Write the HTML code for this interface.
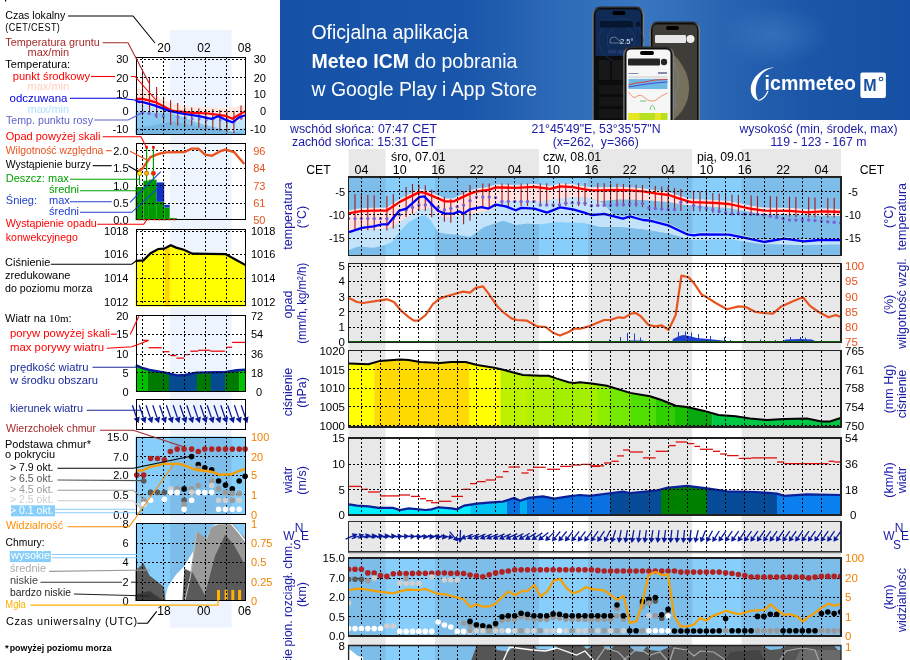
<!DOCTYPE html>
<html><head><meta charset="utf-8"><title>Meteogram</title>
<style>html,body{margin:0;padding:0;background:#fff;}body{width:910px;height:660px;overflow:hidden;position:relative;}</style>
</head><body>
<svg width="910" height="660" viewBox="0 0 910 660" style="position:absolute;left:0;top:0;will-change:transform">
<g font-family='"Liberation Sans", sans-serif'>
<rect x="348.6" y="149" width="36.9" height="511" fill="#e8e8e8"/>
<rect x="435.0" y="149" width="103.9" height="511" fill="#e8e8e8"/>
<rect x="588.3" y="149" width="103.9" height="511" fill="#e8e8e8"/>
<rect x="741.6" y="149" width="99.4" height="511" fill="#e8e8e8"/>
<text x="361.4" y="174" font-size="12.5" fill="#000" text-anchor="middle">04</text>
<text x="399.7" y="174" font-size="12.5" fill="#000" text-anchor="middle">10</text>
<text x="438.1" y="174" font-size="12.5" fill="#000" text-anchor="middle">16</text>
<text x="476.4" y="174" font-size="12.5" fill="#000" text-anchor="middle">22</text>
<text x="514.8" y="174" font-size="12.5" fill="#000" text-anchor="middle">04</text>
<text x="553.1" y="174" font-size="12.5" fill="#000" text-anchor="middle">10</text>
<text x="591.4" y="174" font-size="12.5" fill="#000" text-anchor="middle">16</text>
<text x="629.8" y="174" font-size="12.5" fill="#000" text-anchor="middle">22</text>
<text x="668.1" y="174" font-size="12.5" fill="#000" text-anchor="middle">04</text>
<text x="706.5" y="174" font-size="12.5" fill="#000" text-anchor="middle">10</text>
<text x="744.8" y="174" font-size="12.5" fill="#000" text-anchor="middle">16</text>
<text x="783.1" y="174" font-size="12.5" fill="#000" text-anchor="middle">22</text>
<text x="821.5" y="174" font-size="12.5" fill="#000" text-anchor="middle">04</text>
<text x="391" y="161" font-size="12.3" fill="#000">śro, 07.01</text>
<text x="543" y="161" font-size="12.3" fill="#000">czw, 08.01</text>
<text x="697" y="161" font-size="12.3" fill="#000">pią, 09.01</text>
<text x="318.5" y="174" font-size="12.2" fill="#000" text-anchor="middle">CET</text>
<text x="872" y="174" font-size="12.2" fill="#000" text-anchor="middle">CET</text>
<clipPath id="ct"><rect x="348.6" y="177" width="492.4" height="78.5"/></clipPath>
<g clip-path="url(#ct)">
<rect x="348.6" y="177" width="492.4" height="78.5" fill="#87cefa"/>
<rect x="348.6" y="177" width="36.9" height="78.5" fill="#7cbdea"/>
<rect x="435.0" y="177" width="103.9" height="78.5" fill="#7cbdea"/>
<rect x="588.3" y="177" width="103.9" height="78.5" fill="#7cbdea"/>
<rect x="741.6" y="177" width="99.4" height="78.5" fill="#7cbdea"/>
<path d="M349.0,232.9 L351.0,232.3 L353.0,231.7 L355.0,231.2 L357.0,230.6 L359.0,230.0 L361.0,229.9 L363.0,229.8 L365.0,229.7 L367.0,229.6 L369.0,229.5 L371.0,229.4 L373.0,229.3 L375.0,229.2 L377.0,229.1 L379.0,229.0 L381.0,228.9 L383.0,228.8 L385.0,228.7 L387.0,228.6 L389.0,228.1 L391.0,227.0 L393.0,226.0 L395.0,225.0 L397.0,223.9 L399.0,222.9 L401.0,221.6 L403.0,220.3 L405.0,219.0 L407.0,217.7 L409.0,216.4 L411.0,215.2 L413.0,213.9 L415.0,212.6 L417.0,211.3 L419.0,210.0 L421.0,209.7 L423.0,209.3 L425.0,208.9 L427.0,208.6 L429.0,208.2 L431.0,207.9 L433.0,210.1 L435.0,212.4 L437.0,214.6 L439.0,216.0 L441.0,216.6 L443.0,217.3 L445.0,217.9 L447.0,217.6 L449.0,217.3 L451.0,217.0 L453.0,216.7 L455.0,216.4 L457.0,216.1 L459.0,215.8 L461.0,215.5 L463.0,215.2 L465.0,214.9 L467.0,214.7 L469.0,214.4 L471.0,214.1 L473.0,213.8 L475.0,213.4 L477.0,213.1 L479.0,212.8 L481.0,212.4 L483.0,212.1 L485.0,211.7 L487.0,211.4 L489.0,211.0 L491.0,210.7 L493.0,208.3 L495.0,205.8 L497.0,203.4 L499.0,201.4 L501.0,201.4 L503.0,201.3 L505.0,201.3 L507.0,201.3 L509.0,201.3 L511.0,201.2 L513.0,201.2 L515.0,201.2 L517.0,201.1 L519.0,201.1 L521.0,201.1 L523.0,201.1 L525.0,201.2 L527.0,201.2 L529.0,201.2 L531.0,201.3 L533.0,201.3 L535.0,201.3 L537.0,201.3 L539.0,201.4 L541.0,201.4 L543.0,201.1 L545.0,200.8 L547.0,200.4 L549.0,200.1 L551.0,199.8 L553.0,199.5 L555.0,199.2 L557.0,198.9 L559.0,198.5 L561.0,198.2 L563.0,197.9 L565.0,197.8 L567.0,197.7 L569.0,197.6 L571.0,197.5 L573.0,197.4 L575.0,197.3 L577.0,197.2 L579.0,197.1 L581.0,197.0 L583.0,196.9 L585.0,197.2 L587.0,197.7 L589.0,198.2 L591.0,198.7 L593.0,199.2 L595.0,199.7 L597.0,200.2 L599.0,200.7 L601.0,201.9 L603.0,203.6 L605.0,205.4 L607.0,207.6 L609.0,209.9 L611.0,212.5 L613.0,214.1 L615.0,214.6 L617.0,215.1 L619.0,215.6 L621.0,216.1 L623.0,216.6 L625.0,216.0 L627.0,215.3 L629.0,214.7 L631.0,214.7 L633.0,215.2 L635.0,215.8 L637.0,216.3 L639.0,216.9 L641.0,217.4 L643.0,218.0 L645.0,218.2 L647.0,218.4 L649.0,218.6 L651.0,219.0 L653.0,219.5 L655.0,220.0 L657.0,220.5 L659.0,221.1 L661.0,221.6 L663.0,222.1 L665.0,222.6 L667.0,223.2 L669.0,223.7 L671.0,224.7 L673.0,225.6 L675.0,226.6 L677.0,227.5 L679.0,228.5 L681.0,229.4 L683.0,230.4 L685.0,231.3 L687.0,232.3 L689.0,232.6 L691.0,232.9 L693.0,233.2 L695.0,233.2 L697.0,232.9 L699.0,232.5 L701.0,232.3 L703.0,232.3 L705.0,232.4 L707.0,232.4 L709.0,232.4 L711.0,232.4 L713.0,232.4 L715.0,232.5 L717.0,232.5 L719.0,232.5 L721.0,232.5 L723.0,232.5 L725.0,232.6 L727.0,232.6 L729.0,232.6 L731.0,233.0 L733.0,233.4 L735.0,233.8 L737.0,234.3 L739.0,234.7 L741.0,235.1 L743.0,235.5 L745.0,235.9 L747.0,236.3 L749.0,236.8 L751.0,237.2 L753.0,237.6 L755.0,238.1 L757.0,238.5 L759.0,238.9 L761.0,239.4 L763.0,239.8 L765.0,239.8 L767.0,239.5 L769.0,239.2 L771.0,238.8 L773.0,238.5 L775.0,238.1 L777.0,237.8 L779.0,237.4 L781.0,237.1 L783.0,236.8 L785.0,236.7 L787.0,237.0 L789.0,237.3 L791.0,237.6 L793.0,237.9 L795.0,238.1 L797.0,238.4 L799.0,238.7 L801.0,239.0 L803.0,239.3 L805.0,239.3 L807.0,239.1 L809.0,238.9 L811.0,238.7 L813.0,238.6 L815.0,238.4 L817.0,238.2 L819.0,238.0 L821.0,238.0 L823.0,238.0 L825.0,238.0 L827.0,238.0 L829.0,238.0 L831.0,238.0 L833.0,238.0 L835.0,238.0 L837.0,238.0 L839.0,238.0 L841.0,238.0 L841.0,244.5 L839.0,244.5 L837.0,244.5 L835.0,244.6 L833.0,244.6 L831.0,244.6 L829.0,244.6 L827.0,244.7 L825.0,244.7 L823.0,244.7 L821.0,244.7 L819.0,244.8 L817.0,244.8 L815.0,244.8 L813.0,244.8 L811.0,244.9 L809.0,244.9 L807.0,244.9 L805.0,244.9 L803.0,245.0 L801.0,245.0 L799.0,245.0 L797.0,244.9 L795.0,244.9 L793.0,244.8 L791.0,244.8 L789.0,244.7 L787.0,244.7 L785.0,244.6 L783.0,244.6 L781.0,244.5 L779.0,244.5 L777.0,244.4 L775.0,244.4 L773.0,244.3 L771.0,244.3 L769.0,244.2 L767.0,244.2 L765.0,244.1 L763.0,244.1 L761.0,244.0 L759.0,243.8 L757.0,243.5 L755.0,243.2 L753.0,242.8 L751.0,242.5 L749.0,242.2 L747.0,241.9 L745.0,241.5 L743.0,241.2 L741.0,240.9 L739.0,240.5 L737.0,240.2 L735.0,239.9 L733.0,239.6 L731.0,239.2 L729.0,238.9 L727.0,239.0 L725.0,239.0 L723.0,239.1 L721.0,239.2 L719.0,239.2 L717.0,239.3 L715.0,239.3 L713.0,239.4 L711.0,239.5 L709.0,239.5 L707.0,239.6 L705.0,239.7 L703.0,239.7 L701.0,239.8 L699.0,239.8 L697.0,239.9 L695.0,240.0 L693.0,239.8 L691.0,239.4 L689.0,239.0 L687.0,238.6 L685.0,238.0 L683.0,237.5 L681.0,236.9 L679.0,236.4 L677.0,235.8 L675.0,235.3 L673.0,234.7 L671.0,234.2 L669.0,233.6 L667.0,233.3 L665.0,232.9 L663.0,232.6 L661.0,232.3 L659.0,231.9 L657.0,231.6 L655.0,231.3 L653.0,231.0 L651.0,230.6 L649.0,230.3 L647.0,230.0 L645.0,229.6 L643.0,229.3 L641.0,229.1 L639.0,228.9 L637.0,228.7 L635.0,228.5 L633.0,228.3 L631.0,228.0 L629.0,227.8 L627.0,227.6 L625.0,227.4 L623.0,227.2 L621.0,227.0 L619.0,227.0 L617.0,227.0 L615.0,227.0 L613.0,227.0 L611.0,227.0 L609.0,227.0 L607.0,227.0 L605.0,227.0 L603.0,227.0 L601.0,227.0 L599.0,226.7 L597.0,226.2 L595.0,225.7 L593.0,225.2 L591.0,224.7 L589.0,224.2 L587.0,223.7 L585.0,223.2 L583.0,222.9 L581.0,222.8 L579.0,222.8 L577.0,222.7 L575.0,222.6 L573.0,222.6 L571.0,222.5 L569.0,222.5 L567.0,222.4 L565.0,222.4 L563.0,222.3 L561.0,222.2 L559.0,222.2 L557.0,222.1 L555.0,222.2 L553.0,222.5 L551.0,222.8 L549.0,223.1 L547.0,223.4 L545.0,223.7 L543.0,224.0 L541.0,224.3 L539.0,224.2 L537.0,224.1 L535.0,224.0 L533.0,223.9 L531.0,223.8 L529.0,223.7 L527.0,223.6 L525.0,223.9 L523.0,224.1 L521.0,224.4 L519.0,224.6 L517.0,224.9 L515.0,224.7 L513.0,224.0 L511.0,223.3 L509.0,222.7 L507.0,222.0 L505.0,221.4 L503.0,220.7 L501.0,221.4 L499.0,222.0 L497.0,222.7 L495.0,223.4 L493.0,224.1 L491.0,224.7 L489.0,225.4 L487.0,226.1 L485.0,226.8 L483.0,227.8 L481.0,229.2 L479.0,230.7 L477.0,232.1 L475.0,233.5 L473.0,235.0 L471.0,236.4 L469.0,236.9 L467.0,236.5 L465.0,236.1 L463.0,235.8 L461.0,235.4 L459.0,235.0 L457.0,234.8 L455.0,234.6 L453.0,234.4 L451.0,234.2 L449.0,234.0 L447.0,233.8 L445.0,233.6 L443.0,233.2 L441.0,232.7 L439.0,232.3 L437.0,230.5 L435.0,227.2 L433.0,224.0 L431.0,220.7 L429.0,218.8 L427.0,216.9 L425.0,215.0 L423.0,215.5 L421.0,215.9 L419.0,216.4 L417.0,217.5 L415.0,218.7 L413.0,219.8 L411.0,221.0 L409.0,222.1 L407.0,224.1 L405.0,226.1 L403.0,228.1 L401.0,230.1 L399.0,232.1 L397.0,235.0 L395.0,237.8 L393.0,240.7 L391.0,242.5 L389.0,243.3 L387.0,244.2 L385.0,245.0 L383.0,245.5 L381.0,246.0 L379.0,246.5 L377.0,247.0 L375.0,247.5 L373.0,247.8 L371.0,247.6 L369.0,247.4 L367.0,247.2 L365.0,247.0 L363.0,246.8 L361.0,246.6 L359.0,246.4 L357.0,247.1 L355.0,247.8 L353.0,248.6 L351.0,249.3 L349.0,250.0 Z" fill="#c2e3fa"/>
<path d="M349.0,210.3 L351.0,209.9 L353.0,209.5 L355.0,209.2 L357.0,208.8 L359.0,208.4 L361.0,208.3 L363.0,208.2 L365.0,208.1 L367.0,208.0 L369.0,207.9 L371.0,207.8 L373.0,207.7 L375.0,207.7 L377.0,207.7 L379.0,207.7 L381.0,207.7 L383.0,207.7 L385.0,207.7 L387.0,207.3 L389.0,206.0 L391.0,204.7 L393.0,203.4 L395.0,202.1 L397.0,200.8 L399.0,199.5 L401.0,198.2 L403.0,197.2 L405.0,196.2 L407.0,195.2 L409.0,194.2 L411.0,193.2 L413.0,192.2 L415.0,191.2 L417.0,190.2 L419.0,189.2 L421.0,189.3 L423.0,189.6 L425.0,189.9 L427.0,190.8 L429.0,191.6 L431.0,192.5 L433.0,193.3 L435.0,194.2 L437.0,195.0 L439.0,195.8 L441.0,196.7 L443.0,197.6 L445.0,198.4 L447.0,198.4 L449.0,198.4 L451.0,198.4 L453.0,198.4 L455.0,197.7 L457.0,196.8 L459.0,195.8 L461.0,194.9 L463.0,193.9 L465.0,193.0 L467.0,192.0 L469.0,191.1 L471.0,190.3 L473.0,189.7 L475.0,189.0 L477.0,188.4 L479.0,188.2 L481.0,187.9 L483.0,187.7 L485.0,187.4 L487.0,187.2 L489.0,186.9 L491.0,186.1 L493.0,185.4 L495.0,184.7 L497.0,184.4 L499.0,184.5 L501.0,184.5 L503.0,184.6 L505.0,184.6 L507.0,184.7 L509.0,184.7 L511.0,184.8 L513.0,184.8 L515.0,184.9 L517.0,184.8 L519.0,184.7 L521.0,184.6 L523.0,184.5 L525.0,184.4 L527.0,184.3 L529.0,184.2 L531.0,184.1 L533.0,184.0 L535.0,184.0 L537.0,184.2 L539.0,184.5 L541.0,184.8 L543.0,185.0 L545.0,185.3 L547.0,185.5 L549.0,185.8 L551.0,185.7 L553.0,185.2 L555.0,184.7 L557.0,184.2 L559.0,183.7 L561.0,183.5 L563.0,183.6 L565.0,183.7 L567.0,183.8 L569.0,183.9 L571.0,184.0 L573.0,184.1 L575.0,184.5 L577.0,184.9 L579.0,185.3 L581.0,185.7 L583.0,186.0 L585.0,186.4 L587.0,186.7 L589.0,187.0 L591.0,187.2 L593.0,187.3 L595.0,187.3 L597.0,187.3 L599.0,187.3 L601.0,187.3 L603.0,187.2 L605.0,187.2 L607.0,187.2 L609.0,187.1 L611.0,187.1 L613.0,187.1 L615.0,187.0 L617.0,187.0 L619.0,187.0 L621.0,187.1 L623.0,187.1 L625.0,187.2 L627.0,187.2 L629.0,187.3 L631.0,187.4 L633.0,187.6 L635.0,187.7 L637.0,187.9 L639.0,188.1 L641.0,188.2 L643.0,188.4 L645.0,188.7 L647.0,189.0 L649.0,189.3 L651.0,189.7 L653.0,190.0 L655.0,190.3 L657.0,190.6 L659.0,190.8 L661.0,191.1 L663.0,191.3 L665.0,191.5 L667.0,191.8 L669.0,192.0 L671.0,192.7 L673.0,193.4 L675.0,194.2 L677.0,194.9 L679.0,195.5 L681.0,196.1 L683.0,196.7 L685.0,197.3 L687.0,197.9 L689.0,198.5 L691.0,199.1 L693.0,199.2 L695.0,199.2 L697.0,199.3 L699.0,199.4 L701.0,199.4 L703.0,199.5 L705.0,199.6 L707.0,199.7 L709.0,199.7 L711.0,199.8 L713.0,199.9 L715.0,200.0 L717.0,200.1 L719.0,200.3 L721.0,200.4 L723.0,200.6 L725.0,200.7 L727.0,200.9 L729.0,201.0 L731.0,201.4 L733.0,201.9 L735.0,202.3 L737.0,202.8 L739.0,203.2 L741.0,203.6 L743.0,204.1 L745.0,204.5 L747.0,204.9 L749.0,205.4 L751.0,205.7 L753.0,206.0 L755.0,206.3 L757.0,206.6 L759.0,206.9 L761.0,207.2 L763.0,207.5 L765.0,207.6 L767.0,207.6 L769.0,207.7 L771.0,207.7 L773.0,207.7 L775.0,207.7 L777.0,207.8 L779.0,207.8 L781.0,207.8 L783.0,207.8 L785.0,207.8 L787.0,207.9 L789.0,207.9 L791.0,208.0 L793.0,208.1 L795.0,208.3 L797.0,208.5 L799.0,208.6 L801.0,208.8 L803.0,209.0 L805.0,209.1 L807.0,209.3 L809.0,209.2 L811.0,209.1 L813.0,209.0 L815.0,208.9 L817.0,208.8 L819.0,208.7 L821.0,208.6 L823.0,208.5 L825.0,208.4 L827.0,208.5 L829.0,208.6 L831.0,208.6 L833.0,208.7 L835.0,208.8 L837.0,208.9 L839.0,208.9 L841.0,209.0 L841.0,216.0 L839.0,216.0 L837.0,215.9 L835.0,215.9 L833.0,215.8 L831.0,215.8 L829.0,215.7 L827.0,215.7 L825.0,215.6 L823.0,215.6 L821.0,215.5 L819.0,215.5 L817.0,215.4 L815.0,215.4 L813.0,215.3 L811.0,215.3 L809.0,215.2 L807.0,215.2 L805.0,215.1 L803.0,215.1 L801.0,215.0 L799.0,215.0 L797.0,214.9 L795.0,214.9 L793.0,214.8 L791.0,214.8 L789.0,214.7 L787.0,214.7 L785.0,214.6 L783.0,214.6 L781.0,214.5 L779.0,214.5 L777.0,214.4 L775.0,214.4 L773.0,214.3 L771.0,214.3 L769.0,214.2 L767.0,214.2 L765.0,214.1 L763.0,214.1 L761.0,214.0 L759.0,213.8 L757.0,213.4 L755.0,213.0 L753.0,212.6 L751.0,212.2 L749.0,211.8 L747.0,211.4 L745.0,211.0 L743.0,210.7 L741.0,210.3 L739.0,209.9 L737.0,209.5 L735.0,209.1 L733.0,208.7 L731.0,208.3 L729.0,207.9 L727.0,207.8 L725.0,207.6 L723.0,207.5 L721.0,207.4 L719.0,207.2 L717.0,207.1 L715.0,207.0 L713.0,206.8 L711.0,206.7 L709.0,206.6 L707.0,206.4 L705.0,206.3 L703.0,206.1 L701.0,206.0 L699.0,205.9 L697.0,205.7 L695.0,205.6 L693.0,205.5 L691.0,205.3 L689.0,205.2 L687.0,205.1 L685.0,204.8 L683.0,204.5 L681.0,204.1 L679.0,203.8 L677.0,203.4 L675.0,203.1 L673.0,202.7 L671.0,202.4 L669.0,202.0 L667.0,201.8 L665.0,201.7 L663.0,201.5 L661.0,201.4 L659.0,201.2 L657.0,201.1 L655.0,200.9 L653.0,200.8 L651.0,200.6 L649.0,200.5 L647.0,200.3 L645.0,200.2 L643.0,200.0 L641.0,199.9 L639.0,199.9 L637.0,199.8 L635.0,199.7 L633.0,199.7 L631.0,199.6 L629.0,199.6 L627.0,199.5 L625.0,199.4 L623.0,199.4 L621.0,199.3 L619.0,199.5 L617.0,199.6 L615.0,199.8 L613.0,199.9 L611.0,200.1 L609.0,200.3 L607.0,200.4 L605.0,200.6 L603.0,200.8 L601.0,200.9 L599.0,200.7 L597.0,200.2 L595.0,199.7 L593.0,199.2 L591.0,198.7 L589.0,198.2 L587.0,197.7 L585.0,197.2 L583.0,196.9 L581.0,197.0 L579.0,197.1 L577.0,197.2 L575.0,197.3 L573.0,197.4 L571.0,197.5 L569.0,197.6 L567.0,197.7 L565.0,197.8 L563.0,197.9 L561.0,198.2 L559.0,198.5 L557.0,198.9 L555.0,199.2 L553.0,199.5 L551.0,199.8 L549.0,200.1 L547.0,200.4 L545.0,200.8 L543.0,201.1 L541.0,201.4 L539.0,201.4 L537.0,201.3 L535.0,201.3 L533.0,201.3 L531.0,201.3 L529.0,201.2 L527.0,201.2 L525.0,201.2 L523.0,201.1 L521.0,201.1 L519.0,201.1 L517.0,201.1 L515.0,201.2 L513.0,201.2 L511.0,201.2 L509.0,201.3 L507.0,201.3 L505.0,201.3 L503.0,201.3 L501.0,201.4 L499.0,201.4 L497.0,203.4 L495.0,205.8 L493.0,208.3 L491.0,210.7 L489.0,211.0 L487.0,211.4 L485.0,211.7 L483.0,212.1 L481.0,212.4 L479.0,212.8 L477.0,213.1 L475.0,213.4 L473.0,213.8 L471.0,214.1 L469.0,214.4 L467.0,214.7 L465.0,214.9 L463.0,215.2 L461.0,215.5 L459.0,215.8 L457.0,216.1 L455.0,216.4 L453.0,216.7 L451.0,217.0 L449.0,217.3 L447.0,217.6 L445.0,217.9 L443.0,217.3 L441.0,216.6 L439.0,216.0 L437.0,214.6 L435.0,212.4 L433.0,210.1 L431.0,207.9 L429.0,208.2 L427.0,208.6 L425.0,208.9 L423.0,209.3 L421.0,209.7 L419.0,210.0 L417.0,211.3 L415.0,212.6 L413.0,213.9 L411.0,215.2 L409.0,216.4 L407.0,217.7 L405.0,219.0 L403.0,220.3 L401.0,221.6 L399.0,222.9 L397.0,223.9 L395.0,225.0 L393.0,226.0 L391.0,227.0 L389.0,228.1 L387.0,228.6 L385.0,228.7 L383.0,228.8 L381.0,228.9 L379.0,229.0 L377.0,229.1 L375.0,229.2 L373.0,229.3 L371.0,229.4 L369.0,229.5 L367.0,229.6 L365.0,229.7 L363.0,229.8 L361.0,229.9 L359.0,230.0 L357.0,230.6 L355.0,231.2 L353.0,231.7 L351.0,232.3 L349.0,232.9 Z" fill="#ffe1e1"/>
<line x1="355.0" y1="194.3" x2="355.0" y2="230.1" stroke="#a21b1b" stroke-width="1.1"/>
<line x1="361.4" y1="194.6" x2="361.4" y2="230.2" stroke="#a21b1b" stroke-width="1.1"/>
<line x1="367.8" y1="194.9" x2="367.8" y2="230.3" stroke="#a21b1b" stroke-width="1.1"/>
<line x1="374.2" y1="195.2" x2="374.2" y2="230.4" stroke="#a21b1b" stroke-width="1.1"/>
<line x1="386.9" y1="195.9" x2="386.9" y2="230.6" stroke="#a21b1b" stroke-width="1.1"/>
<line x1="393.3" y1="194.0" x2="393.3" y2="228.5" stroke="#a21b1b" stroke-width="1.1"/>
<line x1="406.1" y1="186.9" x2="406.1" y2="216.9" stroke="#a21b1b" stroke-width="1.1"/>
<line x1="412.5" y1="184.0" x2="412.5" y2="213.9" stroke="#a21b1b" stroke-width="1.1"/>
<line x1="418.9" y1="184.5" x2="418.9" y2="210.8" stroke="#a21b1b" stroke-width="1.1"/>
<line x1="425.3" y1="185.2" x2="425.3" y2="211.0" stroke="#a21b1b" stroke-width="1.1"/>
<line x1="431.7" y1="189.4" x2="431.7" y2="217.2" stroke="#a21b1b" stroke-width="1.1"/>
<line x1="444.4" y1="196.7" x2="444.4" y2="221.8" stroke="#a21b1b" stroke-width="1.1"/>
<line x1="450.8" y1="198.9" x2="450.8" y2="222.7" stroke="#a21b1b" stroke-width="1.1"/>
<line x1="463.6" y1="191.2" x2="463.6" y2="224.3" stroke="#a21b1b" stroke-width="1.1"/>
<line x1="470.0" y1="185.0" x2="470.0" y2="220.7" stroke="#a21b1b" stroke-width="1.1"/>
<line x1="482.8" y1="183.6" x2="482.8" y2="207.2" stroke="#a21b1b" stroke-width="1.1"/>
<line x1="489.2" y1="183.6" x2="489.2" y2="208.8" stroke="#a21b1b" stroke-width="1.1"/>
<line x1="502.0" y1="183.5" x2="502.0" y2="206.0" stroke="#a21b1b" stroke-width="1.1"/>
<line x1="508.3" y1="183.5" x2="508.3" y2="206.0" stroke="#a21b1b" stroke-width="1.1"/>
<line x1="521.1" y1="183.4" x2="521.1" y2="206.0" stroke="#a21b1b" stroke-width="1.1"/>
<line x1="527.5" y1="183.4" x2="527.5" y2="206.0" stroke="#a21b1b" stroke-width="1.1"/>
<line x1="540.3" y1="183.3" x2="540.3" y2="206.0" stroke="#a21b1b" stroke-width="1.1"/>
<line x1="546.7" y1="183.3" x2="546.7" y2="206.0" stroke="#a21b1b" stroke-width="1.1"/>
<line x1="559.5" y1="183.2" x2="559.5" y2="206.0" stroke="#a21b1b" stroke-width="1.1"/>
<line x1="565.8" y1="183.2" x2="565.8" y2="206.0" stroke="#a21b1b" stroke-width="1.1"/>
<line x1="578.6" y1="183.1" x2="578.6" y2="206.0" stroke="#a21b1b" stroke-width="1.1"/>
<line x1="585.0" y1="183.1" x2="585.0" y2="206.0" stroke="#a21b1b" stroke-width="1.1"/>
<line x1="597.8" y1="183.0" x2="597.8" y2="206.0" stroke="#a21b1b" stroke-width="1.1"/>
<line x1="604.2" y1="183.2" x2="604.2" y2="206.1" stroke="#a21b1b" stroke-width="1.1"/>
<line x1="610.6" y1="183.5" x2="610.6" y2="206.2" stroke="#a21b1b" stroke-width="1.1"/>
<line x1="617.0" y1="183.8" x2="617.0" y2="206.4" stroke="#a21b1b" stroke-width="1.1"/>
<line x1="623.4" y1="184.1" x2="623.4" y2="206.5" stroke="#a21b1b" stroke-width="1.1"/>
<line x1="629.7" y1="184.4" x2="629.7" y2="206.7" stroke="#a21b1b" stroke-width="1.1"/>
<line x1="636.1" y1="184.7" x2="636.1" y2="206.8" stroke="#a21b1b" stroke-width="1.1"/>
<line x1="642.5" y1="185.0" x2="642.5" y2="207.0" stroke="#a21b1b" stroke-width="1.1"/>
<line x1="655.3" y1="185.9" x2="655.3" y2="208.8" stroke="#a21b1b" stroke-width="1.1"/>
<line x1="661.7" y1="186.4" x2="661.7" y2="209.7" stroke="#a21b1b" stroke-width="1.1"/>
<line x1="668.1" y1="186.9" x2="668.1" y2="210.6" stroke="#a21b1b" stroke-width="1.1"/>
<line x1="674.5" y1="187.9" x2="674.5" y2="210.8" stroke="#a21b1b" stroke-width="1.1"/>
<line x1="680.9" y1="189.0" x2="680.9" y2="211.0" stroke="#a21b1b" stroke-width="1.1"/>
<line x1="693.6" y1="190.7" x2="693.6" y2="211.3" stroke="#a21b1b" stroke-width="1.1"/>
<line x1="700.0" y1="191.4" x2="700.0" y2="211.4" stroke="#a21b1b" stroke-width="1.1"/>
<line x1="706.4" y1="192.1" x2="706.4" y2="212.0" stroke="#a21b1b" stroke-width="1.1"/>
<line x1="712.8" y1="192.9" x2="712.8" y2="212.7" stroke="#a21b1b" stroke-width="1.1"/>
<line x1="719.2" y1="193.6" x2="719.2" y2="213.3" stroke="#a21b1b" stroke-width="1.1"/>
<line x1="725.6" y1="194.1" x2="725.6" y2="214.0" stroke="#a21b1b" stroke-width="1.1"/>
<line x1="732.0" y1="194.5" x2="732.0" y2="214.5" stroke="#a21b1b" stroke-width="1.1"/>
<line x1="738.4" y1="194.8" x2="738.4" y2="214.8" stroke="#a21b1b" stroke-width="1.1"/>
<line x1="751.1" y1="195.5" x2="751.1" y2="215.5" stroke="#a21b1b" stroke-width="1.1"/>
<line x1="757.5" y1="195.9" x2="757.5" y2="215.9" stroke="#a21b1b" stroke-width="1.1"/>
<line x1="770.3" y1="196.3" x2="770.3" y2="216.3" stroke="#a21b1b" stroke-width="1.1"/>
<line x1="776.7" y1="196.4" x2="776.7" y2="216.4" stroke="#a21b1b" stroke-width="1.1"/>
<line x1="789.5" y1="196.7" x2="789.5" y2="216.7" stroke="#a21b1b" stroke-width="1.1"/>
<line x1="795.9" y1="196.9" x2="795.9" y2="216.9" stroke="#a21b1b" stroke-width="1.1"/>
<line x1="808.7" y1="197.2" x2="808.7" y2="217.2" stroke="#a21b1b" stroke-width="1.1"/>
<line x1="815.0" y1="197.4" x2="815.0" y2="217.4" stroke="#a21b1b" stroke-width="1.1"/>
<line x1="827.8" y1="197.7" x2="827.8" y2="217.7" stroke="#a21b1b" stroke-width="1.1"/>
<line x1="834.2" y1="197.8" x2="834.2" y2="217.8" stroke="#a21b1b" stroke-width="1.1"/>
<circle cx="348.6" cy="218.6" r="1.7" fill="#7a5fd0"/>
<circle cx="355.0" cy="218.6" r="1.7" fill="#7a5fd0"/>
<circle cx="361.4" cy="218.6" r="1.7" fill="#7a5fd0"/>
<circle cx="367.8" cy="218.6" r="1.7" fill="#7a5fd0"/>
<circle cx="374.2" cy="218.6" r="1.7" fill="#7a5fd0"/>
<circle cx="380.5" cy="218.6" r="1.7" fill="#7a5fd0"/>
<circle cx="386.9" cy="218.6" r="1.7" fill="#7a5fd0"/>
<circle cx="393.3" cy="218.6" r="1.7" fill="#7a5fd0"/>
<circle cx="399.7" cy="214.9" r="1.7" fill="#7a5fd0"/>
<circle cx="406.1" cy="210.0" r="1.7" fill="#7a5fd0"/>
<circle cx="412.5" cy="207.5" r="1.7" fill="#7a5fd0"/>
<circle cx="418.9" cy="205.0" r="1.7" fill="#7a5fd0"/>
<circle cx="425.3" cy="205.0" r="1.7" fill="#7a5fd0"/>
<circle cx="431.7" cy="205.2" r="1.7" fill="#7a5fd0"/>
<circle cx="438.1" cy="207.5" r="1.7" fill="#7a5fd0"/>
<circle cx="444.4" cy="209.8" r="1.7" fill="#7a5fd0"/>
<circle cx="450.8" cy="208.5" r="1.7" fill="#7a5fd0"/>
<circle cx="457.2" cy="206.8" r="1.7" fill="#7a5fd0"/>
<circle cx="463.6" cy="205.1" r="1.7" fill="#7a5fd0"/>
<circle cx="470.0" cy="200.7" r="1.7" fill="#7a5fd0"/>
<circle cx="476.4" cy="197.1" r="1.7" fill="#7a5fd0"/>
<circle cx="482.8" cy="197.1" r="1.7" fill="#7a5fd0"/>
<circle cx="489.2" cy="197.1" r="1.7" fill="#7a5fd0"/>
<circle cx="495.6" cy="197.6" r="1.7" fill="#7a5fd0"/>
<circle cx="502.0" cy="201.4" r="1.7" fill="#7a5fd0"/>
<circle cx="508.3" cy="201.4" r="1.7" fill="#7a5fd0"/>
<circle cx="514.7" cy="201.4" r="1.7" fill="#7a5fd0"/>
<circle cx="521.1" cy="201.4" r="1.7" fill="#7a5fd0"/>
<circle cx="527.5" cy="201.4" r="1.7" fill="#7a5fd0"/>
<circle cx="533.9" cy="201.4" r="1.7" fill="#7a5fd0"/>
<circle cx="540.3" cy="205.0" r="1.7" fill="#7a5fd0"/>
<circle cx="546.7" cy="205.0" r="1.7" fill="#7a5fd0"/>
<circle cx="553.1" cy="205.0" r="1.7" fill="#7a5fd0"/>
<circle cx="559.5" cy="204.7" r="1.7" fill="#7a5fd0"/>
<circle cx="565.8" cy="203.2" r="1.7" fill="#7a5fd0"/>
<circle cx="572.2" cy="202.9" r="1.7" fill="#7a5fd0"/>
<circle cx="578.6" cy="202.9" r="1.7" fill="#7a5fd0"/>
<circle cx="585.0" cy="203.3" r="1.7" fill="#7a5fd0"/>
<circle cx="591.4" cy="205.7" r="1.7" fill="#7a5fd0"/>
<circle cx="597.8" cy="205.4" r="1.7" fill="#7a5fd0"/>
<circle cx="604.2" cy="205.2" r="1.7" fill="#7a5fd0"/>
<circle cx="610.6" cy="204.9" r="1.7" fill="#7a5fd0"/>
<circle cx="617.0" cy="204.7" r="1.7" fill="#7a5fd0"/>
<circle cx="623.4" cy="204.4" r="1.7" fill="#7a5fd0"/>
<circle cx="629.7" cy="204.1" r="1.7" fill="#7a5fd0"/>
<circle cx="636.1" cy="203.9" r="1.7" fill="#7a5fd0"/>
<circle cx="642.5" cy="203.6" r="1.7" fill="#7a5fd0"/>
<circle cx="648.9" cy="207.9" r="1.7" fill="#7a5fd0"/>
<circle cx="655.3" cy="208.5" r="1.7" fill="#7a5fd0"/>
<circle cx="661.7" cy="209.0" r="1.7" fill="#7a5fd0"/>
<circle cx="668.1" cy="209.5" r="1.7" fill="#7a5fd0"/>
<circle cx="674.5" cy="209.5" r="1.7" fill="#7a5fd0"/>
<circle cx="680.9" cy="202.2" r="1.7" fill="#7a5fd0"/>
<circle cx="687.2" cy="202.1" r="1.7" fill="#7a5fd0"/>
<circle cx="693.6" cy="205.5" r="1.7" fill="#7a5fd0"/>
<circle cx="700.0" cy="206.9" r="1.7" fill="#7a5fd0"/>
<circle cx="706.4" cy="208.3" r="1.7" fill="#7a5fd0"/>
<circle cx="712.8" cy="209.7" r="1.7" fill="#7a5fd0"/>
<circle cx="719.2" cy="211.2" r="1.7" fill="#7a5fd0"/>
<circle cx="725.6" cy="212.8" r="1.7" fill="#7a5fd0"/>
<circle cx="732.0" cy="213.7" r="1.7" fill="#7a5fd0"/>
<circle cx="738.4" cy="213.8" r="1.7" fill="#7a5fd0"/>
<circle cx="744.8" cy="214.0" r="1.7" fill="#7a5fd0"/>
<circle cx="751.1" cy="214.1" r="1.7" fill="#7a5fd0"/>
<circle cx="757.5" cy="214.2" r="1.7" fill="#7a5fd0"/>
<circle cx="763.9" cy="215.0" r="1.7" fill="#7a5fd0"/>
<circle cx="770.3" cy="216.3" r="1.7" fill="#7a5fd0"/>
<circle cx="776.7" cy="217.5" r="1.7" fill="#7a5fd0"/>
<circle cx="783.1" cy="218.7" r="1.7" fill="#7a5fd0"/>
<circle cx="789.5" cy="219.9" r="1.7" fill="#7a5fd0"/>
<circle cx="795.9" cy="220.0" r="1.7" fill="#7a5fd0"/>
<circle cx="802.3" cy="220.0" r="1.7" fill="#7a5fd0"/>
<circle cx="808.7" cy="220.0" r="1.7" fill="#7a5fd0"/>
<circle cx="815.0" cy="220.5" r="1.7" fill="#7a5fd0"/>
<circle cx="821.4" cy="221.1" r="1.7" fill="#7a5fd0"/>
<circle cx="827.8" cy="221.7" r="1.7" fill="#7a5fd0"/>
<circle cx="834.2" cy="222.3" r="1.7" fill="#7a5fd0"/>
<circle cx="840.6" cy="223.0" r="1.7" fill="#7a5fd0"/>
<path d="M349.0,213.3 L359.0,211.4 L373.6,210.7 L386.4,210.7 L400.7,201.4 L419.3,192.1 L425.0,192.9 L445.0,201.4 L453.6,201.4 L470.0,193.6 L477.0,191.4 L488.6,190.0 L495.7,187.4 L515.7,187.9 L534.3,186.9 L550.0,188.9 L560.0,186.4 L572.9,187.1 L584.3,189.3 L591.4,190.3 L600.0,190.3 L617.0,190.0 L630.0,190.3 L643.0,191.4 L657.0,193.6 L669.0,195.0 L677.0,197.9 L691.0,202.1 L714.0,202.9 L729.0,204.0 L750.0,208.6 L764.0,210.6 L790.0,210.9 L807.0,212.3 L824.0,211.4 L841.0,212.0" fill="none" stroke="#ff0000" stroke-width="2.3" stroke-linejoin="round"/>
<path d="M349.0,232.1 L362.0,227.9 L373.6,226.4 L382.0,224.3 L387.9,224.3 L399.3,210.7 L406.4,208.6 L419.3,197.1 L424.3,196.4 L437.9,210.7 L445.0,213.6 L453.6,213.6 L459.3,211.4 L463.6,213.6 L470.0,209.3 L481.4,207.1 L488.6,208.6 L495.7,204.6 L505.7,206.4 L515.7,210.3 L521.4,207.9 L534.3,208.6 L547.1,212.6 L560.0,207.4 L572.9,209.3 L584.3,212.6 L591.4,215.0 L600.0,214.3 L604.0,213.9 L623.0,218.6 L630.0,216.4 L643.0,220.0 L650.0,220.7 L669.0,225.7 L687.0,234.3 L694.0,235.4 L700.0,234.3 L729.0,234.6 L744.0,237.7 L764.0,242.0 L784.0,238.6 L804.0,241.4 L819.0,240.0 L841.0,240.0" fill="none" stroke="#0000ff" stroke-width="2.3" stroke-linejoin="round"/>
<line x1="361.4" y1="177" x2="361.4" y2="255.5" stroke="#000" stroke-width="1" stroke-dasharray="2,2" shape-rendering="crispEdges"/>
<line x1="380.6" y1="177" x2="380.6" y2="255.5" stroke="#000" stroke-width="1" stroke-dasharray="2,2" shape-rendering="crispEdges"/>
<line x1="399.7" y1="177" x2="399.7" y2="255.5" stroke="#000" stroke-width="1" stroke-dasharray="2,2" shape-rendering="crispEdges"/>
<line x1="418.9" y1="177" x2="418.9" y2="255.5" stroke="#000" stroke-width="1" stroke-dasharray="2,2" shape-rendering="crispEdges"/>
<line x1="438.1" y1="177" x2="438.1" y2="255.5" stroke="#000" stroke-width="1" stroke-dasharray="2,2" shape-rendering="crispEdges"/>
<line x1="457.2" y1="177" x2="457.2" y2="255.5" stroke="#000" stroke-width="1" stroke-dasharray="2,2" shape-rendering="crispEdges"/>
<line x1="476.4" y1="177" x2="476.4" y2="255.5" stroke="#000" stroke-width="1" stroke-dasharray="2,2" shape-rendering="crispEdges"/>
<line x1="495.6" y1="177" x2="495.6" y2="255.5" stroke="#000" stroke-width="1" stroke-dasharray="2,2" shape-rendering="crispEdges"/>
<line x1="514.8" y1="177" x2="514.8" y2="255.5" stroke="#000" stroke-width="1" stroke-dasharray="2,2" shape-rendering="crispEdges"/>
<line x1="533.9" y1="177" x2="533.9" y2="255.5" stroke="#000" stroke-width="1" stroke-dasharray="2,2" shape-rendering="crispEdges"/>
<line x1="553.1" y1="177" x2="553.1" y2="255.5" stroke="#000" stroke-width="1" stroke-dasharray="2,2" shape-rendering="crispEdges"/>
<line x1="572.3" y1="177" x2="572.3" y2="255.5" stroke="#000" stroke-width="1" stroke-dasharray="2,2" shape-rendering="crispEdges"/>
<line x1="591.4" y1="177" x2="591.4" y2="255.5" stroke="#000" stroke-width="1" stroke-dasharray="2,2" shape-rendering="crispEdges"/>
<line x1="610.6" y1="177" x2="610.6" y2="255.5" stroke="#000" stroke-width="1" stroke-dasharray="2,2" shape-rendering="crispEdges"/>
<line x1="629.8" y1="177" x2="629.8" y2="255.5" stroke="#000" stroke-width="1" stroke-dasharray="2,2" shape-rendering="crispEdges"/>
<line x1="649.0" y1="177" x2="649.0" y2="255.5" stroke="#000" stroke-width="1" stroke-dasharray="2,2" shape-rendering="crispEdges"/>
<line x1="668.1" y1="177" x2="668.1" y2="255.5" stroke="#000" stroke-width="1" stroke-dasharray="2,2" shape-rendering="crispEdges"/>
<line x1="687.3" y1="177" x2="687.3" y2="255.5" stroke="#000" stroke-width="1" stroke-dasharray="2,2" shape-rendering="crispEdges"/>
<line x1="706.5" y1="177" x2="706.5" y2="255.5" stroke="#000" stroke-width="1" stroke-dasharray="2,2" shape-rendering="crispEdges"/>
<line x1="725.6" y1="177" x2="725.6" y2="255.5" stroke="#000" stroke-width="1" stroke-dasharray="2,2" shape-rendering="crispEdges"/>
<line x1="744.8" y1="177" x2="744.8" y2="255.5" stroke="#000" stroke-width="1" stroke-dasharray="2,2" shape-rendering="crispEdges"/>
<line x1="764.0" y1="177" x2="764.0" y2="255.5" stroke="#000" stroke-width="1" stroke-dasharray="2,2" shape-rendering="crispEdges"/>
<line x1="783.1" y1="177" x2="783.1" y2="255.5" stroke="#000" stroke-width="1" stroke-dasharray="2,2" shape-rendering="crispEdges"/>
<line x1="802.3" y1="177" x2="802.3" y2="255.5" stroke="#000" stroke-width="1" stroke-dasharray="2,2" shape-rendering="crispEdges"/>
<line x1="821.5" y1="177" x2="821.5" y2="255.5" stroke="#000" stroke-width="1" stroke-dasharray="2,2" shape-rendering="crispEdges"/>
<line x1="348.6" y1="191.5" x2="841.0" y2="191.5" stroke="#000" stroke-width="1" stroke-dasharray="2,2" shape-rendering="crispEdges"/>
<line x1="348.6" y1="214.5" x2="841.0" y2="214.5" stroke="#000" stroke-width="1" stroke-dasharray="2,2" shape-rendering="crispEdges"/>
<line x1="348.6" y1="238.2" x2="841.0" y2="238.2" stroke="#000" stroke-width="1" stroke-dasharray="2,2" shape-rendering="crispEdges"/>
</g>
<rect x="348.6" y="177" width="492.4" height="78.5" fill="none" stroke="#222" stroke-width="1.3" shape-rendering="crispEdges"/>
<text x="345" y="195.5" font-size="11" fill="#000" text-anchor="end">-5</text>
<text x="345" y="218.5" font-size="11" fill="#000" text-anchor="end">-10</text>
<text x="345" y="242" font-size="11" fill="#000" text-anchor="end">-15</text>
<text x="848" y="195.5" font-size="11" fill="#000">-5</text>
<text x="845" y="218.5" font-size="11" fill="#000">-10</text>
<text x="845" y="242" font-size="11" fill="#000">-15</text>
<rect x="348.6" y="263.8" width="492.4" height="78.19999999999999" fill="#fff"/>
<rect x="348.6" y="263.8" width="36.9" height="78.19999999999999" fill="#e8e8e8"/>
<rect x="435.0" y="263.8" width="103.9" height="78.19999999999999" fill="#e8e8e8"/>
<rect x="588.3" y="263.8" width="103.9" height="78.19999999999999" fill="#e8e8e8"/>
<rect x="741.6" y="263.8" width="99.4" height="78.19999999999999" fill="#e8e8e8"/>
<path d="M604,342 L604,342.0 L628,342.0 L630,340.5 L643,340.5 L645,342.0 L672,342.0 L673,339.0 L678,336.5 L683,335.0 L689,336.0 L697,338.0 L708,339.0 L718,340.0 L726,341.0 L783,341.0 L786,339.5 L800,339.0 L812,339.5 L815,341.0 L841,341.0 L841,342 Z" fill="#1f3fd0"/>
<rect x="609" y="339.5" width="1" height="2.5" fill="#1f3fd0"/>
<rect x="620" y="337.0" width="1" height="5" fill="#1f3fd0"/>
<rect x="627" y="333.0" width="1" height="9" fill="#1f3fd0"/>
<rect x="634" y="333.5" width="1" height="8.5" fill="#1f3fd0"/>
<rect x="640" y="337.5" width="1" height="4.5" fill="#1f3fd0"/>
<rect x="678" y="332.0" width="1" height="10" fill="#1f3fd0"/>
<rect x="685" y="331.5" width="1" height="10.5" fill="#1f3fd0"/>
<rect x="691" y="332.5" width="1" height="9.5" fill="#1f3fd0"/>
<rect x="698" y="334.0" width="1" height="8" fill="#1f3fd0"/>
<rect x="710" y="336.0" width="1" height="6" fill="#1f3fd0"/>
<rect x="724" y="337.0" width="1" height="5" fill="#1f3fd0"/>
<rect x="730" y="340.0" width="1" height="2" fill="#1f3fd0"/>
<rect x="745" y="340.0" width="1" height="2" fill="#1f3fd0"/>
<rect x="760" y="339.5" width="1" height="2.5" fill="#1f3fd0"/>
<rect x="775" y="340.0" width="1" height="2" fill="#1f3fd0"/>
<rect x="790" y="337.0" width="1" height="5" fill="#1f3fd0"/>
<rect x="800" y="337.0" width="1" height="5" fill="#1f3fd0"/>
<rect x="805" y="337.5" width="1" height="4.5" fill="#1f3fd0"/>
<path d="M349.0,297.9 L357.0,302.0 L363.0,303.0 L387.0,299.3 L394.0,302.0 L401.0,310.7 L409.0,317.3 L414.0,320.7 L418.6,320.7 L425.7,315.0 L433.0,304.0 L440.0,298.4 L451.0,295.0 L463.0,291.6 L470.0,292.7 L475.7,287.9 L483.0,286.4 L488.6,293.6 L497.0,305.9 L503.0,312.0 L511.4,318.4 L517.0,320.0 L527.0,320.7 L537.0,326.4 L545.7,327.0 L552.9,332.7 L560.0,335.6 L568.6,332.0 L574.0,328.7 L580.0,328.7 L588.6,326.4 L595.7,323.6 L604.0,320.0 L610.0,320.0 L618.6,317.3 L624.0,317.9 L631.0,313.6 L635.7,313.0 L641.0,316.4 L648.6,325.0 L655.7,326.4 L661.4,325.3 L668.6,329.9 L675.7,315.0 L681.4,275.6 L688.6,277.3 L694.3,283.6 L701.4,294.4 L707.0,297.3 L715.7,303.0 L727.0,309.3 L738.6,306.4 L745.7,307.0 L755.7,312.0 L762.9,313.0 L772.9,313.6 L781.4,306.4 L792.9,301.3 L802.9,297.3 L810.0,305.9 L818.6,312.0 L828.6,317.3 L835.7,315.0 L841.4,317.3" fill="none" stroke="#e8531e" stroke-width="2.2" stroke-linejoin="round"/>
<line x1="361.4" y1="263.8" x2="361.4" y2="342" stroke="#000" stroke-width="1" stroke-dasharray="2,2" shape-rendering="crispEdges"/>
<line x1="380.6" y1="263.8" x2="380.6" y2="342" stroke="#000" stroke-width="1" stroke-dasharray="2,2" shape-rendering="crispEdges"/>
<line x1="399.7" y1="263.8" x2="399.7" y2="342" stroke="#000" stroke-width="1" stroke-dasharray="2,2" shape-rendering="crispEdges"/>
<line x1="418.9" y1="263.8" x2="418.9" y2="342" stroke="#000" stroke-width="1" stroke-dasharray="2,2" shape-rendering="crispEdges"/>
<line x1="438.1" y1="263.8" x2="438.1" y2="342" stroke="#000" stroke-width="1" stroke-dasharray="2,2" shape-rendering="crispEdges"/>
<line x1="457.2" y1="263.8" x2="457.2" y2="342" stroke="#000" stroke-width="1" stroke-dasharray="2,2" shape-rendering="crispEdges"/>
<line x1="476.4" y1="263.8" x2="476.4" y2="342" stroke="#000" stroke-width="1" stroke-dasharray="2,2" shape-rendering="crispEdges"/>
<line x1="495.6" y1="263.8" x2="495.6" y2="342" stroke="#000" stroke-width="1" stroke-dasharray="2,2" shape-rendering="crispEdges"/>
<line x1="514.8" y1="263.8" x2="514.8" y2="342" stroke="#000" stroke-width="1" stroke-dasharray="2,2" shape-rendering="crispEdges"/>
<line x1="533.9" y1="263.8" x2="533.9" y2="342" stroke="#000" stroke-width="1" stroke-dasharray="2,2" shape-rendering="crispEdges"/>
<line x1="553.1" y1="263.8" x2="553.1" y2="342" stroke="#000" stroke-width="1" stroke-dasharray="2,2" shape-rendering="crispEdges"/>
<line x1="572.3" y1="263.8" x2="572.3" y2="342" stroke="#000" stroke-width="1" stroke-dasharray="2,2" shape-rendering="crispEdges"/>
<line x1="591.4" y1="263.8" x2="591.4" y2="342" stroke="#000" stroke-width="1" stroke-dasharray="2,2" shape-rendering="crispEdges"/>
<line x1="610.6" y1="263.8" x2="610.6" y2="342" stroke="#000" stroke-width="1" stroke-dasharray="2,2" shape-rendering="crispEdges"/>
<line x1="629.8" y1="263.8" x2="629.8" y2="342" stroke="#000" stroke-width="1" stroke-dasharray="2,2" shape-rendering="crispEdges"/>
<line x1="649.0" y1="263.8" x2="649.0" y2="342" stroke="#000" stroke-width="1" stroke-dasharray="2,2" shape-rendering="crispEdges"/>
<line x1="668.1" y1="263.8" x2="668.1" y2="342" stroke="#000" stroke-width="1" stroke-dasharray="2,2" shape-rendering="crispEdges"/>
<line x1="687.3" y1="263.8" x2="687.3" y2="342" stroke="#000" stroke-width="1" stroke-dasharray="2,2" shape-rendering="crispEdges"/>
<line x1="706.5" y1="263.8" x2="706.5" y2="342" stroke="#000" stroke-width="1" stroke-dasharray="2,2" shape-rendering="crispEdges"/>
<line x1="725.6" y1="263.8" x2="725.6" y2="342" stroke="#000" stroke-width="1" stroke-dasharray="2,2" shape-rendering="crispEdges"/>
<line x1="744.8" y1="263.8" x2="744.8" y2="342" stroke="#000" stroke-width="1" stroke-dasharray="2,2" shape-rendering="crispEdges"/>
<line x1="764.0" y1="263.8" x2="764.0" y2="342" stroke="#000" stroke-width="1" stroke-dasharray="2,2" shape-rendering="crispEdges"/>
<line x1="783.1" y1="263.8" x2="783.1" y2="342" stroke="#000" stroke-width="1" stroke-dasharray="2,2" shape-rendering="crispEdges"/>
<line x1="802.3" y1="263.8" x2="802.3" y2="342" stroke="#000" stroke-width="1" stroke-dasharray="2,2" shape-rendering="crispEdges"/>
<line x1="821.5" y1="263.8" x2="821.5" y2="342" stroke="#000" stroke-width="1" stroke-dasharray="2,2" shape-rendering="crispEdges"/>
<line x1="348.6" y1="266.2" x2="841.0" y2="266.2" stroke="#000" stroke-width="1" stroke-dasharray="2,2" shape-rendering="crispEdges"/>
<line x1="348.6" y1="281.4" x2="841.0" y2="281.4" stroke="#000" stroke-width="1" stroke-dasharray="2,2" shape-rendering="crispEdges"/>
<line x1="348.6" y1="296.6" x2="841.0" y2="296.6" stroke="#000" stroke-width="1" stroke-dasharray="2,2" shape-rendering="crispEdges"/>
<line x1="348.6" y1="311.8" x2="841.0" y2="311.8" stroke="#000" stroke-width="1" stroke-dasharray="2,2" shape-rendering="crispEdges"/>
<line x1="348.6" y1="327.0" x2="841.0" y2="327.0" stroke="#000" stroke-width="1" stroke-dasharray="2,2" shape-rendering="crispEdges"/>
<rect x="348.6" y="263.8" width="492.4" height="78.2" fill="none" stroke="#222" stroke-width="1.3" shape-rendering="crispEdges"/>
<line x1="348.6" y1="341.5" x2="841.0" y2="341.5" stroke="#0a5a0a" stroke-width="1"/>
<text x="345" y="270.2" font-size="11.5" fill="#000" text-anchor="end">5</text>
<text x="345" y="285.4" font-size="11.5" fill="#000" text-anchor="end">4</text>
<text x="345" y="300.59999999999997" font-size="11.5" fill="#000" text-anchor="end">3</text>
<text x="345" y="315.79999999999995" font-size="11.5" fill="#000" text-anchor="end">2</text>
<text x="345" y="331.0" font-size="11.5" fill="#000" text-anchor="end">1</text>
<text x="345" y="346.2" font-size="11.5" fill="#000" text-anchor="end">0</text>
<text x="845" y="270.2" font-size="11.5" fill="#e8531e">100</text>
<text x="845" y="285.4" font-size="11.5" fill="#e8531e">95</text>
<text x="845" y="300.59999999999997" font-size="11.5" fill="#e8531e">90</text>
<text x="845" y="315.79999999999995" font-size="11.5" fill="#e8531e">85</text>
<text x="845" y="331.0" font-size="11.5" fill="#e8531e">80</text>
<text x="845" y="346.2" font-size="11.5" fill="#e8531e">75</text>
<rect x="348.6" y="350.6" width="492.4" height="76.39999999999998" fill="#fff"/>
<rect x="348.6" y="350.6" width="36.9" height="76.39999999999998" fill="#e8e8e8"/>
<rect x="435.0" y="350.6" width="103.9" height="76.39999999999998" fill="#e8e8e8"/>
<rect x="588.3" y="350.6" width="103.9" height="76.39999999999998" fill="#e8e8e8"/>
<rect x="741.6" y="350.6" width="99.4" height="76.39999999999998" fill="#e8e8e8"/>
<clipPath id="cp"><path d="M349.0,363.4 L368.6,364.3 L380.0,360.9 L400.0,359.4 L408.6,360.0 L420.0,362.0 L440.0,362.9 L451.4,362.0 L465.7,362.0 L477.0,365.0 L494.3,367.7 L504.3,370.0 L511.4,372.0 L522.9,374.9 L540.0,375.7 L548.6,375.7 L557.0,378.6 L568.6,382.3 L574.3,382.9 L580.0,382.3 L591.4,383.4 L607.0,385.7 L630.0,392.9 L650.0,396.3 L661.4,400.0 L675.7,405.7 L687.0,407.0 L704.3,410.9 L718.6,415.0 L735.7,416.3 L750.0,418.6 L767.0,420.0 L784.3,419.0 L807.0,418.6 L821.4,421.4 L830.0,421.4 L841.4,417.7 L841.4,427 L349,427 Z"/></clipPath>
<g clip-path="url(#cp)">
<rect x="349.0" y="350.6" width="25.7" height="76.39999999999998" fill="#ffff00"/>
<rect x="374.4" y="350.6" width="94.9" height="76.39999999999998" fill="#ffda00"/>
<rect x="469.0" y="350.6" width="31.8" height="76.39999999999998" fill="#ffff00"/>
<rect x="500.5" y="350.6" width="26.8" height="76.39999999999998" fill="#bcf200"/>
<rect x="527.0" y="350.6" width="27.0" height="76.39999999999998" fill="#b0f000"/>
<rect x="553.7" y="350.6" width="44.3" height="76.39999999999998" fill="#a2f000"/>
<rect x="597.7" y="350.6" width="13.4" height="76.39999999999998" fill="#8cee00"/>
<rect x="610.8" y="350.6" width="20.3" height="76.39999999999998" fill="#74ea00"/>
<rect x="630.8" y="350.6" width="24.9" height="76.39999999999998" fill="#50e000"/>
<rect x="655.4" y="350.6" width="19.5" height="76.39999999999998" fill="#30d000"/>
<rect x="674.6" y="350.6" width="13.4" height="76.39999999999998" fill="#18be00"/>
<rect x="687.7" y="350.6" width="24.9" height="76.39999999999998" fill="#0aa810"/>
<rect x="712.3" y="350.6" width="129.0" height="76.39999999999998" fill="#00c844"/>
</g>
<path d="M349.0,363.4 L368.6,364.3 L380.0,360.9 L400.0,359.4 L408.6,360.0 L420.0,362.0 L440.0,362.9 L451.4,362.0 L465.7,362.0 L477.0,365.0 L494.3,367.7 L504.3,370.0 L511.4,372.0 L522.9,374.9 L540.0,375.7 L548.6,375.7 L557.0,378.6 L568.6,382.3 L574.3,382.9 L580.0,382.3 L591.4,383.4 L607.0,385.7 L630.0,392.9 L650.0,396.3 L661.4,400.0 L675.7,405.7 L687.0,407.0 L704.3,410.9 L718.6,415.0 L735.7,416.3 L750.0,418.6 L767.0,420.0 L784.3,419.0 L807.0,418.6 L821.4,421.4 L830.0,421.4 L841.4,417.7" fill="none" stroke="#000" stroke-width="2"/>
<line x1="361.4" y1="350.6" x2="361.4" y2="427" stroke="#000" stroke-width="1" stroke-dasharray="2,2" shape-rendering="crispEdges"/>
<line x1="380.6" y1="350.6" x2="380.6" y2="427" stroke="#000" stroke-width="1" stroke-dasharray="2,2" shape-rendering="crispEdges"/>
<line x1="399.7" y1="350.6" x2="399.7" y2="427" stroke="#000" stroke-width="1" stroke-dasharray="2,2" shape-rendering="crispEdges"/>
<line x1="418.9" y1="350.6" x2="418.9" y2="427" stroke="#000" stroke-width="1" stroke-dasharray="2,2" shape-rendering="crispEdges"/>
<line x1="438.1" y1="350.6" x2="438.1" y2="427" stroke="#000" stroke-width="1" stroke-dasharray="2,2" shape-rendering="crispEdges"/>
<line x1="457.2" y1="350.6" x2="457.2" y2="427" stroke="#000" stroke-width="1" stroke-dasharray="2,2" shape-rendering="crispEdges"/>
<line x1="476.4" y1="350.6" x2="476.4" y2="427" stroke="#000" stroke-width="1" stroke-dasharray="2,2" shape-rendering="crispEdges"/>
<line x1="495.6" y1="350.6" x2="495.6" y2="427" stroke="#000" stroke-width="1" stroke-dasharray="2,2" shape-rendering="crispEdges"/>
<line x1="514.8" y1="350.6" x2="514.8" y2="427" stroke="#000" stroke-width="1" stroke-dasharray="2,2" shape-rendering="crispEdges"/>
<line x1="533.9" y1="350.6" x2="533.9" y2="427" stroke="#000" stroke-width="1" stroke-dasharray="2,2" shape-rendering="crispEdges"/>
<line x1="553.1" y1="350.6" x2="553.1" y2="427" stroke="#000" stroke-width="1" stroke-dasharray="2,2" shape-rendering="crispEdges"/>
<line x1="572.3" y1="350.6" x2="572.3" y2="427" stroke="#000" stroke-width="1" stroke-dasharray="2,2" shape-rendering="crispEdges"/>
<line x1="591.4" y1="350.6" x2="591.4" y2="427" stroke="#000" stroke-width="1" stroke-dasharray="2,2" shape-rendering="crispEdges"/>
<line x1="610.6" y1="350.6" x2="610.6" y2="427" stroke="#000" stroke-width="1" stroke-dasharray="2,2" shape-rendering="crispEdges"/>
<line x1="629.8" y1="350.6" x2="629.8" y2="427" stroke="#000" stroke-width="1" stroke-dasharray="2,2" shape-rendering="crispEdges"/>
<line x1="649.0" y1="350.6" x2="649.0" y2="427" stroke="#000" stroke-width="1" stroke-dasharray="2,2" shape-rendering="crispEdges"/>
<line x1="668.1" y1="350.6" x2="668.1" y2="427" stroke="#000" stroke-width="1" stroke-dasharray="2,2" shape-rendering="crispEdges"/>
<line x1="687.3" y1="350.6" x2="687.3" y2="427" stroke="#000" stroke-width="1" stroke-dasharray="2,2" shape-rendering="crispEdges"/>
<line x1="706.5" y1="350.6" x2="706.5" y2="427" stroke="#000" stroke-width="1" stroke-dasharray="2,2" shape-rendering="crispEdges"/>
<line x1="725.6" y1="350.6" x2="725.6" y2="427" stroke="#000" stroke-width="1" stroke-dasharray="2,2" shape-rendering="crispEdges"/>
<line x1="744.8" y1="350.6" x2="744.8" y2="427" stroke="#000" stroke-width="1" stroke-dasharray="2,2" shape-rendering="crispEdges"/>
<line x1="764.0" y1="350.6" x2="764.0" y2="427" stroke="#000" stroke-width="1" stroke-dasharray="2,2" shape-rendering="crispEdges"/>
<line x1="783.1" y1="350.6" x2="783.1" y2="427" stroke="#000" stroke-width="1" stroke-dasharray="2,2" shape-rendering="crispEdges"/>
<line x1="802.3" y1="350.6" x2="802.3" y2="427" stroke="#000" stroke-width="1" stroke-dasharray="2,2" shape-rendering="crispEdges"/>
<line x1="821.5" y1="350.6" x2="821.5" y2="427" stroke="#000" stroke-width="1" stroke-dasharray="2,2" shape-rendering="crispEdges"/>
<line x1="348.6" y1="369.4" x2="841.0" y2="369.4" stroke="#000" stroke-width="1" stroke-dasharray="2,2" shape-rendering="crispEdges"/>
<line x1="348.6" y1="388.2" x2="841.0" y2="388.2" stroke="#000" stroke-width="1" stroke-dasharray="2,2" shape-rendering="crispEdges"/>
<line x1="348.6" y1="406.9" x2="841.0" y2="406.9" stroke="#000" stroke-width="1" stroke-dasharray="2,2" shape-rendering="crispEdges"/>
<line x1="348.6" y1="425.5" x2="841.0" y2="425.5" stroke="#000" stroke-width="1" stroke-dasharray="2,2" shape-rendering="crispEdges"/>
<rect x="348.6" y="350.6" width="492.4" height="76.4" fill="none" stroke="#222" stroke-width="1.3" shape-rendering="crispEdges"/>
<text x="345" y="355.0" font-size="11.5" fill="#000" text-anchor="end">1020</text>
<text x="345" y="373.7" font-size="11.5" fill="#000" text-anchor="end">1015</text>
<text x="345" y="392.4" font-size="11.5" fill="#000" text-anchor="end">1010</text>
<text x="345" y="411.1" font-size="11.5" fill="#000" text-anchor="end">1005</text>
<text x="345" y="429.8" font-size="11.5" fill="#000" text-anchor="end">1000</text>
<text x="845" y="355.0" font-size="11.5" fill="#000">765</text>
<text x="845" y="373.7" font-size="11.5" fill="#000">761</text>
<text x="845" y="392.4" font-size="11.5" fill="#000">758</text>
<text x="845" y="411.1" font-size="11.5" fill="#000">754</text>
<text x="845" y="429.8" font-size="11.5" fill="#000">750</text>
<rect x="348.6" y="438" width="492.4" height="77" fill="#fff"/>
<rect x="348.6" y="438" width="36.9" height="77" fill="#e8e8e8"/>
<rect x="435.0" y="438" width="103.9" height="77" fill="#e8e8e8"/>
<rect x="588.3" y="438" width="103.9" height="77" fill="#e8e8e8"/>
<rect x="741.6" y="438" width="99.4" height="77" fill="#e8e8e8"/>
<clipPath id="cw"><path d="M349.0,504.4 L357.0,505.6 L368.6,506.4 L378.6,507.9 L392.9,507.9 L400.0,510.0 L408.6,508.4 L425.7,510.0 L431.4,509.3 L438.6,507.3 L451.4,508.4 L457.0,509.3 L464.3,505.6 L477.0,503.6 L488.6,502.7 L502.9,501.6 L514.3,497.9 L520.0,500.7 L528.6,497.9 L542.9,496.4 L554.3,498.7 L568.6,496.4 L580.0,495.0 L590.0,495.9 L604.0,494.0 L622.9,491.6 L630.0,493.0 L655.7,490.7 L667.0,487.9 L687.0,485.9 L707.0,488.4 L727.0,491.3 L755.7,492.0 L777.0,493.6 L784.3,495.9 L807.0,494.4 L841.0,495.0 L841,515 L349,515 Z"/></clipPath>
<g clip-path="url(#cw)">
<rect x="349.0" y="438" width="121.8" height="77" fill="#00f0ff"/>
<rect x="470.5" y="438" width="36.8" height="77" fill="#00c4f4"/>
<rect x="507.0" y="438" width="13.3" height="77" fill="#0a70e0"/>
<rect x="520.0" y="438" width="7.3" height="77" fill="#00aef0"/>
<rect x="527.0" y="438" width="83.3" height="77" fill="#0a72e0"/>
<rect x="610.0" y="438" width="51.3" height="77" fill="#064c99"/>
<rect x="661.0" y="438" width="46.3" height="77" fill="#008000"/>
<rect x="707.0" y="438" width="70.3" height="77" fill="#064c99"/>
<rect x="777.0" y="438" width="64.3" height="77" fill="#0a80f0"/>
</g>
<path d="M349.0,504.4 L357.0,505.6 L368.6,506.4 L378.6,507.9 L392.9,507.9 L400.0,510.0 L408.6,508.4 L425.7,510.0 L431.4,509.3 L438.6,507.3 L451.4,508.4 L457.0,509.3 L464.3,505.6 L477.0,503.6 L488.6,502.7 L502.9,501.6 L514.3,497.9 L520.0,500.7 L528.6,497.9 L542.9,496.4 L554.3,498.7 L568.6,496.4 L580.0,495.0 L590.0,495.9 L604.0,494.0 L622.9,491.6 L630.0,493.0 L655.7,490.7 L667.0,487.9 L687.0,485.9 L707.0,488.4 L727.0,491.3 L755.7,492.0 L777.0,493.6 L784.3,495.9 L807.0,494.4 L841.0,495.0" fill="none" stroke="#0a1f9a" stroke-width="2.2"/>
<line x1="349.0" y1="486.4" x2="361.0" y2="486.4" stroke="#e01010" stroke-width="1.3"/>
<line x1="361.0" y1="489.3" x2="368.0" y2="489.3" stroke="#e01010" stroke-width="1.3"/>
<line x1="368.0" y1="492.0" x2="380.0" y2="492.0" stroke="#e01010" stroke-width="1.3"/>
<line x1="380.0" y1="495.9" x2="400.0" y2="495.9" stroke="#e01010" stroke-width="1.3"/>
<line x1="400.0" y1="495.0" x2="410.0" y2="495.0" stroke="#e01010" stroke-width="1.3"/>
<line x1="411.0" y1="496.4" x2="420.0" y2="496.4" stroke="#e01010" stroke-width="1.3"/>
<line x1="420.0" y1="498.7" x2="426.0" y2="498.7" stroke="#e01010" stroke-width="1.3"/>
<line x1="426.0" y1="500.7" x2="433.0" y2="500.7" stroke="#e01010" stroke-width="1.3"/>
<line x1="431.0" y1="502.7" x2="438.6" y2="502.7" stroke="#e01010" stroke-width="1.3"/>
<line x1="438.6" y1="501.3" x2="451.4" y2="501.3" stroke="#e01010" stroke-width="1.3"/>
<line x1="451.4" y1="496.4" x2="463.0" y2="496.4" stroke="#e01010" stroke-width="1.3"/>
<line x1="463.0" y1="489.3" x2="470.0" y2="489.3" stroke="#e01010" stroke-width="1.3"/>
<line x1="470.0" y1="483.6" x2="477.0" y2="483.6" stroke="#e01010" stroke-width="1.3"/>
<line x1="477.0" y1="481.6" x2="485.7" y2="481.6" stroke="#e01010" stroke-width="1.3"/>
<line x1="485.7" y1="480.0" x2="495.7" y2="480.0" stroke="#e01010" stroke-width="1.3"/>
<line x1="495.7" y1="477.0" x2="503.0" y2="477.0" stroke="#e01010" stroke-width="1.3"/>
<line x1="503.0" y1="471.6" x2="508.6" y2="471.6" stroke="#e01010" stroke-width="1.3"/>
<line x1="508.6" y1="467.0" x2="520.0" y2="467.0" stroke="#e01010" stroke-width="1.3"/>
<line x1="521.4" y1="473.0" x2="528.6" y2="473.0" stroke="#e01010" stroke-width="1.3"/>
<line x1="527.0" y1="470.0" x2="534.0" y2="470.0" stroke="#e01010" stroke-width="1.3"/>
<line x1="534.0" y1="467.3" x2="545.7" y2="467.3" stroke="#e01010" stroke-width="1.3"/>
<line x1="547.0" y1="469.3" x2="560.0" y2="469.3" stroke="#e01010" stroke-width="1.3"/>
<line x1="560.0" y1="466.4" x2="571.4" y2="466.4" stroke="#e01010" stroke-width="1.3"/>
<line x1="571.4" y1="465.0" x2="581.4" y2="465.0" stroke="#e01010" stroke-width="1.3"/>
<line x1="581.4" y1="464.4" x2="591.4" y2="464.4" stroke="#e01010" stroke-width="1.3"/>
<line x1="591.4" y1="466.4" x2="600.0" y2="466.4" stroke="#e01010" stroke-width="1.3"/>
<line x1="590.0" y1="465.9" x2="604.0" y2="465.9" stroke="#e01010" stroke-width="1.3"/>
<line x1="604.0" y1="463.0" x2="611.4" y2="463.0" stroke="#e01010" stroke-width="1.3"/>
<line x1="611.4" y1="461.3" x2="618.6" y2="461.3" stroke="#e01010" stroke-width="1.3"/>
<line x1="617.0" y1="455.9" x2="624.0" y2="455.9" stroke="#e01010" stroke-width="1.3"/>
<line x1="623.0" y1="450.0" x2="630.0" y2="450.0" stroke="#e01010" stroke-width="1.3"/>
<line x1="630.0" y1="452.0" x2="643.0" y2="452.0" stroke="#e01010" stroke-width="1.3"/>
<line x1="643.0" y1="457.9" x2="655.7" y2="457.9" stroke="#e01010" stroke-width="1.3"/>
<line x1="655.7" y1="451.3" x2="668.6" y2="451.3" stroke="#e01010" stroke-width="1.3"/>
<line x1="668.6" y1="445.6" x2="675.7" y2="445.6" stroke="#e01010" stroke-width="1.3"/>
<line x1="675.7" y1="442.0" x2="687.0" y2="442.0" stroke="#e01010" stroke-width="1.3"/>
<line x1="687.0" y1="443.6" x2="694.3" y2="443.6" stroke="#e01010" stroke-width="1.3"/>
<line x1="694.3" y1="446.4" x2="700.0" y2="446.4" stroke="#e01010" stroke-width="1.3"/>
<line x1="700.0" y1="449.3" x2="712.9" y2="449.3" stroke="#e01010" stroke-width="1.3"/>
<line x1="712.9" y1="451.3" x2="720.0" y2="451.3" stroke="#e01010" stroke-width="1.3"/>
<line x1="720.0" y1="454.0" x2="727.0" y2="454.0" stroke="#e01010" stroke-width="1.3"/>
<line x1="727.0" y1="455.6" x2="738.6" y2="455.6" stroke="#e01010" stroke-width="1.3"/>
<line x1="738.6" y1="458.4" x2="751.4" y2="458.4" stroke="#e01010" stroke-width="1.3"/>
<line x1="751.4" y1="457.9" x2="777.0" y2="457.9" stroke="#e01010" stroke-width="1.3"/>
<line x1="777.0" y1="462.0" x2="784.3" y2="462.0" stroke="#e01010" stroke-width="1.3"/>
<line x1="784.3" y1="463.6" x2="828.6" y2="463.6" stroke="#e01010" stroke-width="1.3"/>
<line x1="828.6" y1="461.3" x2="834.3" y2="461.3" stroke="#e01010" stroke-width="1.3"/>
<line x1="834.3" y1="462.0" x2="841.0" y2="462.0" stroke="#e01010" stroke-width="1.3"/>
<line x1="361.4" y1="438" x2="361.4" y2="515" stroke="#000" stroke-width="1" stroke-dasharray="2,2" shape-rendering="crispEdges"/>
<line x1="380.6" y1="438" x2="380.6" y2="515" stroke="#000" stroke-width="1" stroke-dasharray="2,2" shape-rendering="crispEdges"/>
<line x1="399.7" y1="438" x2="399.7" y2="515" stroke="#000" stroke-width="1" stroke-dasharray="2,2" shape-rendering="crispEdges"/>
<line x1="418.9" y1="438" x2="418.9" y2="515" stroke="#000" stroke-width="1" stroke-dasharray="2,2" shape-rendering="crispEdges"/>
<line x1="438.1" y1="438" x2="438.1" y2="515" stroke="#000" stroke-width="1" stroke-dasharray="2,2" shape-rendering="crispEdges"/>
<line x1="457.2" y1="438" x2="457.2" y2="515" stroke="#000" stroke-width="1" stroke-dasharray="2,2" shape-rendering="crispEdges"/>
<line x1="476.4" y1="438" x2="476.4" y2="515" stroke="#000" stroke-width="1" stroke-dasharray="2,2" shape-rendering="crispEdges"/>
<line x1="495.6" y1="438" x2="495.6" y2="515" stroke="#000" stroke-width="1" stroke-dasharray="2,2" shape-rendering="crispEdges"/>
<line x1="514.8" y1="438" x2="514.8" y2="515" stroke="#000" stroke-width="1" stroke-dasharray="2,2" shape-rendering="crispEdges"/>
<line x1="533.9" y1="438" x2="533.9" y2="515" stroke="#000" stroke-width="1" stroke-dasharray="2,2" shape-rendering="crispEdges"/>
<line x1="553.1" y1="438" x2="553.1" y2="515" stroke="#000" stroke-width="1" stroke-dasharray="2,2" shape-rendering="crispEdges"/>
<line x1="572.3" y1="438" x2="572.3" y2="515" stroke="#000" stroke-width="1" stroke-dasharray="2,2" shape-rendering="crispEdges"/>
<line x1="591.4" y1="438" x2="591.4" y2="515" stroke="#000" stroke-width="1" stroke-dasharray="2,2" shape-rendering="crispEdges"/>
<line x1="610.6" y1="438" x2="610.6" y2="515" stroke="#000" stroke-width="1" stroke-dasharray="2,2" shape-rendering="crispEdges"/>
<line x1="629.8" y1="438" x2="629.8" y2="515" stroke="#000" stroke-width="1" stroke-dasharray="2,2" shape-rendering="crispEdges"/>
<line x1="649.0" y1="438" x2="649.0" y2="515" stroke="#000" stroke-width="1" stroke-dasharray="2,2" shape-rendering="crispEdges"/>
<line x1="668.1" y1="438" x2="668.1" y2="515" stroke="#000" stroke-width="1" stroke-dasharray="2,2" shape-rendering="crispEdges"/>
<line x1="687.3" y1="438" x2="687.3" y2="515" stroke="#000" stroke-width="1" stroke-dasharray="2,2" shape-rendering="crispEdges"/>
<line x1="706.5" y1="438" x2="706.5" y2="515" stroke="#000" stroke-width="1" stroke-dasharray="2,2" shape-rendering="crispEdges"/>
<line x1="725.6" y1="438" x2="725.6" y2="515" stroke="#000" stroke-width="1" stroke-dasharray="2,2" shape-rendering="crispEdges"/>
<line x1="744.8" y1="438" x2="744.8" y2="515" stroke="#000" stroke-width="1" stroke-dasharray="2,2" shape-rendering="crispEdges"/>
<line x1="764.0" y1="438" x2="764.0" y2="515" stroke="#000" stroke-width="1" stroke-dasharray="2,2" shape-rendering="crispEdges"/>
<line x1="783.1" y1="438" x2="783.1" y2="515" stroke="#000" stroke-width="1" stroke-dasharray="2,2" shape-rendering="crispEdges"/>
<line x1="802.3" y1="438" x2="802.3" y2="515" stroke="#000" stroke-width="1" stroke-dasharray="2,2" shape-rendering="crispEdges"/>
<line x1="821.5" y1="438" x2="821.5" y2="515" stroke="#000" stroke-width="1" stroke-dasharray="2,2" shape-rendering="crispEdges"/>
<line x1="348.6" y1="464.0" x2="841.0" y2="464.0" stroke="#000" stroke-width="1" stroke-dasharray="2,2" shape-rendering="crispEdges"/>
<line x1="348.6" y1="489.5" x2="841.0" y2="489.5" stroke="#000" stroke-width="1" stroke-dasharray="2,2" shape-rendering="crispEdges"/>
<rect x="348.6" y="438" width="492.4" height="77.0" fill="none" stroke="#222" stroke-width="1.3" shape-rendering="crispEdges"/>
<text x="345" y="442.2" font-size="11.5" fill="#000" text-anchor="end">15</text>
<text x="345" y="468.2" font-size="11.5" fill="#000" text-anchor="end">10</text>
<text x="345" y="493.7" font-size="11.5" fill="#000" text-anchor="end">5</text>
<text x="345" y="519.2" font-size="11.5" fill="#000" text-anchor="end">0</text>
<text x="845" y="442.2" font-size="11.5" fill="#000">54</text>
<text x="845" y="468.2" font-size="11.5" fill="#000">36</text>
<text x="845" y="493.7" font-size="11.5" fill="#000">18</text>
<text x="850" y="519.2" font-size="11.5" fill="#000">0</text>
<rect x="348.6" y="521.5" width="492.4" height="30.5" fill="#fff"/>
<rect x="348.6" y="521.5" width="36.9" height="30.5" fill="#e8e8e8"/>
<rect x="435.0" y="521.5" width="103.9" height="30.5" fill="#e8e8e8"/>
<rect x="588.3" y="521.5" width="103.9" height="30.5" fill="#e8e8e8"/>
<rect x="741.6" y="521.5" width="99.4" height="30.5" fill="#e8e8e8"/>
<line x1="361.4" y1="521.5" x2="361.4" y2="552" stroke="#000" stroke-width="1" stroke-dasharray="2,2" shape-rendering="crispEdges"/>
<line x1="380.6" y1="521.5" x2="380.6" y2="552" stroke="#000" stroke-width="1" stroke-dasharray="2,2" shape-rendering="crispEdges"/>
<line x1="399.7" y1="521.5" x2="399.7" y2="552" stroke="#000" stroke-width="1" stroke-dasharray="2,2" shape-rendering="crispEdges"/>
<line x1="418.9" y1="521.5" x2="418.9" y2="552" stroke="#000" stroke-width="1" stroke-dasharray="2,2" shape-rendering="crispEdges"/>
<line x1="438.1" y1="521.5" x2="438.1" y2="552" stroke="#000" stroke-width="1" stroke-dasharray="2,2" shape-rendering="crispEdges"/>
<line x1="457.2" y1="521.5" x2="457.2" y2="552" stroke="#000" stroke-width="1" stroke-dasharray="2,2" shape-rendering="crispEdges"/>
<line x1="476.4" y1="521.5" x2="476.4" y2="552" stroke="#000" stroke-width="1" stroke-dasharray="2,2" shape-rendering="crispEdges"/>
<line x1="495.6" y1="521.5" x2="495.6" y2="552" stroke="#000" stroke-width="1" stroke-dasharray="2,2" shape-rendering="crispEdges"/>
<line x1="514.8" y1="521.5" x2="514.8" y2="552" stroke="#000" stroke-width="1" stroke-dasharray="2,2" shape-rendering="crispEdges"/>
<line x1="533.9" y1="521.5" x2="533.9" y2="552" stroke="#000" stroke-width="1" stroke-dasharray="2,2" shape-rendering="crispEdges"/>
<line x1="553.1" y1="521.5" x2="553.1" y2="552" stroke="#000" stroke-width="1" stroke-dasharray="2,2" shape-rendering="crispEdges"/>
<line x1="572.3" y1="521.5" x2="572.3" y2="552" stroke="#000" stroke-width="1" stroke-dasharray="2,2" shape-rendering="crispEdges"/>
<line x1="591.4" y1="521.5" x2="591.4" y2="552" stroke="#000" stroke-width="1" stroke-dasharray="2,2" shape-rendering="crispEdges"/>
<line x1="610.6" y1="521.5" x2="610.6" y2="552" stroke="#000" stroke-width="1" stroke-dasharray="2,2" shape-rendering="crispEdges"/>
<line x1="629.8" y1="521.5" x2="629.8" y2="552" stroke="#000" stroke-width="1" stroke-dasharray="2,2" shape-rendering="crispEdges"/>
<line x1="649.0" y1="521.5" x2="649.0" y2="552" stroke="#000" stroke-width="1" stroke-dasharray="2,2" shape-rendering="crispEdges"/>
<line x1="668.1" y1="521.5" x2="668.1" y2="552" stroke="#000" stroke-width="1" stroke-dasharray="2,2" shape-rendering="crispEdges"/>
<line x1="687.3" y1="521.5" x2="687.3" y2="552" stroke="#000" stroke-width="1" stroke-dasharray="2,2" shape-rendering="crispEdges"/>
<line x1="706.5" y1="521.5" x2="706.5" y2="552" stroke="#000" stroke-width="1" stroke-dasharray="2,2" shape-rendering="crispEdges"/>
<line x1="725.6" y1="521.5" x2="725.6" y2="552" stroke="#000" stroke-width="1" stroke-dasharray="2,2" shape-rendering="crispEdges"/>
<line x1="744.8" y1="521.5" x2="744.8" y2="552" stroke="#000" stroke-width="1" stroke-dasharray="2,2" shape-rendering="crispEdges"/>
<line x1="764.0" y1="521.5" x2="764.0" y2="552" stroke="#000" stroke-width="1" stroke-dasharray="2,2" shape-rendering="crispEdges"/>
<line x1="783.1" y1="521.5" x2="783.1" y2="552" stroke="#000" stroke-width="1" stroke-dasharray="2,2" shape-rendering="crispEdges"/>
<line x1="802.3" y1="521.5" x2="802.3" y2="552" stroke="#000" stroke-width="1" stroke-dasharray="2,2" shape-rendering="crispEdges"/>
<line x1="821.5" y1="521.5" x2="821.5" y2="552" stroke="#000" stroke-width="1" stroke-dasharray="2,2" shape-rendering="crispEdges"/>
<rect x="348.6" y="521.5" width="492.4" height="30.5" fill="none" stroke="#333" stroke-width="1.3" shape-rendering="crispEdges"/>
<line x1="348.6" y1="552.8" x2="841.0" y2="552.8" stroke="#999" stroke-width="1"/>
<line x1="345.6" y1="539.1" x2="353.0" y2="535.9" stroke="#0a1a9a" stroke-width="1.3"/>
<path d="M357.6,533.9 L354.2,538.7 L351.8,533.2 Z" fill="#0a1a9a"/>
<line x1="351.8" y1="538.6" x2="359.4" y2="536.0" stroke="#0a1a9a" stroke-width="1.3"/>
<path d="M364.2,534.4 L360.4,538.9 L358.5,533.2 Z" fill="#0a1a9a"/>
<line x1="358.1" y1="538.1" x2="365.8" y2="536.1" stroke="#0a1a9a" stroke-width="1.3"/>
<path d="M370.7,534.9 L366.6,539.0 L365.1,533.2 Z" fill="#0a1a9a"/>
<line x1="364.4" y1="537.6" x2="372.2" y2="536.2" stroke="#0a1a9a" stroke-width="1.3"/>
<path d="M377.2,535.4 L372.8,539.2 L371.7,533.3 Z" fill="#0a1a9a"/>
<line x1="370.7" y1="537.5" x2="378.6" y2="536.3" stroke="#0a1a9a" stroke-width="1.3"/>
<path d="M383.6,535.5 L379.1,539.2 L378.2,533.3 Z" fill="#0a1a9a"/>
<line x1="377.1" y1="537.4" x2="385.0" y2="536.3" stroke="#0a1a9a" stroke-width="1.3"/>
<path d="M390.0,535.6 L385.4,539.3 L384.6,533.3 Z" fill="#0a1a9a"/>
<line x1="383.5" y1="537.3" x2="391.4" y2="536.3" stroke="#0a1a9a" stroke-width="1.3"/>
<path d="M396.4,535.7 L391.8,539.3 L391.1,533.3 Z" fill="#0a1a9a"/>
<line x1="389.9" y1="537.1" x2="397.8" y2="536.4" stroke="#0a1a9a" stroke-width="1.3"/>
<path d="M402.8,535.9 L398.1,539.3 L397.5,533.4 Z" fill="#0a1a9a"/>
<line x1="396.2" y1="536.9" x2="404.2" y2="536.4" stroke="#0a1a9a" stroke-width="1.3"/>
<path d="M409.2,536.1 L404.4,539.4 L404.0,533.4 Z" fill="#0a1a9a"/>
<line x1="402.6" y1="536.5" x2="410.6" y2="536.5" stroke="#0a1a9a" stroke-width="1.3"/>
<path d="M415.6,536.5 L410.6,539.5 L410.6,533.5 Z" fill="#0a1a9a"/>
<line x1="409.0" y1="536.1" x2="417.0" y2="536.6" stroke="#0a1a9a" stroke-width="1.3"/>
<path d="M422.0,536.9 L416.8,539.6 L417.2,533.6 Z" fill="#0a1a9a"/>
<line x1="415.4" y1="535.8" x2="423.4" y2="536.7" stroke="#0a1a9a" stroke-width="1.3"/>
<path d="M428.4,537.2 L423.1,539.6 L423.7,533.7 Z" fill="#0a1a9a"/>
<line x1="421.8" y1="535.7" x2="429.8" y2="536.7" stroke="#0a1a9a" stroke-width="1.3"/>
<path d="M434.7,537.3 L429.4,539.7 L430.1,533.7 Z" fill="#0a1a9a"/>
<line x1="428.2" y1="535.5" x2="436.1" y2="536.7" stroke="#0a1a9a" stroke-width="1.3"/>
<path d="M441.1,537.5 L435.7,539.7 L436.6,533.8 Z" fill="#0a1a9a"/>
<line x1="434.7" y1="535.4" x2="442.5" y2="536.8" stroke="#0a1a9a" stroke-width="1.3"/>
<path d="M447.5,537.6 L442.0,539.7 L443.1,533.8 Z" fill="#0a1a9a"/>
<line x1="441.1" y1="535.2" x2="448.9" y2="536.8" stroke="#0a1a9a" stroke-width="1.3"/>
<path d="M453.8,537.8 L448.3,539.7 L449.5,533.9 Z" fill="#0a1a9a"/>
<line x1="449.6" y1="531.6" x2="454.8" y2="537.6" stroke="#0a1a9a" stroke-width="1.3"/>
<path d="M458.1,541.4 L452.6,539.6 L457.1,535.7 Z" fill="#0a1a9a"/>
<line x1="460.5" y1="530.0" x2="460.2" y2="538.0" stroke="#0a1a9a" stroke-width="1.3"/>
<path d="M459.9,543.0 L457.2,537.9 L463.2,538.1 Z" fill="#0a1a9a"/>
<line x1="472.7" y1="534.3" x2="465.2" y2="537.0" stroke="#0a1a9a" stroke-width="1.3"/>
<path d="M460.5,538.7 L464.2,534.2 L466.2,539.8 Z" fill="#0a1a9a"/>
<line x1="479.1" y1="534.2" x2="471.6" y2="537.0" stroke="#0a1a9a" stroke-width="1.3"/>
<path d="M466.9,538.8 L470.5,534.2 L472.7,539.8 Z" fill="#0a1a9a"/>
<line x1="485.4" y1="534.1" x2="478.0" y2="537.1" stroke="#0a1a9a" stroke-width="1.3"/>
<path d="M473.3,538.9 L476.9,534.3 L479.1,539.8 Z" fill="#0a1a9a"/>
<line x1="491.8" y1="534.0" x2="484.4" y2="537.1" stroke="#0a1a9a" stroke-width="1.3"/>
<path d="M479.8,539.0 L483.3,534.3 L485.5,539.8 Z" fill="#0a1a9a"/>
<line x1="498.2" y1="534.0" x2="490.8" y2="537.1" stroke="#0a1a9a" stroke-width="1.3"/>
<path d="M486.2,539.0 L489.6,534.3 L492.0,539.8 Z" fill="#0a1a9a"/>
<line x1="504.5" y1="533.9" x2="497.2" y2="537.1" stroke="#0a1a9a" stroke-width="1.3"/>
<path d="M492.6,539.1 L496.0,534.4 L498.4,539.8 Z" fill="#0a1a9a"/>
<line x1="510.9" y1="533.8" x2="503.6" y2="537.1" stroke="#0a1a9a" stroke-width="1.3"/>
<path d="M499.0,539.2 L502.3,534.4 L504.8,539.9 Z" fill="#0a1a9a"/>
<line x1="517.2" y1="533.7" x2="510.0" y2="537.1" stroke="#0a1a9a" stroke-width="1.3"/>
<path d="M505.5,539.3 L508.7,534.4 L511.3,539.9 Z" fill="#0a1a9a"/>
<line x1="523.5" y1="533.5" x2="516.4" y2="537.2" stroke="#0a1a9a" stroke-width="1.3"/>
<path d="M512.0,539.5 L515.0,534.5 L517.8,539.9 Z" fill="#0a1a9a"/>
<line x1="529.8" y1="533.3" x2="522.8" y2="537.2" stroke="#0a1a9a" stroke-width="1.3"/>
<path d="M518.5,539.7 L521.3,534.6 L524.3,539.8 Z" fill="#0a1a9a"/>
<line x1="536.0" y1="533.1" x2="529.2" y2="537.3" stroke="#0a1a9a" stroke-width="1.3"/>
<path d="M525.0,539.9 L527.7,534.7 L530.8,539.8 Z" fill="#0a1a9a"/>
<line x1="542.3" y1="532.9" x2="535.7" y2="537.3" stroke="#0a1a9a" stroke-width="1.3"/>
<path d="M531.5,540.1 L534.0,534.8 L537.3,539.8 Z" fill="#0a1a9a"/>
<line x1="548.4" y1="532.5" x2="542.1" y2="537.4" stroke="#0a1a9a" stroke-width="1.3"/>
<path d="M538.2,540.5 L540.3,535.1 L544.0,539.8 Z" fill="#0a1a9a"/>
<line x1="554.3" y1="531.9" x2="548.6" y2="537.6" stroke="#0a1a9a" stroke-width="1.3"/>
<path d="M545.1,541.1 L546.5,535.4 L550.7,539.7 Z" fill="#0a1a9a"/>
<line x1="560.2" y1="531.5" x2="555.1" y2="537.7" stroke="#0a1a9a" stroke-width="1.3"/>
<path d="M551.9,541.5 L552.8,535.7 L557.4,539.6 Z" fill="#0a1a9a"/>
<line x1="566.6" y1="531.5" x2="561.5" y2="537.7" stroke="#0a1a9a" stroke-width="1.3"/>
<path d="M558.4,541.5 L559.2,535.8 L563.8,539.6 Z" fill="#0a1a9a"/>
<line x1="572.9" y1="531.4" x2="567.9" y2="537.7" stroke="#0a1a9a" stroke-width="1.3"/>
<path d="M564.8,541.6 L565.6,535.8 L570.3,539.5 Z" fill="#0a1a9a"/>
<line x1="579.2" y1="531.4" x2="574.3" y2="537.7" stroke="#0a1a9a" stroke-width="1.3"/>
<path d="M571.3,541.6 L571.9,535.8 L576.7,539.5 Z" fill="#0a1a9a"/>
<line x1="585.5" y1="531.3" x2="580.7" y2="537.7" stroke="#0a1a9a" stroke-width="1.3"/>
<path d="M577.7,541.7 L578.3,535.9 L583.1,539.5 Z" fill="#0a1a9a"/>
<line x1="591.9" y1="531.3" x2="587.1" y2="537.7" stroke="#0a1a9a" stroke-width="1.3"/>
<path d="M584.2,541.7 L584.7,535.9 L589.5,539.5 Z" fill="#0a1a9a"/>
<line x1="598.2" y1="531.2" x2="593.5" y2="537.7" stroke="#0a1a9a" stroke-width="1.3"/>
<path d="M590.6,541.8 L591.1,536.0 L596.0,539.5 Z" fill="#0a1a9a"/>
<line x1="604.4" y1="531.1" x2="600.0" y2="537.7" stroke="#0a1a9a" stroke-width="1.3"/>
<path d="M597.2,541.9 L597.5,536.1 L602.4,539.4 Z" fill="#0a1a9a"/>
<line x1="610.0" y1="530.7" x2="606.5" y2="537.8" stroke="#0a1a9a" stroke-width="1.3"/>
<path d="M604.3,542.3 L603.8,536.5 L609.2,539.2 Z" fill="#0a1a9a"/>
<line x1="615.6" y1="530.3" x2="613.1" y2="537.9" stroke="#0a1a9a" stroke-width="1.3"/>
<path d="M611.6,542.7 L610.3,537.0 L616.0,538.9 Z" fill="#0a1a9a"/>
<line x1="621.1" y1="530.1" x2="619.7" y2="538.0" stroke="#0a1a9a" stroke-width="1.3"/>
<path d="M618.8,542.9 L616.7,537.5 L622.7,538.5 Z" fill="#0a1a9a"/>
<line x1="627.4" y1="530.1" x2="626.1" y2="538.0" stroke="#0a1a9a" stroke-width="1.3"/>
<path d="M625.3,542.9 L623.1,537.5 L629.1,538.5 Z" fill="#0a1a9a"/>
<line x1="633.8" y1="530.1" x2="632.5" y2="538.0" stroke="#0a1a9a" stroke-width="1.3"/>
<path d="M631.7,542.9 L629.5,537.5 L635.5,538.5 Z" fill="#0a1a9a"/>
<line x1="640.1" y1="530.1" x2="638.9" y2="538.0" stroke="#0a1a9a" stroke-width="1.3"/>
<path d="M638.2,542.9 L635.9,537.5 L641.9,538.4 Z" fill="#0a1a9a"/>
<line x1="646.4" y1="530.1" x2="645.3" y2="538.0" stroke="#0a1a9a" stroke-width="1.3"/>
<path d="M644.6,542.9 L642.3,537.6 L648.3,538.4 Z" fill="#0a1a9a"/>
<line x1="652.8" y1="530.1" x2="651.7" y2="538.0" stroke="#0a1a9a" stroke-width="1.3"/>
<path d="M651.0,542.9 L648.7,537.6 L654.7,538.4 Z" fill="#0a1a9a"/>
<line x1="659.1" y1="530.1" x2="658.1" y2="538.0" stroke="#0a1a9a" stroke-width="1.3"/>
<path d="M657.5,542.9 L655.1,537.6 L661.1,538.4 Z" fill="#0a1a9a"/>
<line x1="665.5" y1="530.0" x2="664.5" y2="538.0" stroke="#0a1a9a" stroke-width="1.3"/>
<path d="M663.9,543.0 L661.5,537.6 L667.5,538.3 Z" fill="#0a1a9a"/>
<line x1="671.8" y1="530.0" x2="670.9" y2="538.0" stroke="#0a1a9a" stroke-width="1.3"/>
<path d="M670.4,543.0 L667.9,537.7 L673.9,538.3 Z" fill="#0a1a9a"/>
<line x1="678.1" y1="530.0" x2="677.3" y2="538.0" stroke="#0a1a9a" stroke-width="1.3"/>
<path d="M676.8,543.0 L674.3,537.7 L680.3,538.3 Z" fill="#0a1a9a"/>
<line x1="684.5" y1="530.0" x2="683.7" y2="538.0" stroke="#0a1a9a" stroke-width="1.3"/>
<path d="M683.2,543.0 L680.7,537.7 L686.7,538.3 Z" fill="#0a1a9a"/>
<line x1="690.9" y1="530.0" x2="690.1" y2="538.0" stroke="#0a1a9a" stroke-width="1.3"/>
<path d="M689.6,543.0 L687.1,537.7 L693.1,538.3 Z" fill="#0a1a9a"/>
<line x1="698.2" y1="530.2" x2="696.3" y2="538.0" stroke="#0a1a9a" stroke-width="1.3"/>
<path d="M695.1,542.8 L693.4,537.2 L699.2,538.7 Z" fill="#0a1a9a"/>
<line x1="705.5" y1="530.5" x2="702.5" y2="537.9" stroke="#0a1a9a" stroke-width="1.3"/>
<path d="M700.6,542.5 L699.7,536.7 L705.2,539.0 Z" fill="#0a1a9a"/>
<line x1="712.5" y1="530.8" x2="708.7" y2="537.8" stroke="#0a1a9a" stroke-width="1.3"/>
<path d="M706.4,542.2 L706.1,536.4 L711.4,539.2 Z" fill="#0a1a9a"/>
<line x1="719.3" y1="531.0" x2="715.0" y2="537.8" stroke="#0a1a9a" stroke-width="1.3"/>
<path d="M712.3,542.0 L712.5,536.2 L717.5,539.4 Z" fill="#0a1a9a"/>
<line x1="725.9" y1="531.2" x2="721.3" y2="537.7" stroke="#0a1a9a" stroke-width="1.3"/>
<path d="M718.5,541.8 L718.9,536.0 L723.8,539.4 Z" fill="#0a1a9a"/>
<line x1="732.3" y1="531.2" x2="727.7" y2="537.7" stroke="#0a1a9a" stroke-width="1.3"/>
<path d="M724.9,541.8 L725.3,536.0 L730.2,539.4 Z" fill="#0a1a9a"/>
<line x1="738.7" y1="531.2" x2="734.1" y2="537.7" stroke="#0a1a9a" stroke-width="1.3"/>
<path d="M731.2,541.8 L731.7,536.0 L736.6,539.4 Z" fill="#0a1a9a"/>
<line x1="745.1" y1="531.2" x2="740.5" y2="537.7" stroke="#0a1a9a" stroke-width="1.3"/>
<path d="M737.6,541.8 L738.0,536.0 L743.0,539.4 Z" fill="#0a1a9a"/>
<line x1="751.5" y1="531.2" x2="746.9" y2="537.7" stroke="#0a1a9a" stroke-width="1.3"/>
<path d="M744.0,541.8 L744.4,536.0 L749.4,539.4 Z" fill="#0a1a9a"/>
<line x1="757.9" y1="531.2" x2="753.3" y2="537.7" stroke="#0a1a9a" stroke-width="1.3"/>
<path d="M750.4,541.8 L750.8,536.0 L755.7,539.4 Z" fill="#0a1a9a"/>
<line x1="764.3" y1="531.2" x2="759.7" y2="537.7" stroke="#0a1a9a" stroke-width="1.3"/>
<path d="M756.8,541.8 L757.2,536.0 L762.1,539.4 Z" fill="#0a1a9a"/>
<line x1="770.7" y1="531.2" x2="766.1" y2="537.7" stroke="#0a1a9a" stroke-width="1.3"/>
<path d="M763.2,541.8 L763.6,536.0 L768.5,539.4 Z" fill="#0a1a9a"/>
<line x1="777.0" y1="531.2" x2="772.5" y2="537.7" stroke="#0a1a9a" stroke-width="1.3"/>
<path d="M769.6,541.8 L770.0,536.0 L774.9,539.4 Z" fill="#0a1a9a"/>
<line x1="783.4" y1="531.2" x2="778.8" y2="537.7" stroke="#0a1a9a" stroke-width="1.3"/>
<path d="M776.0,541.8 L776.4,536.0 L781.3,539.4 Z" fill="#0a1a9a"/>
<line x1="789.8" y1="531.2" x2="785.2" y2="537.7" stroke="#0a1a9a" stroke-width="1.3"/>
<path d="M782.4,541.8 L782.8,536.0 L787.7,539.4 Z" fill="#0a1a9a"/>
<line x1="796.2" y1="531.2" x2="791.6" y2="537.7" stroke="#0a1a9a" stroke-width="1.3"/>
<path d="M788.8,541.8 L789.2,536.0 L794.1,539.4 Z" fill="#0a1a9a"/>
<line x1="802.6" y1="531.2" x2="798.0" y2="537.7" stroke="#0a1a9a" stroke-width="1.3"/>
<path d="M795.1,541.8 L795.6,536.0 L800.5,539.4 Z" fill="#0a1a9a"/>
<line x1="809.0" y1="531.2" x2="804.4" y2="537.7" stroke="#0a1a9a" stroke-width="1.3"/>
<path d="M801.5,541.8 L801.9,536.0 L806.9,539.4 Z" fill="#0a1a9a"/>
<line x1="815.4" y1="531.2" x2="810.8" y2="537.7" stroke="#0a1a9a" stroke-width="1.3"/>
<path d="M807.9,541.8 L808.3,536.0 L813.2,539.4 Z" fill="#0a1a9a"/>
<line x1="821.8" y1="531.2" x2="817.2" y2="537.7" stroke="#0a1a9a" stroke-width="1.3"/>
<path d="M814.3,541.8 L814.7,536.0 L819.6,539.4 Z" fill="#0a1a9a"/>
<line x1="828.2" y1="531.2" x2="823.6" y2="537.7" stroke="#0a1a9a" stroke-width="1.3"/>
<path d="M820.7,541.8 L821.1,536.0 L826.0,539.4 Z" fill="#0a1a9a"/>
<line x1="834.5" y1="531.2" x2="830.0" y2="537.7" stroke="#0a1a9a" stroke-width="1.3"/>
<path d="M827.1,541.8 L827.5,536.0 L832.4,539.4 Z" fill="#0a1a9a"/>
<line x1="840.9" y1="531.2" x2="836.3" y2="537.7" stroke="#0a1a9a" stroke-width="1.3"/>
<path d="M833.5,541.8 L833.9,536.0 L838.8,539.4 Z" fill="#0a1a9a"/>
<clipPath id="cc"><rect x="348.6" y="558" width="492.4" height="78"/></clipPath>
<g clip-path="url(#cc)">
<rect x="348.6" y="558" width="492.4" height="78" fill="#87cefa"/>
<rect x="348.6" y="558" width="36.9" height="78" fill="#7cbdea"/>
<rect x="435.0" y="558" width="103.9" height="78" fill="#7cbdea"/>
<rect x="588.3" y="558" width="103.9" height="78" fill="#7cbdea"/>
<rect x="741.6" y="558" width="99.4" height="78" fill="#7cbdea"/>
<line x1="361.4" y1="558" x2="361.4" y2="636" stroke="#000" stroke-width="1" stroke-dasharray="2,2" shape-rendering="crispEdges"/>
<line x1="380.6" y1="558" x2="380.6" y2="636" stroke="#000" stroke-width="1" stroke-dasharray="2,2" shape-rendering="crispEdges"/>
<line x1="399.7" y1="558" x2="399.7" y2="636" stroke="#000" stroke-width="1" stroke-dasharray="2,2" shape-rendering="crispEdges"/>
<line x1="418.9" y1="558" x2="418.9" y2="636" stroke="#000" stroke-width="1" stroke-dasharray="2,2" shape-rendering="crispEdges"/>
<line x1="438.1" y1="558" x2="438.1" y2="636" stroke="#000" stroke-width="1" stroke-dasharray="2,2" shape-rendering="crispEdges"/>
<line x1="457.2" y1="558" x2="457.2" y2="636" stroke="#000" stroke-width="1" stroke-dasharray="2,2" shape-rendering="crispEdges"/>
<line x1="476.4" y1="558" x2="476.4" y2="636" stroke="#000" stroke-width="1" stroke-dasharray="2,2" shape-rendering="crispEdges"/>
<line x1="495.6" y1="558" x2="495.6" y2="636" stroke="#000" stroke-width="1" stroke-dasharray="2,2" shape-rendering="crispEdges"/>
<line x1="514.8" y1="558" x2="514.8" y2="636" stroke="#000" stroke-width="1" stroke-dasharray="2,2" shape-rendering="crispEdges"/>
<line x1="533.9" y1="558" x2="533.9" y2="636" stroke="#000" stroke-width="1" stroke-dasharray="2,2" shape-rendering="crispEdges"/>
<line x1="553.1" y1="558" x2="553.1" y2="636" stroke="#000" stroke-width="1" stroke-dasharray="2,2" shape-rendering="crispEdges"/>
<line x1="572.3" y1="558" x2="572.3" y2="636" stroke="#000" stroke-width="1" stroke-dasharray="2,2" shape-rendering="crispEdges"/>
<line x1="591.4" y1="558" x2="591.4" y2="636" stroke="#000" stroke-width="1" stroke-dasharray="2,2" shape-rendering="crispEdges"/>
<line x1="610.6" y1="558" x2="610.6" y2="636" stroke="#000" stroke-width="1" stroke-dasharray="2,2" shape-rendering="crispEdges"/>
<line x1="629.8" y1="558" x2="629.8" y2="636" stroke="#000" stroke-width="1" stroke-dasharray="2,2" shape-rendering="crispEdges"/>
<line x1="649.0" y1="558" x2="649.0" y2="636" stroke="#000" stroke-width="1" stroke-dasharray="2,2" shape-rendering="crispEdges"/>
<line x1="668.1" y1="558" x2="668.1" y2="636" stroke="#000" stroke-width="1" stroke-dasharray="2,2" shape-rendering="crispEdges"/>
<line x1="687.3" y1="558" x2="687.3" y2="636" stroke="#000" stroke-width="1" stroke-dasharray="2,2" shape-rendering="crispEdges"/>
<line x1="706.5" y1="558" x2="706.5" y2="636" stroke="#000" stroke-width="1" stroke-dasharray="2,2" shape-rendering="crispEdges"/>
<line x1="725.6" y1="558" x2="725.6" y2="636" stroke="#000" stroke-width="1" stroke-dasharray="2,2" shape-rendering="crispEdges"/>
<line x1="744.8" y1="558" x2="744.8" y2="636" stroke="#000" stroke-width="1" stroke-dasharray="2,2" shape-rendering="crispEdges"/>
<line x1="764.0" y1="558" x2="764.0" y2="636" stroke="#000" stroke-width="1" stroke-dasharray="2,2" shape-rendering="crispEdges"/>
<line x1="783.1" y1="558" x2="783.1" y2="636" stroke="#000" stroke-width="1" stroke-dasharray="2,2" shape-rendering="crispEdges"/>
<line x1="802.3" y1="558" x2="802.3" y2="636" stroke="#000" stroke-width="1" stroke-dasharray="2,2" shape-rendering="crispEdges"/>
<line x1="821.5" y1="558" x2="821.5" y2="636" stroke="#000" stroke-width="1" stroke-dasharray="2,2" shape-rendering="crispEdges"/>
<line x1="348.6" y1="578.6" x2="841.0" y2="578.6" stroke="#000" stroke-width="1" stroke-dasharray="2,2" shape-rendering="crispEdges"/>
<line x1="348.6" y1="597.2" x2="841.0" y2="597.2" stroke="#000" stroke-width="1" stroke-dasharray="2,2" shape-rendering="crispEdges"/>
<line x1="348.6" y1="616.3" x2="841.0" y2="616.3" stroke="#000" stroke-width="1" stroke-dasharray="2,2" shape-rendering="crispEdges"/>
<circle cx="348.6" cy="569.3" r="2.8" fill="#b02222"/>
<circle cx="355.0" cy="569.3" r="2.8" fill="#b02222"/>
<circle cx="361.4" cy="569.3" r="2.8" fill="#b02222"/>
<circle cx="367.8" cy="572.9" r="2.8" fill="#b02222"/>
<circle cx="374.2" cy="573.0" r="2.8" fill="#b02222"/>
<circle cx="380.5" cy="575.6" r="2.8" fill="#b02222"/>
<circle cx="386.9" cy="576.4" r="2.8" fill="#b02222"/>
<circle cx="393.3" cy="573.7" r="2.8" fill="#b02222"/>
<circle cx="399.7" cy="573.5" r="2.8" fill="#b02222"/>
<circle cx="406.1" cy="573.5" r="2.8" fill="#b02222"/>
<circle cx="412.5" cy="573.4" r="2.8" fill="#b02222"/>
<circle cx="418.9" cy="573.3" r="2.8" fill="#b02222"/>
<circle cx="425.3" cy="573.2" r="2.8" fill="#b02222"/>
<circle cx="431.7" cy="573.2" r="2.8" fill="#b02222"/>
<circle cx="438.1" cy="573.1" r="2.8" fill="#b02222"/>
<circle cx="444.4" cy="573.0" r="2.8" fill="#b02222"/>
<circle cx="450.8" cy="573.2" r="2.8" fill="#b02222"/>
<circle cx="457.2" cy="573.3" r="2.8" fill="#b02222"/>
<circle cx="463.6" cy="573.5" r="2.8" fill="#b02222"/>
<circle cx="470.0" cy="575.0" r="2.8" fill="#b02222"/>
<circle cx="476.4" cy="575.7" r="2.8" fill="#b02222"/>
<circle cx="482.8" cy="576.7" r="2.8" fill="#b02222"/>
<circle cx="489.2" cy="574.7" r="2.8" fill="#b02222"/>
<circle cx="495.6" cy="572.9" r="2.8" fill="#b02222"/>
<circle cx="502.0" cy="571.9" r="2.8" fill="#b02222"/>
<circle cx="508.3" cy="571.0" r="2.8" fill="#b02222"/>
<circle cx="514.7" cy="569.8" r="2.8" fill="#b02222"/>
<circle cx="521.1" cy="569.7" r="2.8" fill="#b02222"/>
<circle cx="527.5" cy="569.7" r="2.8" fill="#b02222"/>
<circle cx="533.9" cy="569.7" r="2.8" fill="#b02222"/>
<circle cx="540.3" cy="569.7" r="2.8" fill="#b02222"/>
<circle cx="546.7" cy="569.7" r="2.8" fill="#b02222"/>
<circle cx="553.1" cy="569.7" r="2.8" fill="#b02222"/>
<circle cx="559.5" cy="569.7" r="2.8" fill="#b02222"/>
<circle cx="565.8" cy="569.7" r="2.8" fill="#b02222"/>
<circle cx="572.2" cy="569.7" r="2.8" fill="#b02222"/>
<circle cx="578.6" cy="569.7" r="2.8" fill="#b02222"/>
<circle cx="585.0" cy="569.7" r="2.8" fill="#b02222"/>
<circle cx="591.4" cy="569.7" r="2.8" fill="#b02222"/>
<circle cx="597.8" cy="570.4" r="2.8" fill="#b02222"/>
<circle cx="604.2" cy="571.0" r="2.8" fill="#b02222"/>
<circle cx="610.6" cy="571.0" r="2.8" fill="#b02222"/>
<circle cx="617.0" cy="571.0" r="2.8" fill="#b02222"/>
<circle cx="623.4" cy="571.0" r="2.8" fill="#b02222"/>
<circle cx="629.7" cy="571.0" r="2.8" fill="#b02222"/>
<circle cx="636.1" cy="571.0" r="2.8" fill="#b02222"/>
<circle cx="642.5" cy="571.0" r="2.8" fill="#b02222"/>
<circle cx="648.9" cy="571.0" r="2.8" fill="#b02222"/>
<circle cx="655.3" cy="571.0" r="2.8" fill="#b02222"/>
<circle cx="661.7" cy="571.0" r="2.8" fill="#b02222"/>
<circle cx="668.1" cy="571.0" r="2.8" fill="#b02222"/>
<circle cx="674.5" cy="571.0" r="2.8" fill="#b02222"/>
<circle cx="680.9" cy="572.1" r="2.8" fill="#b02222"/>
<circle cx="687.2" cy="572.1" r="2.8" fill="#b02222"/>
<circle cx="693.6" cy="572.1" r="2.8" fill="#b02222"/>
<circle cx="700.0" cy="572.1" r="2.8" fill="#b02222"/>
<circle cx="706.4" cy="572.1" r="2.8" fill="#b02222"/>
<circle cx="712.8" cy="572.1" r="2.8" fill="#b02222"/>
<circle cx="719.2" cy="572.1" r="2.8" fill="#b02222"/>
<circle cx="725.6" cy="572.8" r="2.8" fill="#b02222"/>
<circle cx="732.0" cy="573.5" r="2.8" fill="#b02222"/>
<circle cx="738.4" cy="574.5" r="2.8" fill="#b02222"/>
<circle cx="744.8" cy="575.6" r="2.8" fill="#b02222"/>
<circle cx="751.1" cy="577.0" r="2.8" fill="#b02222"/>
<circle cx="757.5" cy="577.1" r="2.8" fill="#b02222"/>
<circle cx="763.9" cy="577.1" r="2.8" fill="#b02222"/>
<circle cx="770.3" cy="577.1" r="2.8" fill="#b02222"/>
<circle cx="776.7" cy="577.1" r="2.8" fill="#b02222"/>
<circle cx="783.1" cy="577.1" r="2.8" fill="#b02222"/>
<circle cx="789.5" cy="577.1" r="2.8" fill="#b02222"/>
<circle cx="795.9" cy="577.1" r="2.8" fill="#b02222"/>
<circle cx="802.3" cy="577.1" r="2.8" fill="#b02222"/>
<circle cx="808.7" cy="577.9" r="2.8" fill="#b02222"/>
<circle cx="815.0" cy="577.1" r="2.8" fill="#b02222"/>
<circle cx="821.4" cy="576.4" r="2.8" fill="#b02222"/>
<circle cx="827.8" cy="576.4" r="2.8" fill="#b02222"/>
<circle cx="834.2" cy="576.4" r="2.8" fill="#b02222"/>
<circle cx="840.6" cy="576.4" r="2.8" fill="#b02222"/>
<circle cx="348.6" cy="579.3" r="2.8" fill="#5a5a5a"/>
<circle cx="355.0" cy="579.3" r="2.8" fill="#5a5a5a"/>
<circle cx="361.4" cy="579.3" r="2.8" fill="#5a5a5a"/>
<circle cx="367.8" cy="580.7" r="2.8" fill="#9a9a9a"/>
<circle cx="374.2" cy="578.0" r="2.8" fill="#cfcfcf"/>
<circle cx="399.7" cy="583.3" r="2.8" fill="#cfcfcf"/>
<circle cx="406.1" cy="583.3" r="2.8" fill="#cfcfcf"/>
<circle cx="412.5" cy="583.3" r="2.8" fill="#cfcfcf"/>
<circle cx="418.9" cy="583.3" r="2.8" fill="#cfcfcf"/>
<circle cx="406.1" cy="578.5" r="2.8" fill="#9a9a9a"/>
<circle cx="431.7" cy="577.0" r="2.8" fill="#cfcfcf"/>
<circle cx="444.4" cy="580.0" r="2.8" fill="#cfcfcf"/>
<circle cx="450.8" cy="580.0" r="2.8" fill="#cfcfcf"/>
<circle cx="457.2" cy="580.0" r="2.8" fill="#cfcfcf"/>
<circle cx="348.6" cy="603.0" r="2.8" fill="#cfcfcf"/>
<circle cx="348.6" cy="628.6" r="2.8" fill="#ffffff"/>
<circle cx="355.0" cy="628.6" r="2.8" fill="#ffffff"/>
<circle cx="361.4" cy="628.6" r="2.8" fill="#ffffff"/>
<circle cx="367.8" cy="628.6" r="2.8" fill="#ffffff"/>
<circle cx="374.2" cy="628.6" r="2.8" fill="#ffffff"/>
<circle cx="380.5" cy="628.6" r="2.8" fill="#ffffff"/>
<circle cx="386.9" cy="626.0" r="2.8" fill="#cfcfcf"/>
<circle cx="393.3" cy="626.0" r="2.8" fill="#cfcfcf"/>
<circle cx="399.7" cy="631.4" r="2.8" fill="#ffffff"/>
<circle cx="406.1" cy="631.4" r="2.8" fill="#ffffff"/>
<circle cx="412.5" cy="631.4" r="2.8" fill="#ffffff"/>
<circle cx="418.9" cy="631.4" r="2.8" fill="#ffffff"/>
<circle cx="425.3" cy="631.4" r="2.8" fill="#ffffff"/>
<circle cx="431.7" cy="631.4" r="2.8" fill="#ffffff"/>
<circle cx="438.1" cy="622.0" r="2.8" fill="#ffffff"/>
<circle cx="444.4" cy="625.0" r="2.8" fill="#ffffff"/>
<circle cx="450.8" cy="627.0" r="2.8" fill="#ffffff"/>
<circle cx="457.2" cy="631.4" r="2.8" fill="#ffffff"/>
<circle cx="463.6" cy="631.4" r="2.8" fill="#ffffff"/>
<circle cx="470.0" cy="631.4" r="2.8" fill="#ffffff"/>
<circle cx="463.6" cy="623.0" r="2.8" fill="#9a9a9a"/>
<circle cx="470.0" cy="624.9" r="2.8" fill="#9a9a9a"/>
<circle cx="476.4" cy="628.2" r="2.8" fill="#9a9a9a"/>
<circle cx="482.8" cy="629.2" r="2.8" fill="#9a9a9a"/>
<circle cx="489.2" cy="630.6" r="2.8" fill="#9a9a9a"/>
<circle cx="495.6" cy="627.1" r="2.8" fill="#9a9a9a"/>
<circle cx="502.0" cy="620.2" r="2.8" fill="#9a9a9a"/>
<circle cx="508.3" cy="619.2" r="2.8" fill="#9a9a9a"/>
<circle cx="514.7" cy="619.2" r="2.8" fill="#9a9a9a"/>
<circle cx="521.1" cy="616.8" r="2.8" fill="#9a9a9a"/>
<circle cx="527.5" cy="617.8" r="2.8" fill="#9a9a9a"/>
<circle cx="533.9" cy="619.2" r="2.8" fill="#9a9a9a"/>
<circle cx="540.3" cy="619.2" r="2.8" fill="#9a9a9a"/>
<circle cx="546.7" cy="619.2" r="2.8" fill="#9a9a9a"/>
<circle cx="553.1" cy="617.4" r="2.8" fill="#9a9a9a"/>
<circle cx="559.5" cy="617.8" r="2.8" fill="#9a9a9a"/>
<circle cx="565.8" cy="619.2" r="2.8" fill="#9a9a9a"/>
<circle cx="572.2" cy="619.2" r="2.8" fill="#9a9a9a"/>
<circle cx="578.6" cy="619.2" r="2.8" fill="#9a9a9a"/>
<circle cx="585.0" cy="619.2" r="2.8" fill="#9a9a9a"/>
<circle cx="591.4" cy="619.2" r="2.8" fill="#9a9a9a"/>
<circle cx="597.8" cy="619.2" r="2.8" fill="#9a9a9a"/>
<circle cx="604.2" cy="619.2" r="2.8" fill="#9a9a9a"/>
<circle cx="610.6" cy="619.2" r="2.8" fill="#9a9a9a"/>
<circle cx="617.0" cy="608.5" r="2.8" fill="#9a9a9a"/>
<circle cx="623.4" cy="619.2" r="2.8" fill="#9a9a9a"/>
<circle cx="642.5" cy="604.9" r="2.8" fill="#5a5a5a"/>
<circle cx="648.9" cy="602.8" r="2.8" fill="#5a5a5a"/>
<circle cx="655.3" cy="601.1" r="2.8" fill="#5a5a5a"/>
<circle cx="661.7" cy="618.2" r="2.8" fill="#5a5a5a"/>
<circle cx="668.1" cy="612.8" r="2.8" fill="#5a5a5a"/>
<circle cx="470.0" cy="621.4" r="2.8" fill="#000000"/>
<circle cx="476.4" cy="624.7" r="2.8" fill="#000000"/>
<circle cx="482.8" cy="625.7" r="2.8" fill="#000000"/>
<circle cx="489.2" cy="627.1" r="2.8" fill="#000000"/>
<circle cx="495.6" cy="623.6" r="2.8" fill="#000000"/>
<circle cx="502.0" cy="616.7" r="2.8" fill="#000000"/>
<circle cx="508.3" cy="615.7" r="2.8" fill="#000000"/>
<circle cx="514.7" cy="615.7" r="2.8" fill="#000000"/>
<circle cx="521.1" cy="613.3" r="2.8" fill="#000000"/>
<circle cx="527.5" cy="614.3" r="2.8" fill="#000000"/>
<circle cx="533.9" cy="615.7" r="2.8" fill="#000000"/>
<circle cx="540.3" cy="615.7" r="2.8" fill="#000000"/>
<circle cx="546.7" cy="615.7" r="2.8" fill="#000000"/>
<circle cx="553.1" cy="613.9" r="2.8" fill="#000000"/>
<circle cx="559.5" cy="614.3" r="2.8" fill="#000000"/>
<circle cx="565.8" cy="615.7" r="2.8" fill="#000000"/>
<circle cx="572.2" cy="615.7" r="2.8" fill="#000000"/>
<circle cx="578.6" cy="615.7" r="2.8" fill="#000000"/>
<circle cx="585.0" cy="615.7" r="2.8" fill="#000000"/>
<circle cx="591.4" cy="615.7" r="2.8" fill="#000000"/>
<circle cx="597.8" cy="615.7" r="2.8" fill="#000000"/>
<circle cx="604.2" cy="615.7" r="2.8" fill="#000000"/>
<circle cx="610.6" cy="615.7" r="2.8" fill="#000000"/>
<circle cx="617.0" cy="605.0" r="2.8" fill="#000000"/>
<circle cx="623.4" cy="615.7" r="2.8" fill="#000000"/>
<circle cx="642.5" cy="601.4" r="2.8" fill="#000000"/>
<circle cx="648.9" cy="599.3" r="2.8" fill="#000000"/>
<circle cx="655.3" cy="597.6" r="2.8" fill="#000000"/>
<circle cx="661.7" cy="614.7" r="2.8" fill="#000000"/>
<circle cx="668.1" cy="609.3" r="2.8" fill="#000000"/>
<circle cx="617.0" cy="615.7" r="2.8" fill="#9a9a9a"/>
<circle cx="642.5" cy="606.4" r="2.8" fill="#9a9a9a"/>
<circle cx="648.9" cy="603.0" r="2.8" fill="#9a9a9a"/>
<circle cx="648.9" cy="615.7" r="2.8" fill="#cfcfcf"/>
<circle cx="655.3" cy="615.7" r="2.8" fill="#9a9a9a"/>
<circle cx="668.1" cy="615.7" r="2.8" fill="#ffffff"/>
<circle cx="470.0" cy="630.7" r="2.8" fill="#9a9a9a"/>
<circle cx="476.4" cy="630.7" r="2.8" fill="#cfcfcf"/>
<circle cx="482.8" cy="630.7" r="2.8" fill="#cfcfcf"/>
<circle cx="489.2" cy="630.7" r="2.8" fill="#9a9a9a"/>
<circle cx="495.6" cy="630.7" r="2.8" fill="#cfcfcf"/>
<circle cx="502.0" cy="630.7" r="2.8" fill="#cfcfcf"/>
<circle cx="508.3" cy="630.7" r="2.8" fill="#ffffff"/>
<circle cx="514.7" cy="630.7" r="2.8" fill="#cfcfcf"/>
<circle cx="521.1" cy="630.7" r="2.8" fill="#9a9a9a"/>
<circle cx="527.5" cy="630.7" r="2.8" fill="#cfcfcf"/>
<circle cx="533.9" cy="630.7" r="2.8" fill="#cfcfcf"/>
<circle cx="540.3" cy="630.7" r="2.8" fill="#9a9a9a"/>
<circle cx="546.7" cy="630.7" r="2.8" fill="#cfcfcf"/>
<circle cx="553.1" cy="630.7" r="2.8" fill="#cfcfcf"/>
<circle cx="559.5" cy="630.7" r="2.8" fill="#ffffff"/>
<circle cx="565.8" cy="630.7" r="2.8" fill="#cfcfcf"/>
<circle cx="572.2" cy="630.7" r="2.8" fill="#9a9a9a"/>
<circle cx="578.6" cy="630.7" r="2.8" fill="#cfcfcf"/>
<circle cx="585.0" cy="630.7" r="2.8" fill="#cfcfcf"/>
<circle cx="591.4" cy="630.7" r="2.8" fill="#9a9a9a"/>
<circle cx="597.8" cy="630.7" r="2.8" fill="#cfcfcf"/>
<circle cx="604.2" cy="630.7" r="2.8" fill="#9a9a9a"/>
<circle cx="610.6" cy="630.7" r="2.8" fill="#cfcfcf"/>
<circle cx="617.0" cy="630.7" r="2.8" fill="#9a9a9a"/>
<circle cx="623.4" cy="630.7" r="2.8" fill="#cfcfcf"/>
<circle cx="629.7" cy="630.7" r="2.8" fill="#000000"/>
<circle cx="636.1" cy="630.7" r="2.8" fill="#000000"/>
<circle cx="642.5" cy="630.7" r="2.8" fill="#9a9a9a"/>
<circle cx="648.9" cy="630.7" r="2.8" fill="#ffffff"/>
<circle cx="655.3" cy="630.7" r="2.8" fill="#ffffff"/>
<circle cx="661.7" cy="630.7" r="2.8" fill="#ffffff"/>
<circle cx="668.1" cy="630.7" r="2.8" fill="#ffffff"/>
<circle cx="674.5" cy="631.0" r="2.8" fill="#000000"/>
<circle cx="680.9" cy="631.0" r="2.8" fill="#000000"/>
<circle cx="687.2" cy="631.0" r="2.8" fill="#000000"/>
<circle cx="693.6" cy="631.0" r="2.8" fill="#000000"/>
<circle cx="700.0" cy="631.0" r="2.8" fill="#000000"/>
<circle cx="706.4" cy="631.0" r="2.8" fill="#000000"/>
<circle cx="712.8" cy="631.0" r="2.8" fill="#000000"/>
<circle cx="719.2" cy="630.7" r="2.8" fill="#000000"/>
<circle cx="725.6" cy="630.7" r="2.8" fill="#9a9a9a"/>
<circle cx="732.0" cy="630.7" r="2.8" fill="#000000"/>
<circle cx="738.4" cy="630.7" r="2.8" fill="#000000"/>
<circle cx="744.8" cy="630.7" r="2.8" fill="#000000"/>
<circle cx="751.1" cy="630.7" r="2.8" fill="#000000"/>
<circle cx="757.5" cy="630.7" r="2.8" fill="#9a9a9a"/>
<circle cx="763.9" cy="630.7" r="2.8" fill="#9a9a9a"/>
<circle cx="770.3" cy="630.7" r="2.8" fill="#9a9a9a"/>
<circle cx="776.7" cy="630.7" r="2.8" fill="#9a9a9a"/>
<circle cx="783.1" cy="630.7" r="2.8" fill="#000000"/>
<circle cx="789.5" cy="630.7" r="2.8" fill="#000000"/>
<circle cx="795.9" cy="630.7" r="2.8" fill="#000000"/>
<circle cx="802.3" cy="630.7" r="2.8" fill="#000000"/>
<circle cx="808.7" cy="630.7" r="2.8" fill="#000000"/>
<circle cx="815.0" cy="630.7" r="2.8" fill="#000000"/>
<circle cx="821.4" cy="630.7" r="2.8" fill="#9a9a9a"/>
<circle cx="827.8" cy="630.7" r="2.8" fill="#9a9a9a"/>
<circle cx="834.2" cy="630.7" r="2.8" fill="#9a9a9a"/>
<circle cx="840.6" cy="630.7" r="2.8" fill="#9a9a9a"/>
<circle cx="725.6" cy="618.6" r="2.8" fill="#000000"/>
<circle cx="757.5" cy="616.4" r="2.8" fill="#000000"/>
<circle cx="763.9" cy="616.4" r="2.8" fill="#000000"/>
<circle cx="770.3" cy="614.3" r="2.8" fill="#000000"/>
<circle cx="776.7" cy="614.3" r="2.8" fill="#000000"/>
<circle cx="821.4" cy="613.6" r="2.8" fill="#000000"/>
<circle cx="827.8" cy="612.0" r="2.8" fill="#000000"/>
<circle cx="834.2" cy="613.6" r="2.8" fill="#000000"/>
<circle cx="840.6" cy="612.0" r="2.8" fill="#000000"/>
<path d="M349.0,590.0 L357.9,588.6 L362.0,588.9 L380.7,591.9 L393.6,593.3 L406.4,589.6 L419.3,590.0 L425.4,588.9 L437.9,593.9 L445.0,594.3 L463.6,599.3 L470.7,607.1 L476.4,604.3 L482.9,606.7 L489.3,606.4 L495.7,603.6 L502.1,597.1 L508.6,591.4 L515.0,595.3 L521.4,591.4 L527.9,590.7 L534.3,585.0 L540.7,596.4 L547.1,591.4 L553.6,580.7 L560.0,579.0 L566.4,587.9 L572.9,593.3 L579.3,591.4 L585.7,587.1 L592.1,589.3 L595.0,589.3 L604.3,590.4 L610.7,595.0 L617.1,600.0 L623.6,595.7 L630.0,622.9 L636.4,621.4 L642.1,603.6 L648.6,575.0 L655.7,571.9 L662.1,575.3 L667.9,574.3 L674.3,616.4 L680.7,626.4 L687.1,626.4 L693.6,624.7 L700.0,618.1 L706.4,620.7 L712.9,615.7 L719.3,613.6 L726.4,610.7 L732.9,612.9 L739.3,614.3 L751.4,610.7 L764.3,610.0 L770.7,604.3 L777.1,610.0 L783.6,614.7 L790.0,614.3 L796.4,616.1 L802.9,621.4 L809.3,616.4 L815.0,612.9 L821.4,607.9 L828.6,603.6 L834.3,605.7 L841.0,603.9" fill="none" stroke="#f5a000" stroke-width="2.2" stroke-linejoin="round"/>
</g>
<rect x="348.6" y="558" width="492.4" height="78.0" fill="none" stroke="#222" stroke-width="1.3" shape-rendering="crispEdges"/>
<text x="345" y="562.2" font-size="11.5" fill="#000" text-anchor="end">15.0</text>
<text x="345" y="581.7" font-size="11.5" fill="#000" text-anchor="end">7.0</text>
<text x="345" y="601.3000000000001" font-size="11.5" fill="#000" text-anchor="end">2.0</text>
<text x="345" y="620.6" font-size="11.5" fill="#000" text-anchor="end">0.5</text>
<text x="345" y="639.8000000000001" font-size="11.5" fill="#000" text-anchor="end">0.0</text>
<text x="845" y="561.7" font-size="11.5" fill="#f08000">100</text>
<text x="845" y="582.2" font-size="11.5" fill="#f08000">20</text>
<text x="845" y="601.2" font-size="11.5" fill="#f08000">5</text>
<text x="845" y="620.6" font-size="11.5" fill="#f08000">1</text>
<text x="845" y="639.8000000000001" font-size="11.5" fill="#f08000">0</text>
<clipPath id="ck"><rect x="348.6" y="645.5" width="492.4" height="14.5"/></clipPath>
<g clip-path="url(#ck)">
<rect x="348.6" y="645.5" width="492.4" height="14.5" fill="#87cefa"/>
<rect x="348.6" y="645.5" width="36.9" height="14.5" fill="#7cbdea"/>
<rect x="435.0" y="645.5" width="103.9" height="14.5" fill="#7cbdea"/>
<rect x="588.3" y="645.5" width="103.9" height="14.5" fill="#7cbdea"/>
<rect x="741.6" y="645.5" width="99.4" height="14.5" fill="#7cbdea"/>
<path d="M349,649 L358,656 L363,657 L363,661 L349,661 Z" fill="#fff"/>
<path d="M471.0,661.0 L476.5,646.0 L495.0,646.0 L497.0,650.0 L508.0,651.4 L515.0,646.0 L534.7,646.0 L537.0,649.0 L554.5,650.0 L556.7,646.0 L572.0,646.0 L583.0,646.0 L587.0,649.0 L592.0,646.0 L603.0,646.0 L607.0,650.0 L612.0,648.0 L614.0,646.0 L629.0,646.0 L635.0,651.0 L642.0,652.0 L647.0,646.0 L650.0,650.0 L660.0,651.0 L672.0,646.0 L762.0,646.0 L770.0,650.0 L780.0,649.0 L786.0,646.0 L834.0,646.0 L838.0,650.0 L841.0,651.0 L841.0,661.0 Z" fill="#555"/>
<path d="M725,661 L730,652 L760,650 L764,661 Z" fill="#444"/>
<path d="M795,661 L800,650 L841,650 L841,661 Z" fill="#6a6a6a"/>
<path d="M503,661 L509.5,647 L532.5,650 L545.7,651 L556.7,648 L576.5,655 L585,651 L594,661" fill="none" stroke="#fff" stroke-width="1.3"/>
<path d="M596,661 L605,648 L618,652 L627,661 M622.6,661 L638,648 L651,656" fill="none" stroke="#aaa" stroke-width="1.2"/>
<path d="M650,655 L660,652 L668,661 M669.8,661 L674,648 L687,650 L694,656 L700.5,651 L713.7,652 L727,661 M779.7,661 L786,651 L801.6,648 L815,650 L819,661" fill="none" stroke="#aaa" stroke-width="1.2"/>
<line x1="361.4" y1="645.5" x2="361.4" y2="661" stroke="#000" stroke-width="1" stroke-dasharray="2,2" shape-rendering="crispEdges"/>
<line x1="380.6" y1="645.5" x2="380.6" y2="661" stroke="#000" stroke-width="1" stroke-dasharray="2,2" shape-rendering="crispEdges"/>
<line x1="399.7" y1="645.5" x2="399.7" y2="661" stroke="#000" stroke-width="1" stroke-dasharray="2,2" shape-rendering="crispEdges"/>
<line x1="418.9" y1="645.5" x2="418.9" y2="661" stroke="#000" stroke-width="1" stroke-dasharray="2,2" shape-rendering="crispEdges"/>
<line x1="438.1" y1="645.5" x2="438.1" y2="661" stroke="#000" stroke-width="1" stroke-dasharray="2,2" shape-rendering="crispEdges"/>
<line x1="457.2" y1="645.5" x2="457.2" y2="661" stroke="#000" stroke-width="1" stroke-dasharray="2,2" shape-rendering="crispEdges"/>
<line x1="476.4" y1="645.5" x2="476.4" y2="661" stroke="#000" stroke-width="1" stroke-dasharray="2,2" shape-rendering="crispEdges"/>
<line x1="495.6" y1="645.5" x2="495.6" y2="661" stroke="#000" stroke-width="1" stroke-dasharray="2,2" shape-rendering="crispEdges"/>
<line x1="514.8" y1="645.5" x2="514.8" y2="661" stroke="#000" stroke-width="1" stroke-dasharray="2,2" shape-rendering="crispEdges"/>
<line x1="533.9" y1="645.5" x2="533.9" y2="661" stroke="#000" stroke-width="1" stroke-dasharray="2,2" shape-rendering="crispEdges"/>
<line x1="553.1" y1="645.5" x2="553.1" y2="661" stroke="#000" stroke-width="1" stroke-dasharray="2,2" shape-rendering="crispEdges"/>
<line x1="572.3" y1="645.5" x2="572.3" y2="661" stroke="#000" stroke-width="1" stroke-dasharray="2,2" shape-rendering="crispEdges"/>
<line x1="591.4" y1="645.5" x2="591.4" y2="661" stroke="#000" stroke-width="1" stroke-dasharray="2,2" shape-rendering="crispEdges"/>
<line x1="610.6" y1="645.5" x2="610.6" y2="661" stroke="#000" stroke-width="1" stroke-dasharray="2,2" shape-rendering="crispEdges"/>
<line x1="629.8" y1="645.5" x2="629.8" y2="661" stroke="#000" stroke-width="1" stroke-dasharray="2,2" shape-rendering="crispEdges"/>
<line x1="649.0" y1="645.5" x2="649.0" y2="661" stroke="#000" stroke-width="1" stroke-dasharray="2,2" shape-rendering="crispEdges"/>
<line x1="668.1" y1="645.5" x2="668.1" y2="661" stroke="#000" stroke-width="1" stroke-dasharray="2,2" shape-rendering="crispEdges"/>
<line x1="687.3" y1="645.5" x2="687.3" y2="661" stroke="#000" stroke-width="1" stroke-dasharray="2,2" shape-rendering="crispEdges"/>
<line x1="706.5" y1="645.5" x2="706.5" y2="661" stroke="#000" stroke-width="1" stroke-dasharray="2,2" shape-rendering="crispEdges"/>
<line x1="725.6" y1="645.5" x2="725.6" y2="661" stroke="#000" stroke-width="1" stroke-dasharray="2,2" shape-rendering="crispEdges"/>
<line x1="744.8" y1="645.5" x2="744.8" y2="661" stroke="#000" stroke-width="1" stroke-dasharray="2,2" shape-rendering="crispEdges"/>
<line x1="764.0" y1="645.5" x2="764.0" y2="661" stroke="#000" stroke-width="1" stroke-dasharray="2,2" shape-rendering="crispEdges"/>
<line x1="783.1" y1="645.5" x2="783.1" y2="661" stroke="#000" stroke-width="1" stroke-dasharray="2,2" shape-rendering="crispEdges"/>
<line x1="802.3" y1="645.5" x2="802.3" y2="661" stroke="#000" stroke-width="1" stroke-dasharray="2,2" shape-rendering="crispEdges"/>
<line x1="821.5" y1="645.5" x2="821.5" y2="661" stroke="#000" stroke-width="1" stroke-dasharray="2,2" shape-rendering="crispEdges"/>
</g>
<path d="M348.6,661 L348.6,645.5 L841.0,645.5 L841.0,661" fill="none" stroke="#222" stroke-width="1.3"/>
<text x="345" y="650" font-size="11.5" fill="#000" text-anchor="end">8</text>
<text x="845" y="650.5" font-size="11.5" fill="#f08000">1</text>
<text x="292" y="216" font-size="12.5" fill="#1a1aa6" text-anchor="middle" transform="rotate(-90 292 216)">temperatura</text>
<text x="306" y="217" font-size="12.5" fill="#1a1aa6" text-anchor="middle" transform="rotate(-90 306 217)">(°C)</text>
<text x="292" y="304.5" font-size="12.5" fill="#1a1aa6" text-anchor="middle" transform="rotate(-90 292 304.5)">opad</text>
<text x="306" y="303.2" font-size="12.5" fill="#1a1aa6" text-anchor="middle" textLength="81" lengthAdjust="spacingAndGlyphs" transform="rotate(-90 306 303.2)">(mm/h, kg/m²/h)</text>
<text x="292" y="392" font-size="12.5" fill="#1a1aa6" text-anchor="middle" transform="rotate(-90 292 392)">ciśnienie</text>
<text x="306" y="392.4" font-size="12.5" fill="#1a1aa6" text-anchor="middle" transform="rotate(-90 306 392.4)">(hPa)</text>
<text x="292" y="480" font-size="12.5" fill="#1a1aa6" text-anchor="middle" transform="rotate(-90 292 480)">wiatr</text>
<text x="306" y="480.4" font-size="12.5" fill="#1a1aa6" text-anchor="middle" transform="rotate(-90 306 480.4)">(m/s)</text>
<text x="292" y="594.5" font-size="12.5" fill="#1a1aa6" text-anchor="middle" textLength="104" lengthAdjust="spacingAndGlyphs" transform="rotate(-90 292 594.5)">pion. rozciągł. chm.</text>
<text x="306" y="594.5" font-size="12.5" fill="#1a1aa6" text-anchor="middle" transform="rotate(-90 306 594.5)">(km)</text>
<text x="292" y="649" font-size="12.5" fill="#1a1aa6" text-anchor="end" transform="rotate(-90 292 649)">pokrycie</text>
<text x="906" y="216.7" font-size="12.5" fill="#1a1aa6" text-anchor="middle" transform="rotate(-90 906 216.7)">temperatura</text>
<text x="893" y="216.7" font-size="12.5" fill="#1a1aa6" text-anchor="middle" transform="rotate(-90 893 216.7)">(°C)</text>
<text x="906" y="303.5" font-size="12.5" fill="#1a1aa6" text-anchor="middle" transform="rotate(-90 906 303.5)">wilgotność wzgl.</text>
<text x="893" y="304.5" font-size="12.5" fill="#1a1aa6" text-anchor="middle" transform="rotate(-90 893 304.5)">(%)</text>
<text x="906" y="394" font-size="12.5" fill="#1a1aa6" text-anchor="middle" transform="rotate(-90 906 394)">ciśnienie</text>
<text x="893" y="389" font-size="12.5" fill="#1a1aa6" text-anchor="middle" transform="rotate(-90 893 389)">(mm Hg)</text>
<text x="906" y="480" font-size="12.5" fill="#1a1aa6" text-anchor="middle" transform="rotate(-90 906 480)">wiatr</text>
<text x="893" y="480" font-size="12.5" fill="#1a1aa6" text-anchor="middle" transform="rotate(-90 893 480)">(km/h)</text>
<text x="906" y="600" font-size="12.5" fill="#1a1aa6" text-anchor="middle" transform="rotate(-90 906 600)">widzialność</text>
<text x="893" y="597" font-size="12.5" fill="#1a1aa6" text-anchor="middle" transform="rotate(-90 893 597)">(km)</text>
<text x="299" y="532" font-size="12" fill="#1a1aa6" text-anchor="middle">N</text>
<text x="289" y="540" font-size="12" fill="#1a1aa6" text-anchor="middle">W</text>
<text x="305" y="540" font-size="12" fill="#1a1aa6" text-anchor="middle">E</text>
<text x="297" y="549" font-size="12" fill="#1a1aa6" text-anchor="middle">S</text>
<text x="899" y="532" font-size="12" fill="#1a1aa6" text-anchor="middle">N</text>
<text x="889" y="540" font-size="12" fill="#1a1aa6" text-anchor="middle">W</text>
<text x="905" y="540" font-size="12" fill="#1a1aa6" text-anchor="middle">E</text>
<text x="897" y="549" font-size="12" fill="#1a1aa6" text-anchor="middle">S</text>
<text x="290" y="133" font-size="12.3" fill="#1a1aa6" textLength="147" lengthAdjust="spacingAndGlyphs">wschód słońca: 07:47 CET</text>
<text x="292" y="146" font-size="12.3" fill="#1a1aa6" textLength="144" lengthAdjust="spacingAndGlyphs">zachód słońca: 15:31 CET</text>
<text x="596" y="133" font-size="12.3" fill="#1a1aa6" text-anchor="middle">21°45'49"E, 53°35'57"N</text>
<text x="595.7" y="146" font-size="12.3" fill="#1a1aa6" text-anchor="middle">(x=262,&#160; y=366)</text>
<text x="818.5" y="133" font-size="12.3" fill="#1a1aa6" text-anchor="middle" textLength="158" lengthAdjust="spacingAndGlyphs">wysokość (min, środek, max)</text>
<text x="818.4" y="146" font-size="12.3" fill="#1a1aa6" text-anchor="middle" textLength="96" lengthAdjust="spacingAndGlyphs">119 - 123 - 167 m</text>
<defs>
<linearGradient id="bg" x1="0" y1="0" x2="1" y2="0">
<stop offset="0" stop-color="#1551a6"/><stop offset="0.3" stop-color="#1a56aa"/><stop offset="0.44" stop-color="#2d6ab7"/><stop offset="0.57" stop-color="#3a77c1"/><stop offset="0.7" stop-color="#2a65b3"/><stop offset="0.83" stop-color="#1c56a8"/><stop offset="1" stop-color="#1550a4"/>
</linearGradient>
<radialGradient id="glow" cx="0.5" cy="0.5" r="0.5"><stop offset="0" stop-color="#5a96d6" stop-opacity="0.35"/><stop offset="1" stop-color="#5a96d6" stop-opacity="0"/></radialGradient>
<linearGradient id="rim" x1="0" y1="0" x2="1" y2="0"><stop offset="0" stop-color="#7a7a7a"/><stop offset="0.1" stop-color="#2a2a2a"/><stop offset="0.9" stop-color="#2a2a2a"/><stop offset="1" stop-color="#8a8a8a"/></linearGradient>
</defs>
<clipPath id="cban"><rect x="280" y="0" width="630" height="120"/></clipPath><g clip-path="url(#cban)">
<rect x="280" y="0" width="630" height="120" fill="url(#bg)"/>
<ellipse cx="775" cy="35" rx="55" ry="30" fill="url(#glow)"/>
<text x="311.5" y="39.4" font-size="19.5" fill="#fff" textLength="156.7" lengthAdjust="spacingAndGlyphs">Oficjalna aplikacja</text>
<text x="311.5" y="67.5" font-size="19.5" fill="#fff"><tspan font-weight="bold">Meteo ICM</tspan> do pobrania</text>
<text x="311.5" y="95.6" font-size="19.5" fill="#fff" textLength="225.5" lengthAdjust="spacingAndGlyphs">w Google Play i App Store</text>
<rect x="592.3" y="6.4" width="51.8" height="125" rx="8" fill="url(#rim)"/>
<rect x="593.8" y="7.9" width="48.8" height="122" rx="7" fill="#0c0c0c"/>
<path d="M595.5,14 Q595.5,9.5 600,9.5 L636.5,9.5 Q641,9.5 641,14 L641,56 L595.5,56 Z" fill="#0f2a55"/>
<circle cx="621" cy="40" r="14" fill="none" stroke="#1d3d70" stroke-width="0.8"/><circle cx="621" cy="40" r="22" fill="none" stroke="#1a3766" stroke-width="0.8"/>
<rect x="612.5" y="11" width="13" height="4" rx="2" fill="#000"/>
<rect x="600" y="21" width="33" height="6.5" rx="1" fill="#07162f"/><circle cx="638" cy="24.3" r="2.5" fill="#07162f"/>
<text x="620" y="44" font-size="7.5" fill="#e8eef8">2.5°</text>
<path d="M610,41 q0,-4 4,-4 q3,0 4,3 q3,0 3,3 l-11,0 z" fill="none" stroke="#9ab" stroke-width="0.6"/>
<rect x="608" y="50" width="8" height="3.5" rx="0.5" fill="#1d3a6a"/><rect x="618" y="50" width="8" height="3.5" rx="0.5" fill="#1d3a6a"/>
<rect x="599" y="60" width="11" height="20" rx="1" fill="#181818"/><rect x="612" y="60" width="11" height="20" rx="1" fill="#181818"/>
<rect x="599" y="85" width="40" height="9" rx="1" fill="#161616"/><rect x="599" y="97" width="40" height="9" rx="1" fill="#161616"/><rect x="599" y="109" width="40" height="9" rx="1" fill="#161616"/>
<rect x="649.5" y="21.5" width="50.5" height="110" rx="8" fill="url(#rim)"/>
<rect x="651.0" y="23.0" width="47.5" height="107" rx="7" fill="#0c0c0c"/>
<path d="M652.5,29 Q652.5,24.5 657,24.5 L692.5,24.5 Q697,24.5 697,29 L697,121 L652.5,121 Z" fill="#3e3d37"/>
<path d="M662,50 Q675,52 682,65 Q692,80 688,98 Q684,112 672,121 L660,121 Q668,100 664,85 Q658,70 662,50 Z" fill="#8a8068" opacity="0.75"/>
<path d="M672,60 Q680,70 678,85 Q674,95 676,110" stroke="#6a8aa0" stroke-width="0.7" fill="none"/>
<rect x="655" y="35" width="31" height="8" rx="1" fill="#e6e6e6"/>
<circle cx="690.5" cy="39" r="4" fill="#eee"/>
<rect x="666" y="26" width="13" height="4" rx="2" fill="#000"/>
<rect x="623.2" y="46.4" width="50.8" height="90" rx="8" fill="url(#rim)"/>
<rect x="624.7" y="47.9" width="47.8" height="87" rx="7" fill="#0c0c0c"/>
<path d="M626.5,54 Q626.5,49.5 631,49.5 L666,49.5 Q670.5,49.5 670.5,54 L670.5,121 L626.5,121 Z" fill="#f6f6f6"/>
<rect x="640" y="51" width="14" height="4" rx="2" fill="#000"/>
<rect x="628" y="58.5" width="32" height="7" rx="1" fill="#252525"/><circle cx="664" cy="62" r="3.2" fill="#252525"/>
<rect x="628.5" y="73" width="10" height="1" fill="#88a"/><rect x="658" y="72" width="9" height="2" fill="#88a"/>
<rect x="628.5" y="76" width="39" height="2.5" fill="#e0e0e0"/>
<rect x="628.5" y="79" width="39" height="10" fill="#6fb9e6"/>
<path d="M628.5,85 L636,83 L645,82 L655,80 L667.5,79.5" stroke="#d33" stroke-width="0.9" fill="none"/>
<path d="M628.5,87 L640,85 L655,83 L667.5,82" stroke="#33c" stroke-width="0.8" fill="none"/>
<path d="M628.5,92 Q633,99 636,97 Q640,93 645,98 Q650,103 656,100 Q662,95 667.5,93" stroke="#e86b3a" stroke-width="0.7" fill="none"/>
<path d="M640,101 L646,101 M650,110 Q652,100 655,110" stroke="#4a4" stroke-width="0.7" fill="none"/>
<rect x="628.5" y="113" width="39" height="8" fill="#b8e020"/>
<rect x="628.5" y="113" width="11" height="8" fill="#e6e622"/><rect x="655" y="113" width="6" height="8" fill="#e6e622"/>
<text x="764.6" y="90.1" font-size="19.5" font-weight="bold" fill="#fff" textLength="91.4" lengthAdjust="spacingAndGlyphs">icmmeteo</text>
<path d="M774,67.5 C762,67.5 751,78 750.8,89 C750.7,95 754,99.5 758.5,100.5 C755.5,96 754.8,88 757.5,81 C761,73 767,69 774,67.5 Z" fill="#fff"/>
<path d="M758.5,100.5 C763,99.5 766,96 768,91" stroke="#fff" stroke-width="1.2" fill="none"/>
<rect x="860.4" y="72.6" width="25.5" height="25.5" rx="2" fill="#fff"/>
<text x="863.2" y="91.3" font-size="16" font-weight="bold" fill="#1a50a0">M</text>
<circle cx="881" cy="79" r="1.8" fill="none" stroke="#1a50a0" stroke-width="1.1"/>
</g>
<rect x="170" y="30" width="61.6" height="597.6" fill="#eef4fd"/>
<text x="164" y="51.8" font-size="12" fill="#000" text-anchor="middle">20</text>
<text x="204" y="51.8" font-size="12" fill="#000" text-anchor="middle">02</text>
<text x="244.5" y="51.8" font-size="12" fill="#000" text-anchor="middle">08</text>
<clipPath id="mt"><rect x="135.5" y="57.3" width="110.19999999999999" height="77.3"/></clipPath><g clip-path="url(#mt)">
<path d="M135.5,88.0 L146.4,90.7 L164.0,100.3 L172.7,103.8 L190.3,106.5 L225.5,108.2 L232.5,107.4 L245.7,104.7 L245.7,134.6 L135.5,134.6 Z" fill="#ffe9df"/>
<path d="M135.5,103.0 L164.0,109.1 L181.5,112.6 L199.1,116.2 L225.5,119.7 L232.5,123.2 L245.7,117.9 L245.7,134.6 L135.5,134.6 Z" fill="#c4e6fb"/>
<path d="M135.5,111.8 L155.2,112.6 L169.2,112.6 L181.5,117.0 L199.1,123.2 L216.7,127.6 L232.5,132.0 L245.7,127.6 L245.7,134.6 L135.5,134.6 Z" fill="#86c8f2"/>
<path d="M135.5,134.6 L135.5,128.5 L172.7,121.4 L193.8,125.8 L245.7,133.7 L245.7,134.6 Z" fill="#78b6e2"/>
<line x1="142.5" y1="70.4" x2="142.5" y2="110.9" stroke="#a21b1b" stroke-width="1.1"/>
<line x1="149.5" y1="77.5" x2="149.5" y2="114.4" stroke="#a21b1b" stroke-width="1.1"/>
<line x1="156.6" y1="87.1" x2="156.6" y2="117.9" stroke="#a21b1b" stroke-width="1.1"/>
<line x1="163.6" y1="96.8" x2="163.6" y2="121.4" stroke="#a21b1b" stroke-width="1.1"/>
<line x1="170.6" y1="100.3" x2="170.6" y2="124.9" stroke="#a21b1b" stroke-width="1.1"/>
<line x1="177.7" y1="103.0" x2="177.7" y2="125.8" stroke="#a21b1b" stroke-width="1.1"/>
<line x1="184.7" y1="107.4" x2="184.7" y2="126.7" stroke="#a21b1b" stroke-width="1.1"/>
<line x1="191.7" y1="107.4" x2="191.7" y2="125.8" stroke="#a21b1b" stroke-width="1.1"/>
<line x1="198.8" y1="108.2" x2="198.8" y2="127.6" stroke="#a21b1b" stroke-width="1.1"/>
<line x1="205.8" y1="110.0" x2="205.8" y2="129.3" stroke="#a21b1b" stroke-width="1.1"/>
<line x1="212.8" y1="109.1" x2="212.8" y2="130.2" stroke="#a21b1b" stroke-width="1.1"/>
<line x1="219.9" y1="110.0" x2="219.9" y2="131.1" stroke="#a21b1b" stroke-width="1.1"/>
<line x1="226.9" y1="110.9" x2="226.9" y2="132.0" stroke="#a21b1b" stroke-width="1.1"/>
<line x1="233.9" y1="110.9" x2="233.9" y2="132.9" stroke="#a21b1b" stroke-width="1.1"/>
<line x1="241.0" y1="105.6" x2="241.0" y2="119.7" stroke="#a21b1b" stroke-width="1.1"/>
<rect x="141.6" y="111.3" width="2.6" height="2.6" fill="#7a5fd0"/>
<rect x="147.7" y="112.2" width="2.6" height="2.6" fill="#7a5fd0"/>
<rect x="154.7" y="114.0" width="2.6" height="2.6" fill="#7a5fd0"/>
<rect x="161.8" y="114.9" width="2.6" height="2.6" fill="#7a5fd0"/>
<rect x="176.7" y="115.7" width="2.6" height="2.6" fill="#7a5fd0"/>
<rect x="183.8" y="116.6" width="2.6" height="2.6" fill="#7a5fd0"/>
<rect x="190.8" y="117.5" width="2.6" height="2.6" fill="#7a5fd0"/>
<rect x="197.8" y="117.5" width="2.6" height="2.6" fill="#7a5fd0"/>
<rect x="204.9" y="118.4" width="2.6" height="2.6" fill="#7a5fd0"/>
<rect x="211.9" y="117.5" width="2.6" height="2.6" fill="#7a5fd0"/>
<rect x="218.9" y="118.4" width="2.6" height="2.6" fill="#7a5fd0"/>
<rect x="226.0" y="119.2" width="2.6" height="2.6" fill="#7a5fd0"/>
<rect x="233.0" y="120.1" width="2.6" height="2.6" fill="#7a5fd0"/>
<rect x="240.0" y="116.6" width="2.6" height="2.6" fill="#7a5fd0"/>
<path d="M135.5,98.9 L142.9,98.9 L155.2,102.1 L172.7,110.9 L190.3,112.6 L207.9,113.5 L225.5,115.8 L232.5,118.8 L239.6,114.4 L245.7,111.2" fill="none" stroke="#ff0000" stroke-width="2.2"/>
<path d="M135.5,101.2 L142.9,102.1 L155.2,105.6 L169.2,110.9 L181.5,113.5 L199.1,116.2 L211.4,118.8 L218.5,116.2 L225.5,119.7 L232.5,122.3 L239.6,117.0 L245.7,115.3" fill="none" stroke="#0000ff" stroke-width="2.2"/>
<line x1="142.5" y1="57.3" x2="142.5" y2="134.6" stroke="#000" stroke-width="1" stroke-dasharray="2,2" shape-rendering="crispEdges"/>
<line x1="163.6" y1="57.3" x2="163.6" y2="134.6" stroke="#000" stroke-width="1" stroke-dasharray="2,2" shape-rendering="crispEdges"/>
<line x1="184.7" y1="57.3" x2="184.7" y2="134.6" stroke="#000" stroke-width="1" stroke-dasharray="2,2" shape-rendering="crispEdges"/>
<line x1="205.8" y1="57.3" x2="205.8" y2="134.6" stroke="#000" stroke-width="1" stroke-dasharray="2,2" shape-rendering="crispEdges"/>
<line x1="226.9" y1="57.3" x2="226.9" y2="134.6" stroke="#000" stroke-width="1" stroke-dasharray="2,2" shape-rendering="crispEdges"/>
<line x1="135.5" y1="59" x2="245.7" y2="59" stroke="#000" stroke-width="1" stroke-dasharray="2,2" shape-rendering="crispEdges"/>
<line x1="135.5" y1="77.5" x2="245.7" y2="77.5" stroke="#000" stroke-width="1" stroke-dasharray="2,2" shape-rendering="crispEdges"/>
<line x1="135.5" y1="94.2" x2="245.7" y2="94.2" stroke="#000" stroke-width="1" stroke-dasharray="2,2" shape-rendering="crispEdges"/>
<line x1="135.5" y1="111.2" x2="245.7" y2="111.2" stroke="#000" stroke-width="1" stroke-dasharray="2,2" shape-rendering="crispEdges"/>
<line x1="135.5" y1="129.3" x2="245.7" y2="129.3" stroke="#000" stroke-width="1" stroke-dasharray="2,2" shape-rendering="crispEdges"/>
</g>
<rect x="136.0" y="57.8" width="109.2" height="76.3" fill="none" stroke="#000" stroke-width="1" shape-rendering="crispEdges"/>
<text x="128.5" y="63.1" font-size="11" fill="#000" text-anchor="end">30</text>
<text x="266" y="63.1" font-size="11" fill="#000" text-anchor="end">30</text>
<text x="128.5" y="81.6" font-size="11" fill="#000" text-anchor="end">20</text>
<text x="266" y="81.6" font-size="11" fill="#000" text-anchor="end">20</text>
<text x="128.5" y="98.3" font-size="11" fill="#000" text-anchor="end">10</text>
<text x="266" y="98.3" font-size="11" fill="#000" text-anchor="end">10</text>
<text x="128.5" y="115.3" font-size="11" fill="#000" text-anchor="end">0</text>
<text x="266" y="115.3" font-size="11" fill="#000" text-anchor="end">0</text>
<text x="128.5" y="133.4" font-size="11" fill="#000" text-anchor="end">-10</text>
<text x="266" y="133.4" font-size="11" fill="#000" text-anchor="end">-10</text>
<rect x="135.5" y="143.2" width="110.19999999999999" height="77.0" fill="none"/>
<rect x="135.6" y="187.0" width="7.8" height="33.2" fill="#009a00"/>
<rect x="143.4" y="180.7" width="5.5" height="39.5" fill="#009a00"/>
<rect x="148.9" y="179.6" width="7.7" height="40.5" fill="#009a00"/>
<rect x="156.5" y="201.8" width="7.7" height="18.4" fill="#009a00"/>
<rect x="164.2" y="207.4" width="5.5" height="12.8" fill="#009a00"/>
<rect x="169.6" y="218.1" width="7.3" height="2.0" fill="#009a00"/>
<rect x="156.5" y="182.4" width="7.7" height="19.4" fill="#1030c8"/>
<rect x="164.2" y="204.8" width="5.5" height="2.6" fill="#1030c8"/>
<line x1="142.5" y1="143.2" x2="142.5" y2="220.2" stroke="#000" stroke-width="1" stroke-dasharray="2,2" shape-rendering="crispEdges"/>
<line x1="163.6" y1="143.2" x2="163.6" y2="220.2" stroke="#000" stroke-width="1" stroke-dasharray="2,2" shape-rendering="crispEdges"/>
<line x1="184.7" y1="143.2" x2="184.7" y2="220.2" stroke="#000" stroke-width="1" stroke-dasharray="2,2" shape-rendering="crispEdges"/>
<line x1="205.8" y1="143.2" x2="205.8" y2="220.2" stroke="#000" stroke-width="1" stroke-dasharray="2,2" shape-rendering="crispEdges"/>
<line x1="226.9" y1="143.2" x2="226.9" y2="220.2" stroke="#000" stroke-width="1" stroke-dasharray="2,2" shape-rendering="crispEdges"/>
<line x1="135.5" y1="150.7" x2="245.7" y2="150.7" stroke="#000" stroke-width="1" stroke-dasharray="2,2" shape-rendering="crispEdges"/>
<line x1="135.5" y1="168.2" x2="245.7" y2="168.2" stroke="#000" stroke-width="1" stroke-dasharray="2,2" shape-rendering="crispEdges"/>
<line x1="135.5" y1="185.6" x2="245.7" y2="185.6" stroke="#000" stroke-width="1" stroke-dasharray="2,2" shape-rendering="crispEdges"/>
<line x1="135.5" y1="203.1" x2="245.7" y2="203.1" stroke="#000" stroke-width="1" stroke-dasharray="2,2" shape-rendering="crispEdges"/>
<rect x="136.0" y="143.7" width="109.2" height="76.0" fill="none" stroke="#000" stroke-width="1" shape-rendering="crispEdges"/>
<path d="M136.6,171.6 L142.0,169.1 L150.6,157.1 L159.1,153.7 L165.9,152.4 L184.6,152.0 L191.4,148.6 L198.3,148.6 L205.1,154.6 L211.9,155.8 L220.4,151.2 L225.5,149.5 L234.0,152.0 L244.3,164.0" fill="none" stroke="#e8531e" stroke-width="2.4"/>
<line x1="139.5" y1="173.3" x2="139.5" y2="185" stroke="#00a000" stroke-width="1.2"/>
<circle cx="139.5" cy="173.3" r="2.2" fill="#ffff00" stroke="#a05000" stroke-width="0.6"/>
<line x1="146.6" y1="148" x2="146.6" y2="185" stroke="#00a000" stroke-width="1.2"/>
<circle cx="146.6" cy="173.3" r="2.2" fill="#ffb000" stroke="#a05000" stroke-width="0.6"/>
<line x1="153.4" y1="148" x2="153.4" y2="185" stroke="#00a000" stroke-width="1.2"/>
<circle cx="153.4" cy="173.3" r="2.2" fill="#ff2000" stroke="#a05000" stroke-width="0.6"/>
<rect x="145.29999999999998" y="146" width="2.6" height="2.6" fill="#ff0000"/>
<rect x="152.1" y="146" width="2.6" height="2.6" fill="#ff0000"/>
<line x1="138" y1="219.6" x2="140.5" y2="219.6" stroke="#ff0000" stroke-width="1.2"/>
<line x1="143" y1="219.6" x2="145.5" y2="219.6" stroke="#ff0000" stroke-width="1.2"/>
<line x1="148" y1="219.6" x2="150.5" y2="219.6" stroke="#ff0000" stroke-width="1.2"/>
<line x1="153" y1="219.6" x2="155.5" y2="219.6" stroke="#ff0000" stroke-width="1.2"/>
<line x1="158" y1="219.6" x2="160.5" y2="219.6" stroke="#ff0000" stroke-width="1.2"/>
<line x1="163" y1="219.6" x2="165.5" y2="219.6" stroke="#ff0000" stroke-width="1.2"/>
<line x1="168" y1="219.6" x2="170.5" y2="219.6" stroke="#ff0000" stroke-width="1.2"/>
<line x1="173" y1="219.6" x2="175.5" y2="219.6" stroke="#ff0000" stroke-width="1.2"/>
<text x="128.5" y="154.79999999999998" font-size="11" fill="#000" text-anchor="end">2.0</text>
<text x="128.5" y="172.29999999999998" font-size="11" fill="#000" text-anchor="end">1.5</text>
<text x="128.5" y="189.7" font-size="11" fill="#000" text-anchor="end">1.0</text>
<text x="128.5" y="207.2" font-size="11" fill="#000" text-anchor="end">0.5</text>
<text x="128.5" y="224.29999999999998" font-size="11" fill="#000" text-anchor="end">0.0</text>
<text x="265.5" y="154.79999999999998" font-size="11" fill="#e8531e" text-anchor="end">96</text>
<text x="265.5" y="172.29999999999998" font-size="11" fill="#e8531e" text-anchor="end">84</text>
<text x="265.5" y="189.7" font-size="11" fill="#e8531e" text-anchor="end">73</text>
<text x="265.5" y="207.2" font-size="11" fill="#e8531e" text-anchor="end">61</text>
<text x="265.5" y="224.29999999999998" font-size="11" fill="#e8531e" text-anchor="end">50</text>
<path d="M135.6,260.9 L143.4,260.4 L150.6,253.2 L158.2,249.0 L164.2,248.6 L170.7,245.2 L176.1,247.6 L183.8,249.8 L192.3,253.7 L225.5,254.1 L234.0,258.8 L245.6,265.1 L245.7,306.4 L135.5,306.4 Z" fill="#ffff00"/>
<clipPath id="mq"><path d="M135.6,260.9 L143.4,260.4 L150.6,253.2 L158.2,249.0 L164.2,248.6 L170.7,245.2 L176.1,247.6 L183.8,249.8 L192.3,253.7 L225.5,254.1 L234.0,258.8 L245.6,265.1 L245.7,306.4 L135.5,306.4 Z"/></clipPath>
<rect x="165" y="220" width="4.6" height="90" fill="#ffd200" clip-path="url(#mq)"/>
<path d="M135.6,260.9 L143.4,260.4 L150.6,253.2 L158.2,249.0 L164.2,248.6 L170.7,245.2 L176.1,247.6 L183.8,249.8 L192.3,253.7 L225.5,254.1 L234.0,258.8 L245.6,265.1" fill="none" stroke="#000" stroke-width="2.2"/>
<line x1="142.5" y1="229.4" x2="142.5" y2="306.4" stroke="#000" stroke-width="1" stroke-dasharray="2,2" shape-rendering="crispEdges"/>
<line x1="163.6" y1="229.4" x2="163.6" y2="306.4" stroke="#000" stroke-width="1" stroke-dasharray="2,2" shape-rendering="crispEdges"/>
<line x1="184.7" y1="229.4" x2="184.7" y2="306.4" stroke="#000" stroke-width="1" stroke-dasharray="2,2" shape-rendering="crispEdges"/>
<line x1="205.8" y1="229.4" x2="205.8" y2="306.4" stroke="#000" stroke-width="1" stroke-dasharray="2,2" shape-rendering="crispEdges"/>
<line x1="226.9" y1="229.4" x2="226.9" y2="306.4" stroke="#000" stroke-width="1" stroke-dasharray="2,2" shape-rendering="crispEdges"/>
<line x1="135.5" y1="231" x2="245.7" y2="231" stroke="#000" stroke-width="1" stroke-dasharray="2,2" shape-rendering="crispEdges"/>
<line x1="135.5" y1="254" x2="245.7" y2="254" stroke="#000" stroke-width="1" stroke-dasharray="2,2" shape-rendering="crispEdges"/>
<line x1="135.5" y1="278.3" x2="245.7" y2="278.3" stroke="#000" stroke-width="1" stroke-dasharray="2,2" shape-rendering="crispEdges"/>
<line x1="135.5" y1="301.4" x2="245.7" y2="301.4" stroke="#000" stroke-width="1" stroke-dasharray="2,2" shape-rendering="crispEdges"/>
<rect x="136.0" y="229.9" width="109.2" height="76.0" fill="none" stroke="#000" stroke-width="1" shape-rendering="crispEdges"/>
<text x="128.5" y="235.1" font-size="11" fill="#000" text-anchor="end">1018</text>
<text x="251" y="235.1" font-size="11" fill="#000">1018</text>
<text x="128.5" y="258.1" font-size="11" fill="#000" text-anchor="end">1016</text>
<text x="251" y="258.1" font-size="11" fill="#000">1016</text>
<text x="128.5" y="282.40000000000003" font-size="11" fill="#000" text-anchor="end">1014</text>
<text x="251" y="282.40000000000003" font-size="11" fill="#000">1014</text>
<text x="128.5" y="305.5" font-size="11" fill="#000" text-anchor="end">1012</text>
<text x="251" y="305.5" font-size="11" fill="#000">1012</text>
<clipPath id="mw"><path d="M135.8,365.1 L142.4,368.0 L151.1,370.3 L165.1,372.6 L177.2,375.5 L185.1,375.0 L196.4,372.6 L226.0,372.0 L236.5,370.3 L245.2,369.8 L245.7,392 L135.5,392 Z"/></clipPath><g clip-path="url(#mw)">
<rect x="135.8" y="315.4" width="12.5" height="76.60000000000002" fill="#00c000"/>
<rect x="148.0" y="315.4" width="21.2" height="76.60000000000002" fill="#007a00"/>
<rect x="168.9" y="315.4" width="28.2" height="76.60000000000002" fill="#064a8f"/>
<rect x="196.8" y="315.4" width="14.2" height="76.60000000000002" fill="#007a00"/>
<rect x="210.7" y="315.4" width="14.8" height="76.60000000000002" fill="#064a8f"/>
<rect x="225.1" y="315.4" width="14.2" height="76.60000000000002" fill="#007a00"/>
<rect x="239.1" y="315.4" width="7.3" height="76.60000000000002" fill="#00c000"/>
</g>
<path d="M135.8,365.1 L142.4,368.0 L151.1,370.3 L165.1,372.6 L177.2,375.5 L185.1,375.0 L196.4,372.6 L226.0,372.0 L236.5,370.3 L245.2,369.8" fill="none" stroke="#0a1f9a" stroke-width="2.4"/>
<line x1="142.4" y1="340.4" x2="148.5" y2="340.4" stroke="#ee1010" stroke-width="1.3"/>
<line x1="148.5" y1="347.7" x2="161.6" y2="347.7" stroke="#ee1010" stroke-width="1.3"/>
<line x1="162.4" y1="351.7" x2="169.4" y2="351.7" stroke="#ee1010" stroke-width="1.3"/>
<line x1="170.3" y1="355.5" x2="176.4" y2="355.5" stroke="#ee1010" stroke-width="1.3"/>
<line x1="176.4" y1="358.1" x2="184.2" y2="358.1" stroke="#ee1010" stroke-width="1.3"/>
<line x1="185.1" y1="354.6" x2="188.6" y2="354.6" stroke="#ee1010" stroke-width="1.3"/>
<line x1="190.3" y1="351.2" x2="198.1" y2="351.2" stroke="#ee1010" stroke-width="1.3"/>
<line x1="198.1" y1="350.3" x2="210.3" y2="350.3" stroke="#ee1010" stroke-width="1.3"/>
<line x1="210.3" y1="351.2" x2="225.1" y2="351.2" stroke="#ee1010" stroke-width="1.3"/>
<line x1="226.0" y1="347.3" x2="232.1" y2="347.3" stroke="#ee1010" stroke-width="1.3"/>
<line x1="232.1" y1="342.4" x2="245.2" y2="342.4" stroke="#ee1010" stroke-width="1.3"/>
<line x1="142.5" y1="315.4" x2="142.5" y2="392" stroke="#000" stroke-width="1" stroke-dasharray="2,2" shape-rendering="crispEdges"/>
<line x1="163.6" y1="315.4" x2="163.6" y2="392" stroke="#000" stroke-width="1" stroke-dasharray="2,2" shape-rendering="crispEdges"/>
<line x1="184.7" y1="315.4" x2="184.7" y2="392" stroke="#000" stroke-width="1" stroke-dasharray="2,2" shape-rendering="crispEdges"/>
<line x1="205.8" y1="315.4" x2="205.8" y2="392" stroke="#000" stroke-width="1" stroke-dasharray="2,2" shape-rendering="crispEdges"/>
<line x1="226.9" y1="315.4" x2="226.9" y2="392" stroke="#000" stroke-width="1" stroke-dasharray="2,2" shape-rendering="crispEdges"/>
<line x1="135.5" y1="334.3" x2="245.7" y2="334.3" stroke="#000" stroke-width="1" stroke-dasharray="2,2" shape-rendering="crispEdges"/>
<line x1="135.5" y1="354.3" x2="245.7" y2="354.3" stroke="#000" stroke-width="1" stroke-dasharray="2,2" shape-rendering="crispEdges"/>
<line x1="135.5" y1="372.6" x2="245.7" y2="372.6" stroke="#000" stroke-width="1" stroke-dasharray="2,2" shape-rendering="crispEdges"/>
<rect x="136.0" y="315.9" width="109.2" height="75.6" fill="none" stroke="#000" stroke-width="1" shape-rendering="crispEdges"/>
<text x="128.5" y="319.5" font-size="11" fill="#000" text-anchor="end">20</text>
<text x="128.5" y="338.40000000000003" font-size="11" fill="#000" text-anchor="end">15</text>
<text x="128.5" y="358.40000000000003" font-size="11" fill="#000" text-anchor="end">10</text>
<text x="128.5" y="376.70000000000005" font-size="11" fill="#000" text-anchor="end">5</text>
<text x="128.5" y="396.1" font-size="11" fill="#000" text-anchor="end">0</text>
<text x="251" y="319.5" font-size="11" fill="#000">72</text>
<text x="251" y="338.40000000000003" font-size="11" fill="#000">54</text>
<text x="251" y="358.40000000000003" font-size="11" fill="#000">36</text>
<text x="251" y="376.70000000000005" font-size="11" fill="#000">18</text>
<text x="256" y="396.1" font-size="11" fill="#000">0</text>
<line x1="142.5" y1="398.5" x2="142.5" y2="430.4" stroke="#000" stroke-width="1" stroke-dasharray="2,2" shape-rendering="crispEdges"/>
<line x1="163.6" y1="398.5" x2="163.6" y2="430.4" stroke="#000" stroke-width="1" stroke-dasharray="2,2" shape-rendering="crispEdges"/>
<line x1="184.7" y1="398.5" x2="184.7" y2="430.4" stroke="#000" stroke-width="1" stroke-dasharray="2,2" shape-rendering="crispEdges"/>
<line x1="205.8" y1="398.5" x2="205.8" y2="430.4" stroke="#000" stroke-width="1" stroke-dasharray="2,2" shape-rendering="crispEdges"/>
<line x1="226.9" y1="398.5" x2="226.9" y2="430.4" stroke="#000" stroke-width="1" stroke-dasharray="2,2" shape-rendering="crispEdges"/>
<line x1="132.4" y1="405.3" x2="136.6" y2="417.6" stroke="#0a1a9a" stroke-width="1.3"/>
<path d="M138.6,423.3 L133.6,418.7 L139.7,416.6 Z" fill="#0a1a9a"/>
<line x1="139.2" y1="405.3" x2="143.4" y2="417.6" stroke="#0a1a9a" stroke-width="1.3"/>
<path d="M145.4,423.3 L140.4,418.7 L146.5,416.6 Z" fill="#0a1a9a"/>
<line x1="146.0" y1="405.3" x2="150.2" y2="417.6" stroke="#0a1a9a" stroke-width="1.3"/>
<path d="M152.2,423.3 L147.2,418.7 L153.3,416.6 Z" fill="#0a1a9a"/>
<line x1="152.8" y1="405.3" x2="157.0" y2="417.6" stroke="#0a1a9a" stroke-width="1.3"/>
<path d="M159.0,423.3 L154.0,418.7 L160.1,416.6 Z" fill="#0a1a9a"/>
<line x1="159.6" y1="405.3" x2="163.8" y2="417.6" stroke="#0a1a9a" stroke-width="1.3"/>
<path d="M165.8,423.3 L160.8,418.7 L166.9,416.6 Z" fill="#0a1a9a"/>
<line x1="166.4" y1="405.3" x2="170.6" y2="417.6" stroke="#0a1a9a" stroke-width="1.3"/>
<path d="M172.6,423.3 L167.6,418.7 L173.7,416.6 Z" fill="#0a1a9a"/>
<line x1="173.2" y1="405.3" x2="177.4" y2="417.6" stroke="#0a1a9a" stroke-width="1.3"/>
<path d="M179.4,423.3 L174.4,418.7 L180.5,416.6 Z" fill="#0a1a9a"/>
<line x1="180.0" y1="405.3" x2="184.2" y2="417.6" stroke="#0a1a9a" stroke-width="1.3"/>
<path d="M186.2,423.3 L181.2,418.7 L187.3,416.6 Z" fill="#0a1a9a"/>
<line x1="186.8" y1="405.3" x2="191.0" y2="417.6" stroke="#0a1a9a" stroke-width="1.3"/>
<path d="M193.0,423.3 L188.0,418.7 L194.1,416.6 Z" fill="#0a1a9a"/>
<line x1="193.6" y1="405.3" x2="197.8" y2="417.6" stroke="#0a1a9a" stroke-width="1.3"/>
<path d="M199.8,423.3 L194.8,418.7 L200.9,416.6 Z" fill="#0a1a9a"/>
<line x1="200.4" y1="405.3" x2="204.6" y2="417.6" stroke="#0a1a9a" stroke-width="1.3"/>
<path d="M206.6,423.3 L201.6,418.7 L207.7,416.6 Z" fill="#0a1a9a"/>
<line x1="207.2" y1="405.3" x2="211.4" y2="417.6" stroke="#0a1a9a" stroke-width="1.3"/>
<path d="M213.4,423.3 L208.4,418.7 L214.5,416.6 Z" fill="#0a1a9a"/>
<line x1="214.0" y1="405.3" x2="218.2" y2="417.6" stroke="#0a1a9a" stroke-width="1.3"/>
<path d="M220.2,423.3 L215.2,418.7 L221.3,416.6 Z" fill="#0a1a9a"/>
<line x1="220.8" y1="405.3" x2="225.0" y2="417.6" stroke="#0a1a9a" stroke-width="1.3"/>
<path d="M227.0,423.3 L222.0,418.7 L228.1,416.6 Z" fill="#0a1a9a"/>
<line x1="227.6" y1="405.3" x2="231.8" y2="417.6" stroke="#0a1a9a" stroke-width="1.3"/>
<path d="M233.8,423.3 L228.8,418.7 L234.9,416.6 Z" fill="#0a1a9a"/>
<line x1="234.4" y1="405.3" x2="238.6" y2="417.6" stroke="#0a1a9a" stroke-width="1.3"/>
<path d="M240.6,423.3 L235.6,418.7 L241.7,416.6 Z" fill="#0a1a9a"/>
<line x1="241.2" y1="405.3" x2="245.4" y2="417.6" stroke="#0a1a9a" stroke-width="1.3"/>
<path d="M247.4,423.3 L242.4,418.7 L248.5,416.6 Z" fill="#0a1a9a"/>
<rect x="136.0" y="399.0" width="109.2" height="30.9" fill="none" stroke="#000" stroke-width="1" shape-rendering="crispEdges"/>
<rect x="135.5" y="436.7" width="110.2" height="77.8" fill="#87cefa"/>
<rect x="170" y="436.7" width="61.6" height="77.8" fill="#7cbdea"/>
<line x1="142.5" y1="436.7" x2="142.5" y2="514.5" stroke="#000" stroke-width="1" stroke-dasharray="2,2" shape-rendering="crispEdges"/>
<line x1="163.6" y1="436.7" x2="163.6" y2="514.5" stroke="#000" stroke-width="1" stroke-dasharray="2,2" shape-rendering="crispEdges"/>
<line x1="184.7" y1="436.7" x2="184.7" y2="514.5" stroke="#000" stroke-width="1" stroke-dasharray="2,2" shape-rendering="crispEdges"/>
<line x1="205.8" y1="436.7" x2="205.8" y2="514.5" stroke="#000" stroke-width="1" stroke-dasharray="2,2" shape-rendering="crispEdges"/>
<line x1="226.9" y1="436.7" x2="226.9" y2="514.5" stroke="#000" stroke-width="1" stroke-dasharray="2,2" shape-rendering="crispEdges"/>
<line x1="135.5" y1="456.6" x2="245.7" y2="456.6" stroke="#000" stroke-width="1" stroke-dasharray="2,2" shape-rendering="crispEdges"/>
<line x1="135.5" y1="475" x2="245.7" y2="475" stroke="#000" stroke-width="1" stroke-dasharray="2,2" shape-rendering="crispEdges"/>
<line x1="135.5" y1="494.8" x2="245.7" y2="494.8" stroke="#000" stroke-width="1" stroke-dasharray="2,2" shape-rendering="crispEdges"/>
<circle cx="136.8" cy="475.1" r="2.8" fill="#b02222"/>
<circle cx="143.7" cy="475.1" r="2.8" fill="#b02222"/>
<circle cx="150.6" cy="458.5" r="2.8" fill="#b02222"/>
<circle cx="157.5" cy="458.5" r="2.8" fill="#b02222"/>
<circle cx="164.4" cy="459.9" r="2.8" fill="#b02222"/>
<circle cx="170.3" cy="451.5" r="2.8" fill="#b02222"/>
<circle cx="177.2" cy="449.1" r="2.8" fill="#b02222"/>
<circle cx="184.1" cy="449.1" r="2.8" fill="#b02222"/>
<circle cx="191.6" cy="449.1" r="2.8" fill="#b02222"/>
<circle cx="198.3" cy="451.5" r="2.8" fill="#b02222"/>
<circle cx="204.8" cy="449.1" r="2.8" fill="#b02222"/>
<circle cx="211.7" cy="449.1" r="2.8" fill="#b02222"/>
<circle cx="218.6" cy="449.1" r="2.8" fill="#b02222"/>
<circle cx="225.5" cy="449.1" r="2.8" fill="#b02222"/>
<circle cx="232.3" cy="449.1" r="2.8" fill="#b02222"/>
<circle cx="239.2" cy="449.1" r="2.8" fill="#b02222"/>
<circle cx="245.1" cy="449.1" r="2.8" fill="#b02222"/>
<circle cx="191.6" cy="456.6" r="2.8" fill="#000000"/>
<circle cx="198.3" cy="464.5" r="2.8" fill="#000000"/>
<circle cx="204.8" cy="467.8" r="2.8" fill="#000000"/>
<circle cx="211.7" cy="469.8" r="2.8" fill="#000000"/>
<circle cx="218.6" cy="481.0" r="2.8" fill="#000000"/>
<circle cx="225.5" cy="485.1" r="2.8" fill="#000000"/>
<circle cx="232.3" cy="488.9" r="2.8" fill="#000000"/>
<circle cx="239.2" cy="481.0" r="2.8" fill="#000000"/>
<circle cx="245.1" cy="476.3" r="2.8" fill="#000000"/>
<circle cx="198.3" cy="468.4" r="2.8" fill="#9a9a9a"/>
<circle cx="143.7" cy="481.0" r="2.8" fill="#5a5a5a"/>
<circle cx="150.6" cy="492.4" r="2.8" fill="#5a5a5a"/>
<circle cx="157.5" cy="492.4" r="2.8" fill="#5a5a5a"/>
<circle cx="164.4" cy="492.4" r="2.8" fill="#5a5a5a"/>
<circle cx="170.7" cy="488.9" r="2.8" fill="#cfcfcf"/>
<circle cx="177.2" cy="488.9" r="2.8" fill="#9a9a9a"/>
<circle cx="184.1" cy="488.9" r="2.8" fill="#000000"/>
<circle cx="191.6" cy="488.9" r="2.8" fill="#9a9a9a"/>
<circle cx="198.3" cy="485.5" r="2.8" fill="#9a9a9a"/>
<circle cx="211.7" cy="481.0" r="2.8" fill="#9a9a9a"/>
<circle cx="211.7" cy="485.5" r="2.8" fill="#cfcfcf"/>
<circle cx="218.6" cy="488.9" r="2.8" fill="#9a9a9a"/>
<circle cx="225.5" cy="492.4" r="2.8" fill="#9a9a9a"/>
<circle cx="232.3" cy="493.4" r="2.8" fill="#9a9a9a"/>
<circle cx="239.2" cy="493.4" r="2.8" fill="#9a9a9a"/>
<circle cx="143.7" cy="500.3" r="2.8" fill="#9a9a9a"/>
<circle cx="184.1" cy="500.3" r="2.8" fill="#5a5a5a"/>
<circle cx="184.1" cy="504.2" r="2.8" fill="#9a9a9a"/>
<circle cx="137.8" cy="505.2" r="2.8" fill="#cfcfcf"/>
<circle cx="150.6" cy="492.4" r="2.8" fill="#5a5a5a"/>
<circle cx="170.7" cy="492.4" r="2.8" fill="#ffffff"/>
<circle cx="177.2" cy="492.4" r="2.8" fill="#ffffff"/>
<circle cx="191.6" cy="492.4" r="2.8" fill="#cfcfcf"/>
<circle cx="198.3" cy="492.4" r="2.8" fill="#ffffff"/>
<circle cx="204.8" cy="492.4" r="2.8" fill="#ffffff"/>
<circle cx="211.7" cy="492.4" r="2.8" fill="#ffffff"/>
<circle cx="218.6" cy="500.3" r="2.8" fill="#cfcfcf"/>
<circle cx="225.5" cy="500.3" r="2.8" fill="#cfcfcf"/>
<circle cx="232.3" cy="500.3" r="2.8" fill="#9a9a9a"/>
<circle cx="239.2" cy="500.3" r="2.8" fill="#cfcfcf"/>
<circle cx="143.7" cy="504.2" r="2.8" fill="#ffffff"/>
<circle cx="150.6" cy="500.3" r="2.8" fill="#ffffff"/>
<circle cx="164.4" cy="499.3" r="2.8" fill="#ffffff"/>
<circle cx="191.6" cy="500.3" r="2.8" fill="#ffffff"/>
<circle cx="184.1" cy="509.2" r="2.8" fill="#ffffff"/>
<circle cx="218.6" cy="509.2" r="2.8" fill="#ffffff"/>
<circle cx="225.5" cy="509.2" r="2.8" fill="#ffffff"/>
<circle cx="232.3" cy="509.2" r="2.8" fill="#ffffff"/>
<circle cx="239.2" cy="509.2" r="2.8" fill="#ffffff"/>
<circle cx="136.8" cy="509.2" r="2.8" fill="#ffffff"/>
<path d="M135.8,470.8 L142.7,470.4 L150.6,466.8 L164.4,463.9 L180.2,463.9 L188.0,466.8 L195.9,469.8 L203.8,470.8 L211.7,471.7 L219.5,474.7 L231.4,474.3 L239.2,470.8 L245.5,468.8" fill="none" stroke="#f5a000" stroke-width="2.4"/>
<rect x="136.0" y="437.2" width="109.2" height="76.8" fill="none" stroke="#000" stroke-width="1" shape-rendering="crispEdges"/>
<text x="128.5" y="440.8" font-size="11" fill="#000" text-anchor="end">15.0</text>
<text x="128.5" y="460.70000000000005" font-size="11" fill="#000" text-anchor="end">7.0</text>
<text x="128.5" y="479.1" font-size="11" fill="#000" text-anchor="end">2.0</text>
<text x="128.5" y="498.90000000000003" font-size="11" fill="#000" text-anchor="end">0.5</text>
<text x="128.5" y="518.6" font-size="11" fill="#000" text-anchor="end">0.0</text>
<text x="251" y="440.8" font-size="11" fill="#f08000">100</text>
<text x="251" y="460.70000000000005" font-size="11" fill="#f08000">20</text>
<text x="251" y="479.1" font-size="11" fill="#f08000">5</text>
<text x="251" y="498.90000000000003" font-size="11" fill="#f08000">1</text>
<text x="251" y="518.6" font-size="11" fill="#f08000">0</text>
<clipPath id="mk"><rect x="135.5" y="523.4" width="110.2" height="77.7"/></clipPath><g clip-path="url(#mk)">
<rect x="135.5" y="523.4" width="110.2" height="77.7" fill="#87cefa"/>
<rect x="170" y="523.4" width="61.6" height="77.7" fill="#7cbdea"/>
<path d="M163.9,603.2 L167.9,586.8 L176.1,574.5 L184.3,566.3 L190.4,556.1 L196.6,545.9 L204.8,542.8 L210.9,527.5 L217.0,523.8 L231.3,523.8 L239.5,533.6 L247.7,541.8 L247.7,603.2 Z" fill="#ffffff"/>
<path d="M184.3,603.2 L190.4,576.6 L196.6,531.6 L202.7,535.7 L206.8,538.7 L210.9,527.5 L219.1,523.8 L233.4,523.8 L239.5,532.6 L247.7,539.8 L247.7,603.2 Z" fill="#9a9a9a"/>
<path d="M133.2,603.2 L133.2,572.5 L143.4,563.3 L149.5,575.6 L163.9,586.8 L165.9,603.2 Z" fill="#5a5a5a"/>
<path d="M182.3,603.2 L184.3,568.4 L192.5,572.5 L204.8,595.0 L215.0,556.1 L225.2,534.7 L233.4,543.9 L243.6,562.3 L247.7,566.3 L247.7,603.2 Z" fill="#5a5a5a"/>
<path d="M133.2,603.2 L133.2,595.0 L149.5,590.9 L163.9,601.1 L163.9,603.2 Z" fill="#3a3a3a"/>
<path d="M184.3,603.2 L190.4,576.6 L196.6,531.6" fill="none" stroke="#bbb" stroke-width="1.1"/>
<path d="M210.9,523.4 L217.0,523.8 L231.3,523.8 L239.5,533.6 L245.7,541.8" fill="none" stroke="#fff" stroke-width="1.1"/>
<rect x="217.0" y="589.9" width="3.0" height="11.2" fill="#ffb000"/>
<rect x="224.6" y="589.9" width="3.0" height="11.2" fill="#ffb000"/>
<rect x="231.3" y="589.9" width="3.0" height="11.2" fill="#ffb000"/>
<rect x="238.1" y="589.9" width="3.0" height="11.2" fill="#ffb000"/>
<line x1="142.5" y1="523.4" x2="142.5" y2="601.1" stroke="#000" stroke-width="1" stroke-dasharray="2,2" shape-rendering="crispEdges"/>
<line x1="163.6" y1="523.4" x2="163.6" y2="601.1" stroke="#000" stroke-width="1" stroke-dasharray="2,2" shape-rendering="crispEdges"/>
<line x1="184.7" y1="523.4" x2="184.7" y2="601.1" stroke="#000" stroke-width="1" stroke-dasharray="2,2" shape-rendering="crispEdges"/>
<line x1="205.8" y1="523.4" x2="205.8" y2="601.1" stroke="#000" stroke-width="1" stroke-dasharray="2,2" shape-rendering="crispEdges"/>
<line x1="226.9" y1="523.4" x2="226.9" y2="601.1" stroke="#000" stroke-width="1" stroke-dasharray="2,2" shape-rendering="crispEdges"/>
<line x1="135.5" y1="543.2" x2="245.7" y2="543.2" stroke="#000" stroke-width="1" stroke-dasharray="2,2" shape-rendering="crispEdges"/>
<line x1="135.5" y1="562.3" x2="245.7" y2="562.3" stroke="#000" stroke-width="1" stroke-dasharray="2,2" shape-rendering="crispEdges"/>
<line x1="135.5" y1="582.3" x2="245.7" y2="582.3" stroke="#000" stroke-width="1" stroke-dasharray="2,2" shape-rendering="crispEdges"/>
</g>
<rect x="136.0" y="523.9" width="109.2" height="76.7" fill="none" stroke="#000" stroke-width="1" shape-rendering="crispEdges"/>
<text x="128.5" y="527.5" font-size="11" fill="#000" text-anchor="end">8</text>
<text x="128.5" y="547.3000000000001" font-size="11" fill="#000" text-anchor="end">6</text>
<text x="128.5" y="566.4" font-size="11" fill="#000" text-anchor="end">4</text>
<text x="128.5" y="586.4" font-size="11" fill="#000" text-anchor="end">2</text>
<text x="128.5" y="605.2" font-size="11" fill="#000" text-anchor="end">0</text>
<text x="251" y="527.5" font-size="11" fill="#f08000">1</text>
<text x="251" y="547.3000000000001" font-size="11" fill="#f08000">0.75</text>
<text x="251" y="566.4" font-size="11" fill="#f08000">0.5</text>
<text x="251" y="586.4" font-size="11" fill="#f08000">0.25</text>
<text x="251" y="605.2" font-size="11" fill="#f08000">0</text>
<text x="164" y="614.5" font-size="12" fill="#000" text-anchor="middle">18</text>
<text x="203.7" y="614.5" font-size="12" fill="#000" text-anchor="middle">00</text>
<text x="244.6" y="614.5" font-size="12" fill="#000" text-anchor="middle">06</text>
<text x="5.3" y="18.5" font-size="11" fill="#000" textLength="60" lengthAdjust="spacingAndGlyphs">Czas lokalny</text>
<text x="5.3" y="30.5" font-size="11" fill="#000" textLength="55" lengthAdjust="spacingAndGlyphs" letter-spacing="0.5">(CET/CEST)</text>
<text x="5.3" y="46.4" font-size="11" fill="#a52a2a" textLength="94.4" lengthAdjust="spacingAndGlyphs">Temperatura gruntu</text>
<text x="27.6" y="56" font-size="11" fill="#a52a2a">max/min</text>
<text x="5.3" y="67.6" font-size="11" fill="#000">Temperatura:</text>
<text x="12.7" y="80.4" font-size="11" fill="#ff0000" textLength="77.5" lengthAdjust="spacingAndGlyphs">punkt środkowy</text>
<text x="27.6" y="90" font-size="11" fill="#ffd0c0">max/min</text>
<text x="9.5" y="102" font-size="11" fill="#0000dd" textLength="58" lengthAdjust="spacingAndGlyphs">odczuwana</text>
<text x="27.6" y="112.6" font-size="11" fill="#b0e0ff">max/min</text>
<text x="6" y="123.9" font-size="11" fill="#6060d0" textLength="87" lengthAdjust="spacingAndGlyphs">Temp. punktu rosy</text>
<text x="5.8" y="140.4" font-size="11" fill="#ff0000" textLength="94.7" lengthAdjust="spacingAndGlyphs">Opad powyżej skali</text>
<text x="5.8" y="154.4" font-size="11" fill="#e8531e" textLength="97.5" lengthAdjust="spacingAndGlyphs">Wilgotność względna</text>
<text x="5.8" y="168.4" font-size="11" fill="#000" textLength="85" lengthAdjust="spacingAndGlyphs">Wystąpienie burzy</text>
<text x="5.8" y="182.2" font-size="11" fill="#00a000">Deszcz: max</text>
<text x="49" y="193.1" font-size="11" fill="#00a000">średni</text>
<text x="5.8" y="204.4" font-size="11" fill="#2040d0">Śnieg:</text>
<text x="49" y="204.4" font-size="11" fill="#2040d0">max</text>
<text x="49" y="215.3" font-size="11" fill="#2040d0">średni</text>
<text x="5.8" y="227" font-size="11" fill="#ff0000" textLength="91" lengthAdjust="spacingAndGlyphs">Wystąpienie opadu</text>
<text x="5.8" y="240.5" font-size="11" fill="#ff0000" textLength="72" lengthAdjust="spacingAndGlyphs">konwekcyjnego</text>
<text x="5" y="266.3" font-size="11" fill="#000">Ciśnienie</text>
<text x="5" y="279.3" font-size="11" fill="#000">zredukowane</text>
<text x="5" y="292.2" font-size="11" fill="#000" textLength="87.5" lengthAdjust="spacingAndGlyphs">do poziomu morza</text>
<text x="5" y="322" font-size="11" fill="#000">Wiatr na <tspan font-family="'Liberation Serif', serif">10m</tspan>:</text>
<text x="10" y="337.2" font-size="11" fill="#ff0000" textLength="100" lengthAdjust="spacingAndGlyphs">poryw powyżej skali</text>
<text x="10" y="351.3" font-size="11" fill="#ff0000" textLength="94" lengthAdjust="spacingAndGlyphs">max porywy wiatru</text>
<text x="10" y="371.3" font-size="11" fill="#1a2a9a" textLength="78.5" lengthAdjust="spacingAndGlyphs">prędkość wiatru</text>
<text x="10" y="384.3" font-size="11" fill="#1a2a9a" textLength="88" lengthAdjust="spacingAndGlyphs">w środku obszaru</text>
<text x="10" y="412.2" font-size="11" fill="#1a2a9a" textLength="73" lengthAdjust="spacingAndGlyphs">kierunek wiatru</text>
<text x="6" y="432.2" font-size="11" fill="#a52a2a" textLength="90" lengthAdjust="spacingAndGlyphs">Wierzchołek chmur</text>
<text x="5" y="447.7" font-size="11" fill="#000" textLength="86" lengthAdjust="spacingAndGlyphs">Podstawa chmur*</text>
<text x="5" y="458.3" font-size="11" fill="#000">o pokryciu</text>
<text x="10" y="471" font-size="11.5" fill="#000" textLength="43.5" lengthAdjust="spacingAndGlyphs">> 7.9 okt.</text>
<text x="10" y="482.2" font-size="11.5" fill="#555" textLength="43.5" lengthAdjust="spacingAndGlyphs">> 6.5 okt.</text>
<text x="10" y="492.7" font-size="11.5" fill="#999" textLength="43.5" lengthAdjust="spacingAndGlyphs">> 4.5 okt.</text>
<text x="10" y="503" font-size="11.5" fill="#ccc" textLength="43.5" lengthAdjust="spacingAndGlyphs">> 2.5 okt.</text>
<rect x="11" y="505.3" width="44" height="11" fill="#87cefa"/>
<text x="10" y="513.8" font-size="11.5" fill="#fff" textLength="43.5" lengthAdjust="spacingAndGlyphs">> 0.1 okt.</text>
<text x="6" y="528.8" font-size="11" fill="#ff8c00" textLength="57" lengthAdjust="spacingAndGlyphs">Widzialność</text>
<text x="5.6" y="546.4" font-size="11" fill="#000" textLength="39" lengthAdjust="spacingAndGlyphs">Chmury:</text>
<rect x="9.8" y="551" width="41" height="11.1" fill="#87cefa"/>
<text x="11" y="559.2" font-size="11" fill="#fff">wysokie</text>
<text x="10" y="572" font-size="11" fill="#aaa">średnie</text>
<text x="10" y="584.2" font-size="11" fill="#444">niskie</text>
<text x="10" y="596" font-size="11" fill="#222" textLength="61" lengthAdjust="spacingAndGlyphs">bardzo niskie</text>
<text x="5.3" y="608.2" font-size="11" fill="#ffb000" textLength="20.5" lengthAdjust="spacingAndGlyphs">Mgła</text>
<text x="6" y="625.2" font-size="11.5" fill="#000" textLength="131.8" lengthAdjust="spacingAndGlyphs" letter-spacing="0.6">Czas uniwersalny (UTC)</text>
<text x="5" y="651" font-size="9.5" fill="#000" font-weight="bold">*<tspan dx="1" textLength="102" lengthAdjust="spacingAndGlyphs">powyżej poziomu morza</tspan></text>
<path d="M68.0,16.0 L133.0,16.0 L155.0,43.0" fill="none" stroke="#000" stroke-width="1.1"/>
<path d="M102.7,42.7 L128.0,42.7 L149.0,83.0" fill="none" stroke="#a52a2a" stroke-width="1.1"/>
<path d="M91.0,76.5 L115.0,76.5" fill="none" stroke="#ff0000" stroke-width="1.1"/>
<path d="M131.0,76.5 L135.0,76.5 L156.0,100.0" fill="none" stroke="#ff0000" stroke-width="1.1"/>
<path d="M70.0,98.3 L120.0,98.3 L135.0,100.0 L140.0,103.0" fill="none" stroke="#0000dd" stroke-width="1.1"/>
<path d="M94.3,120.0 L128.0,120.0 L136.0,116.0 L143.0,112.0" fill="none" stroke="#6060d0" stroke-width="1.1"/>
<path d="M102.7,136.7 L141.0,136.7 L146.3,147.0" fill="none" stroke="#ff0000" stroke-width="1.1"/>
<path d="M106.0,150.7 L111.7,150.7" fill="none" stroke="#e8531e" stroke-width="1.1"/>
<path d="M130.0,151.2 L148.0,160.6" fill="none" stroke="#e8531e" stroke-width="1.1"/>
<path d="M92.7,165.7 L111.7,165.7" fill="none" stroke="#000" stroke-width="1.1"/>
<path d="M128.3,165.7 L138.3,171.7" fill="none" stroke="#000" stroke-width="1.1"/>
<path d="M70.0,179.3 L139.5,179.3" fill="none" stroke="#00a000" stroke-width="1.1"/>
<path d="M80.0,190.7 L146.0,190.7" fill="none" stroke="#00a000" stroke-width="1.1"/>
<path d="M70.0,201.7 L111.7,201.7" fill="none" stroke="#2040d0" stroke-width="1.1"/>
<path d="M130.0,202.3 L160.8,171.6" fill="none" stroke="#2040d0" stroke-width="1.1"/>
<path d="M80.0,212.3 L131.8,212.3 L157.4,188.7" fill="none" stroke="#2040d0" stroke-width="1.1"/>
<path d="M97.3,224.2 L143.7,224.2 L147.0,219.5" fill="none" stroke="#ff0000" stroke-width="1.1"/>
<path d="M50.8,264.2 L131.7,264.2 L136.0,261.0" fill="none" stroke="#000" stroke-width="1.1"/>
<path d="M110.8,334.2 L116.7,334.2" fill="none" stroke="#ff0000" stroke-width="1.1"/>
<path d="M130.2,334.6 L138.9,316.3" fill="none" stroke="#ff0000" stroke-width="1.1"/>
<path d="M106.7,348.3 L132.0,346.8 L148.5,340.4" fill="none" stroke="#ff0000" stroke-width="1.1"/>
<path d="M92.5,367.3 L136.0,367.3" fill="none" stroke="#1a2a9a" stroke-width="1.1"/>
<path d="M86.7,410.3 L140.8,410.3 L143.0,414.0" fill="none" stroke="#1a2a9a" stroke-width="1.1"/>
<path d="M100.0,430.2 L133.3,430.2 L184.0,447.0" fill="none" stroke="#a52a2a" stroke-width="1.1"/>
<path d="M57.5,468.3 L133.3,468.3 L192.0,456.0" fill="none" stroke="#000" stroke-width="1.1"/>
<path d="M57.5,480.0 L143.0,480.6" fill="none" stroke="#555" stroke-width="1.1"/>
<path d="M57.5,490.3 L133.0,490.3 L142.0,497.0" fill="none" stroke="#999" stroke-width="1.1"/>
<path d="M57.5,500.7 L133.0,500.7 L141.0,508.0" fill="none" stroke="#ccc" stroke-width="1.1"/>
<path d="M55.0,509.3 L136.0,509.3" fill="none" stroke="#87cefa" stroke-width="1.1"/>
<path d="M55.0,512.8 L136.0,512.8" fill="none" stroke="#87cefa" stroke-width="1.1"/>
<path d="M67.5,526.7 L129.0,526.7 L134.8,519.0 L173.3,464.8" fill="none" stroke="#ff8c00" stroke-width="1.1"/>
<path d="M52.0,554.5 L160.0,554.5" fill="none" stroke="#87cefa" stroke-width="1.1"/>
<path d="M52.0,557.8 L160.0,557.8" fill="none" stroke="#87cefa" stroke-width="1.1"/>
<path d="M49.2,571.4 L150.0,570.0" fill="none" stroke="#999" stroke-width="1.1"/>
<path d="M40.4,582.2 L122.0,582.2" fill="none" stroke="#333" stroke-width="1.1"/>
<path d="M131.0,582.2 L136.0,582.2" fill="none" stroke="#333" stroke-width="1.1"/>
<path d="M73.9,594.0 L150.0,596.0" fill="none" stroke="#222" stroke-width="1.1"/>
<path d="M30.5,605.2 L218.0,605.2 L218.0,598.0" fill="none" stroke="#ffb000" stroke-width="1.3"/>
<path d="M137.3,623.2 L147.5,623.2 L156.7,611.3" fill="none" stroke="#000" stroke-width="1.1"/>
<rect x="5" y="0" width="1.2" height="1.5" fill="#000"/>
</g></svg>
</body></html>
